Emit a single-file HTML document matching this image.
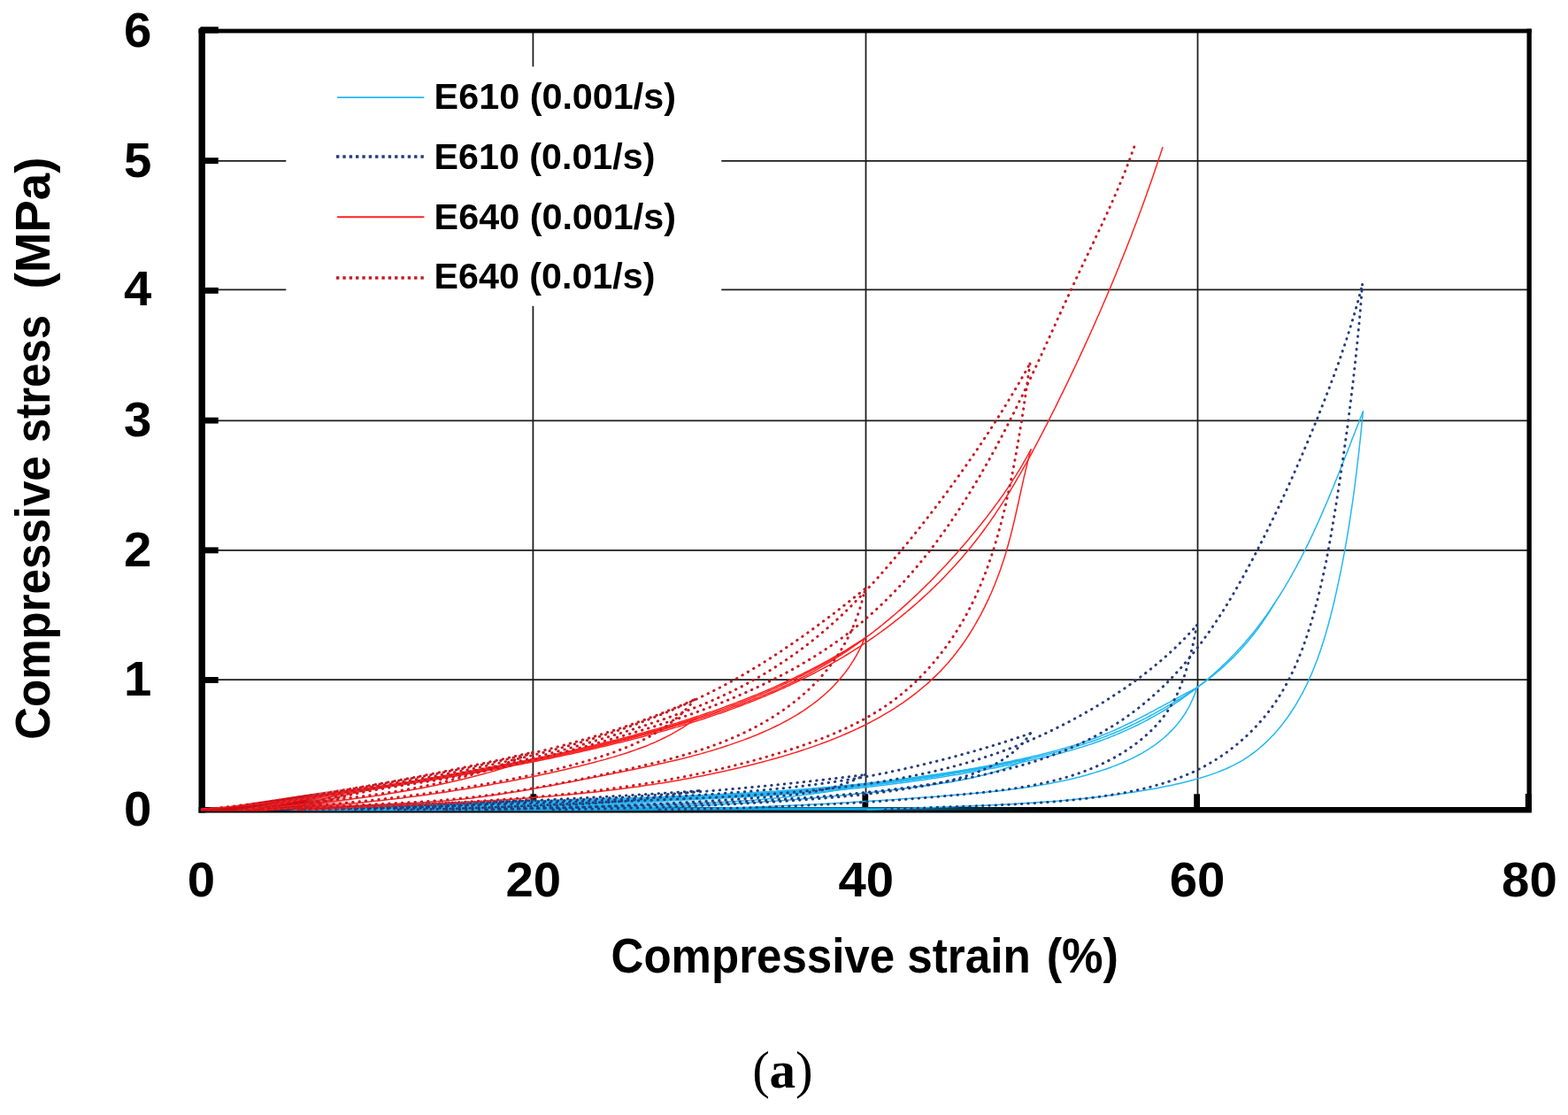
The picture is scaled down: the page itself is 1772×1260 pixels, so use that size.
<!DOCTYPE html>
<html lang="en">
<head>
<meta charset="utf-8">
<title>Compressive stress vs. compressive strain</title>
<style>
html,body{margin:0;padding:0;background:#fff;overflow:hidden}
svg{display:block}
.sb{font-family:"Liberation Sans",sans-serif;font-weight:bold;fill:#000}
.sf{font-family:"Liberation Serif",serif;fill:#000}
.g{stroke:#1c1c1c;stroke-width:1.75;fill:none}
.k{fill:#000}
.c{fill:none;stroke-linejoin:round}
.bs{stroke:#22b8f2;stroke-width:1.5;stroke-linecap:round}
.rs{stroke:#ff2222;stroke-width:1.5;stroke-linecap:round}
.bd{stroke:#263c7c;stroke-width:2.95;stroke-dasharray:0.5 6.84;stroke-linecap:round}
.rd{stroke:#c81a24;stroke-width:2.95;stroke-dasharray:0.5 6.84;stroke-linecap:round}
.c .ls{stroke-width:1.9}
.c .lg{stroke-width:3.4;stroke-dasharray:3.4 3.94;stroke-linecap:butt}
</style>
</head>
<body>
<svg width="1772" height="1260" viewBox="0 0 1772 1260">
<rect width="1772" height="1260" fill="#fff"/>
<g class="g">
<line x1="230" y1="181.8" x2="1727" y2="181.8"/>
<line x1="230" y1="327.3" x2="1727" y2="327.3"/>
<line x1="230" y1="475.3" x2="1727" y2="475.3"/>
<line x1="230" y1="621.9" x2="1727" y2="621.9"/>
<line x1="230" y1="768.0" x2="1727" y2="768.0"/>
<line x1="602.4" y1="36" x2="602.4" y2="914"/>
<line x1="978.5" y1="36" x2="978.5" y2="914"/>
<line x1="1353.5" y1="36" x2="1353.5" y2="914"/>
</g>
<rect x="323.3" y="75.3" width="492" height="270.6" fill="#fff"/>
<g class="k">
<rect x="224.5" y="32.5" width="7.4" height="886"/>
<rect x="224.5" y="912" width="1506.3" height="6.5"/>
<rect x="228" y="32.6" width="1502.8" height="4.8"/>
<rect x="1725.5" y="32.6" width="5.3" height="884"/>
<path d="M227 30.3H246.8V37.4H224.5V32.8Z"/>
<rect x="228" y="178.2" width="18.7" height="6.9"/>
<rect x="228" y="324.9" width="18.7" height="6.9"/>
<rect x="228" y="471.7" width="18.7" height="6.9"/>
<rect x="228" y="618.4" width="18.7" height="6.9"/>
<rect x="228" y="765.0" width="18.7" height="6.9"/>
<rect x="599.4" y="897.3" width="6.8" height="18"/>
<rect x="974.4" y="897.3" width="6.8" height="18"/>
<rect x="1349.2" y="897.3" width="6.8" height="18"/>
<rect x="1723.8" y="897" width="7" height="20"/>
</g>
<defs>
<linearGradient id="fr" gradientUnits="userSpaceOnUse" x1="228" y1="0" x2="470" y2="0"><stop offset="0" stop-color="#d2080e"/><stop offset="0.48" stop-color="#d2080e"/><stop offset="0.72" stop-color="#d2080e" stop-opacity="0"/></linearGradient>
<linearGradient id="fa" gradientUnits="userSpaceOnUse" x1="560" y1="0" x2="1180" y2="0"><stop offset="0" stop-color="#0ea8e8" stop-opacity="0"/><stop offset="0.1" stop-color="#0ea8e8"/><stop offset="0.66" stop-color="#0ea8e8"/><stop offset="1" stop-color="#0a6088" stop-opacity="0"/></linearGradient>
<linearGradient id="fb" gradientUnits="userSpaceOnUse" x1="300" y1="0" x2="840" y2="0"><stop offset="0" stop-color="#10a6e6" stop-opacity="0"/><stop offset="0.1" stop-color="#10a6e6"/><stop offset="0.66" stop-color="#10a6e6"/><stop offset="1" stop-color="#10a6e6" stop-opacity="0"/></linearGradient>
</defs>
<path fill="url(#fb)" d="M300 915L400 912.3L520 908.8L602 906L700 902.5L780 899L840 896L840 916.4L300 916.4Z"/>
<rect x="560" y="912.4" width="620" height="3.3" fill="url(#fa)"/>
<g class="c bs">
<path d="M228 914.5L231 914.5L234 914.5L237.1 914.5L240.1 914.4L243.1 914.4L246.1 914.4L249.1 914.4L252.1 914.4L255.2 914.3L258.2 914.3L261.2 914.3L264.2 914.3L267.2 914.2L270.2 914.2L273.3 914.2L276.3 914.2L279.3 914.1L282.3 914.1L285.3 914.1L288.3 914L291.4 914L294.4 914L297.4 913.9L300.4 913.9L303.4 913.8L306.4 913.8L309.5 913.8L312.5 913.7L315.5 913.7L318.5 913.6L321.5 913.6L324.5 913.5L327.5 913.5L330.6 913.5L333.6 913.4L336.6 913.4L339.6 913.3L342.6 913.3L345.6 913.2L348.7 913.2L351.7 913.1L354.7 913.1L357.7 913L360.7 913L363.7 912.9L366.8 912.8L369.8 912.8L372.8 912.7L375.8 912.7L378.8 912.6L381.8 912.6L384.9 912.5L387.9 912.4L390.9 912.4L393.9 912.3L396.9 912.2L399.9 912.2L403 912.1L406 912.1L409 912L412 911.9L415 911.9L418 911.8L421.1 911.7L424.1 911.7L427.1 911.6L430.1 911.5L433.1 911.5L436.1 911.4L439.1 911.3L442.2 911.2L445.2 911.2L448.2 911.1L451.2 911L454.2 911L457.2 910.9L460.3 910.8L463.3 910.7L466.3 910.7L469.3 910.6L472.3 910.5L475.3 910.4L478.4 910.4L481.4 910.3L484.4 910.2L487.4 910.1L490.4 910L493.4 910L496.5 909.9L499.5 909.8L502.5 909.7L505.5 909.7L508.5 909.6L511.5 909.5L514.5 909.4L517.6 909.3L520.6 909.3L523.6 909.2L526.6 909.1L529.6 909L532.6 908.9L535.7 908.8L538.7 908.8L541.7 908.7L544.7 908.6L547.7 908.5L550.7 908.4L553.8 908.3L556.8 908.3L559.8 908.2L562.8 908.1L565.8 908L568.8 907.9L571.8 907.8L574.9 907.8L577.9 907.7L580.9 907.6L583.9 907.5L586.9 907.4L589.9 907.3L593 907.3L596 907.2L599 907.1L602 907.0"/>
<path d="M602 907L599 907.2L596 907.5L593 907.7L589.9 907.9L586.9 908.1L583.9 908.4L580.9 908.6L577.9 908.8L574.9 909L571.8 909.2L568.8 909.4L565.8 909.5L562.8 909.7L559.8 909.9L556.7 910.1L553.7 910.2L550.7 910.4L547.7 910.6L544.7 910.7L541.6 910.9L538.6 911L535.6 911.2L532.6 911.3L529.6 911.4L526.5 911.6L523.5 911.7L520.5 911.8L517.5 911.9L514.5 912L511.4 912.2L508.4 912.3L505.4 912.4L502.4 912.5L499.3 912.6L496.3 912.7L493.3 912.8L490.3 912.8L487.3 912.9L484.2 913L481.2 913.1L478.2 913.2L475.2 913.3L472.1 913.3L469.1 913.4L466.1 913.5L463.1 913.5L460 913.6L457 913.7L454 913.7L451 913.8L447.9 913.8L444.9 913.9L441.9 913.9L438.9 914L435.8 914L432.8 914.1L429.8 914.1L426.8 914.1L423.7 914.2L420.7 914.2L417.7 914.3L414.7 914.3L411.7 914.3L408.6 914.4L405.6 914.4L402.6 914.4L399.6 914.5L396.5 914.5L393.5 914.5L390.5 914.5L387.5 914.6L384.4 914.6L381.4 914.6L378.4 914.6L375.4 914.7L372.3 914.7L369.3 914.7L366.3 914.7L363.3 914.8L360.2 914.8L357.2 914.8L354.2 914.8L351.2 914.8L348.1 914.9L345.1 914.9L342.1 914.9L339.1 914.9L336 915L333 915L330 915.0"/>
<path d="M280 915L283 914.9L286 914.9L289 914.8L292 914.8L295 914.7L298 914.7L301 914.6L304 914.6L307 914.5L310 914.5L313 914.4L316 914.3L319 914.3L322 914.2L325 914.2L328 914.1L331 914.1L334 914L337 913.9L340 913.9L343 913.8L346 913.8L349 913.7L352 913.6L355 913.6L358 913.5L361 913.5L364 913.4L367 913.3L370 913.3L373 913.2L376 913.2L379 913.1L382 913L385 913L388 912.9L391 912.8L394 912.8L397 912.7L400 912.7L403 912.6L406 912.5L409 912.5L412 912.4L415 912.3L418 912.3L421 912.2L424 912.1L427 912.1L430 912L433 911.9L436 911.9L439 911.8L442 911.7L445 911.6L448 911.6L451 911.5L454 911.4L457 911.4L460 911.3L463 911.2L466 911.1L469 911.1L472 911L475 910.9L478 910.9L481 910.8L484 910.7L487 910.6L490 910.6L493 910.5L496 910.4L499 910.3L502 910.2L505 910.2L508 910.1L511 910L514 909.9L517 909.9L520 909.8L523 909.7L526 909.6L529 909.5L532 909.5L535 909.4L538 909.3L541 909.2L544 909.1L547 909L550 909L553 908.9L556 908.8L559 908.7L562 908.6L565 908.5L568 908.4L571 908.4L574 908.3L577 908.2L580 908.1L583 908L586 907.9L589 907.8L592 907.7L595 907.6L598 907.5L601 907.5L604 907.4L607 907.3L610 907.2L613 907.1L616 907L619 906.9L622 906.8L625 906.7L628 906.6L631 906.5L634 906.4L637 906.3L640 906.2L643 906.1L646 906L649 905.9L652 905.8L655 905.7L658 905.6L661 905.5L664 905.4L667 905.3L670 905.2L673 905.1L676 905L679 904.9L682 904.8L685 904.7L688 904.6L691 904.4L694 904.3L697 904.2L700 904.1L703 904L706 903.9L709 903.8L712 903.7L715 903.6L718 903.4L721 903.3L724 903.2L727 903.1L730 903L733 902.9L736 902.8L739 902.6L742 902.5L745 902.4L748 902.3L751 902.2L754 902L757 901.9L760 901.8L763 901.7L766 901.6L769 901.4L772 901.3L775 901.2L778 901.1L781 900.9L784 900.8L787 900.7L790 900.5"/>
<path d="M790 900.6L787 900.9L784 901.3L781 901.6L778 901.9L775 902.2L772 902.6L769 902.9L766 903.2L763 903.5L760.1 903.8L757.1 904L754.1 904.3L751.1 904.6L748.1 904.9L745.1 905.1L742.1 905.4L739.1 905.6L736.1 905.9L733.1 906.1L730.1 906.4L727.1 906.6L724.1 906.8L721.1 907.1L718 907.3L715 907.5L712 907.7L709 907.9L706 908.1L703 908.3L700 908.5L697 908.7L694 908.9L691 909L688 909.2L685 909.4L682 909.5L679 909.7L676 909.9L673 910L670 910.2L667 910.3L663.9 910.5L660.9 910.6L657.9 910.7L654.9 910.9L651.9 911L648.9 911.1L645.9 911.3L642.9 911.4L639.9 911.5L636.9 911.6L633.9 911.7L630.8 911.8L627.8 911.9L624.8 912L621.8 912.1L618.8 912.2L615.8 912.3L612.8 912.4L609.8 912.5L606.8 912.6L603.7 912.6L600.7 912.7L597.7 912.8L594.7 912.9L591.7 912.9L588.7 913L585.7 913.1L582.7 913.1L579.6 913.2L576.6 913.3L573.6 913.3L570.6 913.4L567.6 913.4L564.6 913.5L561.6 913.5L558.6 913.6L555.5 913.6L552.5 913.7L549.5 913.7L546.5 913.8L543.5 913.8L540.5 913.9L537.5 913.9L534.4 913.9L531.4 914L528.4 914L525.4 914L522.4 914.1L519.4 914.1L516.4 914.1L513.4 914.2L510.3 914.2L507.3 914.2L504.3 914.3L501.3 914.3L498.3 914.3L495.3 914.3L492.3 914.4L489.3 914.4L486.2 914.4L483.2 914.4L480.2 914.5L477.2 914.5L474.2 914.5L471.2 914.5L468.2 914.6L465.2 914.6L462.1 914.6L459.1 914.6L456.1 914.7L453.1 914.7L450.1 914.7L447.1 914.7L444.1 914.8L441.1 914.8L438.1 914.8L435 914.8L432 914.9L429 914.9L426 914.9L423 915L420 915.0"/>
<path d="M330 915L333 914.9L336 914.8L339 914.7L342 914.6L345 914.5L348 914.5L351 914.4L354 914.3L357 914.2L360 914.1L363 914L366 914L369 913.9L372 913.8L375 913.7L378 913.6L381 913.5L384 913.5L387 913.4L390 913.3L393 913.2L396 913.2L399 913.1L402 913L405 912.9L408 912.9L411 912.8L414 912.7L417 912.6L420.1 912.6L423.1 912.5L426.1 912.4L429.1 912.4L432.1 912.3L435.1 912.2L438.1 912.1L441.1 912.1L444.1 912L447.1 911.9L450.1 911.9L453.1 911.8L456.1 911.7L459.1 911.7L462.1 911.6L465.1 911.5L468.1 911.5L471.1 911.4L474.1 911.3L477.1 911.3L480.1 911.2L483.1 911.1L486.1 911.1L489.1 911L492.1 910.9L495.1 910.8L498.1 910.8L501.1 910.7L504.1 910.6L507.1 910.6L510.2 910.5L513.2 910.4L516.2 910.4L519.2 910.3L522.2 910.2L525.2 910.2L528.2 910.1L531.2 910L534.2 910L537.2 909.9L540.2 909.8L543.2 909.8L546.2 909.7L549.2 909.6L552.2 909.5L555.2 909.5L558.2 909.4L561.2 909.3L564.2 909.3L567.2 909.2L570.2 909.1L573.2 909L576.2 909L579.2 908.9L582.2 908.8L585.2 908.7L588.3 908.7L591.3 908.6L594.3 908.5L597.3 908.4L600.3 908.4L603.3 908.3L606.3 908.2L609.3 908.1L612.3 908L615.3 907.9L618.3 907.9L621.3 907.8L624.3 907.7L627.3 907.6L630.3 907.5L633.3 907.4L636.3 907.3L639.3 907.3L642.3 907.2L645.3 907.1L648.3 907L651.3 906.9L654.3 906.8L657.3 906.7L660.3 906.6L663.3 906.5L666.3 906.4L669.3 906.3L672.3 906.2L675.3 906.1L678.3 906L681.3 905.9L684.4 905.8L687.4 905.7L690.4 905.6L693.4 905.5L696.4 905.4L699.4 905.3L702.4 905.2L705.4 905L708.4 904.9L711.4 904.8L714.4 904.7L717.4 904.6L720.4 904.5L723.4 904.3L726.4 904.2L729.4 904.1L732.4 904L735.4 903.9L738.4 903.7L741.4 903.6L744.4 903.5L747.4 903.3L750.4 903.2L753.4 903.1L756.4 902.9L759.4 902.8L762.4 902.6L765.4 902.5L768.4 902.4L771.4 902.2L774.4 902.1L777.4 901.9L780.4 901.8L783.4 901.6L786.4 901.5L789.4 901.3L792.4 901.2L795.4 901L798.4 900.8L801.4 900.7L804.4 900.5L807.4 900.3L810.4 900.2L813.4 900L816.4 899.8L819.4 899.7L822.4 899.5L825.4 899.3L828.3 899.1L831.3 898.9L834.3 898.8L837.3 898.6L840.3 898.4L843.3 898.2L846.3 898L849.3 897.8L852.3 897.6L855.3 897.4L858.3 897.2L861.3 897L864.3 896.8L867.3 896.6L870.3 896.4L873.3 896.2L876.3 896L879.3 895.8L882.3 895.5L885.3 895.3L888.3 895.1L891.3 894.9L894.2 894.6L897.2 894.4L900.2 894.2L903.2 893.9L906.2 893.7L909.2 893.5L912.2 893.2L915.2 893L918.2 892.7L921.2 892.5L924.2 892.2L927.2 892L930.2 891.7L933.2 891.4L936.1 891.2L939.1 890.9L942.1 890.6L945.1 890.4L948.1 890.1L951.1 889.8L954.1 889.5L957.1 889.3L960.1 889L963.1 888.7L966 888.4L969 888.1L972 887.8L975 887.5L978 887.2"/>
<path d="M978 887L975.1 887.6L972.1 888.2L969.2 888.8L966.2 889.3L963.3 889.9L960.3 890.4L957.4 891L954.4 891.5L951.5 892L948.5 892.5L945.6 893L942.6 893.5L939.7 894L936.7 894.4L933.7 894.9L930.8 895.3L927.8 895.8L924.8 896.2L921.9 896.6L918.9 897L915.9 897.4L913 897.8L910 898.2L907 898.6L904 898.9L901.1 899.3L898.1 899.6L895.1 900L892.1 900.3L889.1 900.6L886.2 900.9L883.2 901.3L880.2 901.6L877.2 901.9L874.2 902.1L871.2 902.4L868.3 902.7L865.3 903L862.3 903.2L859.3 903.5L856.3 903.7L853.3 904L850.3 904.2L847.3 904.5L844.3 904.7L841.3 904.9L838.3 905.1L835.3 905.3L832.3 905.5L829.3 905.7L826.3 905.9L823.3 906.1L820.3 906.3L817.3 906.5L814.3 906.7L811.3 906.8L808.3 907L805.3 907.2L802.3 907.3L799.3 907.5L796.3 907.6L793.3 907.8L790.3 907.9L787.3 908.1L784.3 908.2L781.3 908.4L778.3 908.5L775.3 908.6L772.3 908.8L769.3 908.9L766.3 909L763.3 909.1L760.3 909.3L757.3 909.4L754.3 909.5L751.3 909.6L748.3 909.7L745.3 909.8L742.3 910L739.3 910.1L736.3 910.2L733.2 910.3L730.2 910.4L727.2 910.5L724.2 910.6L721.2 910.7L718.2 910.8L715.2 910.9L712.2 911L709.2 911.1L706.2 911.2L703.2 911.3L700.2 911.4L697.2 911.5L694.2 911.6L691.2 911.7L688.2 911.7L685.2 911.8L682.2 911.9L679.2 912L676.2 912.1L673.2 912.2L670.2 912.2L667.1 912.3L664.1 912.4L661.1 912.5L658.1 912.6L655.1 912.6L652.1 912.7L649.1 912.8L646.1 912.9L643.1 912.9L640.1 913L637.1 913.1L634.1 913.1L631.1 913.2L628.1 913.3L625.1 913.3L622.1 913.4L619.1 913.4L616.1 913.5L613.1 913.6L610.1 913.6L607.1 913.7L604.1 913.7L601.1 913.8L598.1 913.9L595.1 913.9L592.1 914L589.1 914L586.1 914.1L583 914.1L580 914.2L577 914.2L574 914.3L571 914.3L568 914.4L565 914.4L562 914.5L559 914.5L556 914.5L553 914.6L550 914.6L547 914.7L544 914.7L541 914.7L538 914.8L535 914.8L532 914.9L529 914.9L526 914.9L523 915L520 915.0"/>
<path d="M380 915L383 914.9L386 914.7L389 914.6L392 914.5L395 914.4L398 914.2L401 914.1L404 914L407 913.9L410 913.8L413 913.7L416 913.6L419 913.4L422 913.3L425 913.2L428 913.1L431 913L434 912.9L437 912.8L440 912.7L443 912.6L446 912.5L449 912.4L452 912.3L455 912.2L458 912.1L461 912.1L464 912L467 911.9L470 911.8L473 911.7L476 911.6L479 911.5L482.1 911.4L485.1 911.4L488.1 911.3L491.1 911.2L494.1 911.1L497.1 911L500.1 910.9L503.1 910.9L506.1 910.8L509.1 910.7L512.1 910.6L515.1 910.6L518.1 910.5L521.1 910.4L524.1 910.3L527.2 910.3L530.2 910.2L533.2 910.1L536.2 910L539.2 910L542.2 909.9L545.2 909.8L548.2 909.7L551.2 909.7L554.2 909.6L557.2 909.5L560.2 909.5L563.2 909.4L566.3 909.3L569.3 909.3L572.3 909.2L575.3 909.1L578.3 909L581.3 909L584.3 908.9L587.3 908.8L590.3 908.8L593.3 908.7L596.3 908.6L599.4 908.5L602.4 908.5L605.4 908.4L608.4 908.3L611.4 908.2L614.4 908.2L617.4 908.1L620.4 908L623.4 908L626.4 907.9L629.4 907.8L632.5 907.7L635.5 907.6L638.5 907.6L641.5 907.5L644.5 907.4L647.5 907.3L650.5 907.2L653.5 907.2L656.5 907.1L659.5 907L662.5 906.9L665.6 906.8L668.6 906.7L671.6 906.7L674.6 906.6L677.6 906.5L680.6 906.4L683.6 906.3L686.6 906.2L689.6 906.1L692.6 906L695.6 905.9L698.7 905.8L701.7 905.7L704.7 905.6L707.7 905.5L710.7 905.4L713.7 905.3L716.7 905.2L719.7 905.1L722.7 905L725.7 904.9L728.7 904.8L731.7 904.7L734.7 904.6L737.7 904.5L740.8 904.3L743.8 904.2L746.8 904.1L749.8 904L752.8 903.9L755.8 903.7L758.8 903.6L761.8 903.5L764.8 903.4L767.8 903.2L770.8 903.1L773.8 902.9L776.8 902.8L779.8 902.7L782.8 902.5L785.8 902.4L788.8 902.2L791.8 902.1L794.8 901.9L797.8 901.8L800.8 901.6L803.9 901.5L806.9 901.3L809.9 901.2L812.9 901L815.9 900.8L818.9 900.7L821.9 900.5L824.9 900.3L827.9 900.1L830.9 900L833.9 899.8L836.9 899.6L839.9 899.4L842.9 899.2L845.9 899L848.9 898.8L851.9 898.6L854.9 898.4L857.9 898.2L860.9 898L863.9 897.8L866.8 897.6L869.8 897.4L872.8 897.2L875.8 897L878.8 896.7L881.8 896.5L884.8 896.3L887.8 896L890.8 895.8L893.8 895.6L896.8 895.3L899.8 895.1L902.8 894.8L905.8 894.6L908.8 894.3L911.8 894.1L914.8 893.8L917.7 893.5L920.7 893.3L923.7 893L926.7 892.7L929.7 892.5L932.7 892.2L935.7 891.9L938.7 891.6L941.7 891.3L944.7 891L947.6 890.7L950.6 890.4L953.6 890.1L956.6 889.8L959.6 889.5L962.6 889.2L965.6 888.8L968.5 888.5L971.5 888.2L974.5 887.9L977.5 887.5L980.5 887.2L983.5 886.8L986.4 886.5L989.4 886.1L992.4 885.8L995.4 885.4L998.4 885L1001.3 884.7L1004.3 884.3L1007.3 883.9L1010.3 883.5L1013.3 883.1L1016.2 882.8L1019.2 882.4L1022.2 882L1025.2 881.6L1028.1 881.1L1031.1 880.7L1034.1 880.3L1037.1 879.9L1040 879.5L1043 879L1046 878.6L1049 878.2L1051.9 877.7L1054.9 877.3L1057.9 876.8L1060.8 876.3L1063.8 875.9L1066.8 875.4L1069.7 874.9L1072.7 874.5L1075.7 874L1078.6 873.5L1081.6 873L1084.6 872.5L1087.5 872L1090.5 871.5L1093.5 871L1096.4 870.4L1099.4 869.9L1102.4 869.4L1105.3 868.8L1108.3 868.3L1111.2 867.8L1114.2 867.2L1117.1 866.7L1120.1 866.1L1123.1 865.5L1126 864.9L1129 864.4L1131.9 863.8L1134.9 863.2L1137.8 862.6L1140.8 862L1143.7 861.4L1146.7 860.8L1149.7 860.2L1152.6 859.5L1155.6 858.9L1158.5 858.3L1161.5 857.6L1164.4 857.0"/>
<path d="M1164.4 856.1L1161.7 857.5L1159 858.8L1156.3 860.1L1153.6 861.3L1150.9 862.5L1148.1 863.7L1145.4 864.8L1142.6 865.9L1139.8 867L1137 868L1134.2 869L1131.4 870L1128.5 870.9L1125.7 871.8L1122.8 872.7L1120 873.5L1117.1 874.3L1114.2 875.1L1111.3 875.9L1108.4 876.6L1105.5 877.3L1102.6 878L1099.6 878.7L1096.7 879.4L1093.8 880L1090.8 880.6L1087.9 881.2L1084.9 881.8L1081.9 882.3L1079 882.8L1076 883.4L1073 883.9L1070 884.4L1067 884.8L1064 885.3L1061.1 885.8L1058.1 886.2L1055.1 886.6L1052.1 887.1L1049.1 887.5L1046.1 887.9L1043.1 888.3L1040.1 888.7L1037 889.1L1034 889.5L1031 889.9L1028 890.2L1025 890.6L1022 891L1019 891.4L1016 891.7L1013 892.1L1010 892.4L1007 892.8L1004 893.2L1001 893.5L998 893.9L995 894.2L992 894.5L989 894.9L986 895.2L983 895.5L980 895.9L977 896.2L974 896.5L971 896.8L968.1 897.1L965.1 897.4L962.1 897.8L959.1 898.1L956.1 898.4L953.1 898.7L950.1 898.9L947.1 899.2L944.1 899.5L941.1 899.8L938.1 900.1L935.1 900.4L932.1 900.6L929.1 900.9L926.1 901.2L923.1 901.4L920.1 901.7L917.1 902L914.1 902.2L911.1 902.5L908.1 902.7L905.1 903L902.1 903.2L899.1 903.4L896.1 903.7L893.1 903.9L890.1 904.1L887 904.4L884 904.6L881 904.8L878 905L875 905.2L872 905.4L869 905.6L866 905.9L863 906.1L860 906.3L857 906.4L854 906.6L851 906.8L847.9 907L844.9 907.2L841.9 907.4L838.9 907.6L835.9 907.7L832.9 907.9L829.9 908.1L826.9 908.3L823.9 908.4L820.8 908.6L817.8 908.8L814.8 908.9L811.8 909.1L808.8 909.2L805.8 909.4L802.8 909.5L799.8 909.7L796.7 909.8L793.7 910L790.7 910.1L787.7 910.3L784.7 910.4L781.7 910.5L778.7 910.7L775.6 910.8L772.6 910.9L769.6 911L766.6 911.2L763.6 911.3L760.6 911.4L757.6 911.5L754.5 911.6L751.5 911.8L748.5 911.9L745.5 912L742.5 912.1L739.5 912.2L736.4 912.3L733.4 912.4L730.4 912.5L727.4 912.6L724.4 912.7L721.4 912.8L718.4 912.9L715.3 913L712.3 913.1L709.3 913.2L706.3 913.3L703.3 913.4L700.3 913.5L697.2 913.6L694.2 913.6L691.2 913.7L688.2 913.8L685.2 913.9L682.2 914L679.2 914.1L676.1 914.1L673.1 914.2L670.1 914.3L667.1 914.4L664.1 914.4L661.1 914.5L658.1 914.6L655.1 914.7L652 914.7L649 914.8L646 914.9L643 914.9L640 915.0"/>
<path d="M450 915L453 914.7L456 914.4L459 914.1L461.9 913.8L464.9 913.6L467.9 913.3L470.9 913L473.9 912.8L476.9 912.5L479.9 912.3L482.9 912L485.9 911.8L488.9 911.6L491.9 911.4L494.9 911.2L497.8 910.9L500.8 910.7L503.8 910.5L506.8 910.3L509.8 910.2L512.8 910L515.8 909.8L518.8 909.6L521.8 909.5L524.8 909.3L527.8 909.1L530.8 909L533.8 908.8L536.8 908.7L539.8 908.5L542.8 908.4L545.8 908.3L548.8 908.1L551.8 908L554.8 907.9L557.8 907.7L560.8 907.6L563.8 907.5L566.9 907.4L569.9 907.3L572.9 907.2L575.9 907.1L578.9 907L581.9 906.9L584.9 906.8L587.9 906.7L590.9 906.6L593.9 906.5L596.9 906.4L599.9 906.3L602.9 906.2L605.9 906.1L608.9 906.1L611.9 906L615 905.9L618 905.8L621 905.7L624 905.7L627 905.6L630 905.5L633 905.4L636 905.4L639 905.3L642 905.2L645 905.1L648 905.1L651.1 905L654.1 904.9L657.1 904.8L660.1 904.8L663.1 904.7L666.1 904.6L669.1 904.5L672.1 904.5L675.1 904.4L678.1 904.3L681.1 904.2L684.2 904.2L687.2 904.1L690.2 904L693.2 903.9L696.2 903.8L699.2 903.7L702.2 903.6L705.2 903.5L708.2 903.5L711.2 903.4L714.2 903.3L717.2 903.2L720.2 903.1L723.3 903L726.3 902.9L729.3 902.8L732.3 902.7L735.3 902.6L738.3 902.4L741.3 902.3L744.3 902.2L747.3 902.1L750.3 902L753.3 901.9L756.3 901.8L759.3 901.6L762.3 901.5L765.3 901.4L768.4 901.3L771.4 901.1L774.4 901L777.4 900.9L780.4 900.7L783.4 900.6L786.4 900.5L789.4 900.3L792.4 900.2L795.4 900L798.4 899.9L801.4 899.7L804.4 899.6L807.4 899.4L810.4 899.3L813.4 899.1L816.4 898.9L819.4 898.8L822.4 898.6L825.4 898.4L828.4 898.3L831.4 898.1L834.4 897.9L837.4 897.7L840.4 897.5L843.4 897.4L846.4 897.2L849.4 897L852.4 896.8L855.4 896.6L858.4 896.4L861.4 896.2L864.4 896L867.4 895.8L870.4 895.6L873.4 895.4L876.4 895.1L879.4 894.9L882.4 894.7L885.4 894.5L888.4 894.3L891.4 894L894.4 893.8L897.4 893.6L900.4 893.3L903.4 893.1L906.4 892.8L909.4 892.6L912.4 892.3L915.4 892.1L918.4 891.8L921.4 891.6L924.4 891.3L927.4 891L930.4 890.7L933.4 890.5L936.4 890.2L939.4 889.9L942.4 889.6L945.4 889.3L948.3 889L951.3 888.7L954.3 888.4L957.3 888.1L960.3 887.8L963.3 887.5L966.3 887.2L969.3 886.9L972.3 886.6L975.3 886.2L978.3 885.9L981.2 885.6L984.2 885.2L987.2 884.9L990.2 884.5L993.2 884.2L996.2 883.8L999.2 883.5L1002.2 883.1L1005.1 882.7L1008.1 882.4L1011.1 882L1014.1 881.6L1017.1 881.2L1020.1 880.8L1023 880.4L1026 880L1029 879.6L1032 879.2L1035 878.8L1037.9 878.4L1040.9 878L1043.9 877.5L1046.9 877.1L1049.8 876.7L1052.8 876.2L1055.8 875.8L1058.8 875.3L1061.7 874.8L1064.7 874.4L1067.7 873.9L1070.6 873.4L1073.6 873L1076.6 872.5L1079.6 872L1082.5 871.5L1085.5 871L1088.5 870.5L1091.4 870L1094.4 869.4L1097.3 868.9L1100.3 868.4L1103.3 867.9L1106.2 867.3L1109.2 866.8L1112.1 866.2L1115.1 865.7L1118.1 865.1L1121 864.5L1124 864L1126.9 863.4L1129.9 862.8L1132.8 862.2L1135.8 861.6L1138.7 861L1141.7 860.4L1144.6 859.8L1147.6 859.1L1150.5 858.5L1153.5 857.9L1156.4 857.2L1159.3 856.6L1162.3 855.9L1165.2 855.2L1168.1 854.5L1171.1 853.9L1174 853.2L1176.9 852.4L1179.8 851.7L1182.8 851L1185.7 850.2L1188.6 849.5L1191.5 848.7L1194.4 847.9L1197.3 847.1L1200.2 846.3L1203.1 845.5L1205.9 844.6L1208.8 843.8L1211.7 842.9L1214.6 842L1217.4 841.1L1220.3 840.2L1223.1 839.2L1226 838.3L1228.8 837.3L1231.6 836.3L1234.4 835.3L1237.2 834.2L1240 833.2L1242.8 832.1L1245.6 831L1248.4 829.9L1251.2 828.7L1254 827.6L1256.7 826.4L1259.5 825.2L1262.2 823.9L1264.9 822.7L1267.7 821.4L1270.4 820.1L1273.1 818.8L1275.8 817.5L1278.5 816.2L1281.2 814.9L1283.9 813.5L1286.6 812.1L1289.2 810.8L1291.9 809.4L1294.6 808L1297.2 806.6L1299.9 805.2L1302.6 803.8L1305.2 802.3L1307.9 800.9L1310.5 799.5L1313.2 798.1L1315.9 796.6L1318.5 795.2L1321.2 793.8L1323.8 792.3L1326.4 790.9L1329.1 789.5L1331.7 788.1L1334.4 786.7L1337.1 785.2L1339.7 783.8L1342.4 782.5L1345 781.1L1347.7 779.7L1350.3 778.3L1353 777.0"/>
<path d="M480 915L483 914.8L486 914.6L489 914.4L492 914.2L495 914L498 913.8L501 913.6L503.9 913.4L506.9 913.2L509.9 913L512.9 912.8L515.9 912.7L518.9 912.5L521.9 912.3L524.9 912.1L527.9 912L530.9 911.8L533.9 911.6L536.9 911.5L539.9 911.3L542.9 911.2L545.9 911L548.9 910.9L551.9 910.7L554.9 910.6L557.9 910.4L560.9 910.3L563.9 910.1L566.8 910L569.8 909.8L572.8 909.7L575.8 909.6L578.8 909.4L581.8 909.3L584.8 909.2L587.8 909.1L590.8 908.9L593.8 908.8L596.8 908.7L599.8 908.6L602.8 908.4L605.8 908.3L608.8 908.2L611.8 908.1L614.8 908L617.8 907.9L620.8 907.7L623.8 907.6L626.8 907.5L629.8 907.4L632.8 907.3L635.8 907.2L638.8 907.1L641.8 907L644.8 906.9L647.8 906.8L650.8 906.7L653.8 906.6L656.8 906.5L659.8 906.3L662.8 906.2L665.8 906.1L668.8 906L671.8 905.9L674.8 905.8L677.8 905.7L680.8 905.6L683.8 905.5L686.8 905.4L689.8 905.3L692.8 905.2L695.8 905.1L698.8 905L701.8 904.9L704.8 904.8L707.8 904.7L710.8 904.6L713.8 904.5L716.8 904.4L719.8 904.3L722.8 904.2L725.8 904.1L728.8 904L731.8 903.9L734.8 903.8L737.8 903.6L740.8 903.5L743.7 903.4L746.7 903.3L749.7 903.2L752.7 903.1L755.7 903L758.7 902.9L761.7 902.7L764.7 902.6L767.7 902.5L770.7 902.4L773.7 902.3L776.7 902.1L779.7 902L782.7 901.9L785.7 901.7L788.7 901.6L791.7 901.5L794.7 901.4L797.7 901.2L800.7 901.1L803.7 900.9L806.7 900.8L809.7 900.7L812.7 900.5L815.7 900.4L818.7 900.2L821.7 900.1L824.7 899.9L827.7 899.8L830.7 899.6L833.7 899.4L836.7 899.3L839.7 899.1L842.7 898.9L845.7 898.8L848.6 898.6L851.6 898.4L854.6 898.2L857.6 898.1L860.6 897.9L863.6 897.7L866.6 897.5L869.6 897.3L872.6 897.1L875.6 896.9L878.6 896.7L881.6 896.5L884.6 896.3L887.6 896.1L890.6 895.9L893.6 895.7L896.5 895.4L899.5 895.2L902.5 895L905.5 894.7L908.5 894.5L911.5 894.3L914.5 894L917.5 893.8L920.5 893.5L923.5 893.3L926.5 893L929.5 892.8L932.4 892.5L935.4 892.2L938.4 891.9L941.4 891.7L944.4 891.4L947.4 891.1L950.4 890.8L953.4 890.5L956.4 890.2L959.3 889.9L962.3 889.6L965.3 889.3L968.3 889L971.3 888.7L974.3 888.3L977.3 888L980.2 887.7L983.2 887.3L986.2 887L989.2 886.7L992.2 886.3L995.2 886L998.1 885.6L1001.1 885.2L1004.1 884.9L1007.1 884.5L1010.1 884.1L1013 883.7L1016 883.3L1019 883L1022 882.6L1025 882.2L1027.9 881.7L1030.9 881.3L1033.9 880.9L1036.8 880.5L1039.8 880.1L1042.8 879.6L1045.8 879.2L1048.7 878.8L1051.7 878.3L1054.7 877.9L1057.6 877.4L1060.6 877L1063.6 876.5L1066.5 876L1069.5 875.5L1072.5 875.1L1075.4 874.6L1078.4 874.1L1081.3 873.6L1084.3 873.1L1087.3 872.6L1090.2 872L1093.2 871.5L1096.1 871L1099.1 870.5L1102 869.9L1105 869.4L1107.9 868.8L1110.9 868.3L1113.8 867.7L1116.8 867.2L1119.7 866.6L1122.7 866L1125.6 865.4L1128.6 864.8L1131.5 864.3L1134.4 863.7L1137.4 863.1L1140.3 862.4L1143.3 861.8L1146.2 861.2L1149.1 860.6L1152.1 859.9L1155 859.3L1157.9 858.6L1160.9 858L1163.8 857.3L1166.7 856.7L1169.6 856L1172.5 855.3L1175.5 854.6L1178.4 853.9L1181.3 853.2L1184.2 852.4L1187.1 851.7L1190 851L1192.9 850.2L1195.8 849.4L1198.7 848.7L1201.6 847.9L1204.4 847L1207.3 846.2L1210.2 845.4L1213.1 844.5L1215.9 843.7L1218.8 842.8L1221.6 841.9L1224.5 841L1227.3 840.1L1230.2 839.1L1233 838.2L1235.8 837.2L1238.6 836.2L1241.4 835.2L1244.2 834.1L1247 833.1L1249.8 832L1252.6 830.9L1255.4 829.8L1258.2 828.7L1260.9 827.5L1263.7 826.4L1266.4 825.2L1269.2 824L1271.9 822.7L1274.6 821.5L1277.3 820.2L1280 818.9L1282.7 817.6L1285.4 816.3L1288.1 815L1290.8 813.6L1293.5 812.3L1296.1 810.9L1298.8 809.5L1301.4 808L1304.1 806.6L1306.7 805.2L1309.3 803.7L1312 802.2L1314.6 800.7L1317.2 799.2L1319.8 797.7L1322.4 796.2L1325 794.7L1327.6 793.1L1330.1 791.5L1332.7 790L1335.3 788.4L1337.8 786.8L1340.4 785.2L1342.9 783.6L1345.4 781.9L1348 780.3L1350.5 778.7L1353 777.0"/>
<path d="M1353 776L1352 779.1L1351 782.2L1349.9 785.2L1348.7 788.1L1347.4 791L1346.1 793.8L1344.8 796.6L1343.4 799.3L1341.9 801.9L1340.4 804.5L1338.8 807.1L1337.1 809.5L1335.4 812L1333.7 814.3L1331.9 816.6L1330.1 818.9L1328.2 821.1L1326.2 823.3L1324.2 825.4L1322.2 827.4L1320.1 829.5L1318 831.4L1315.9 833.3L1313.7 835.2L1311.4 837L1309.1 838.8L1306.8 840.6L1304.5 842.3L1302.1 843.9L1299.7 845.5L1297.2 847.1L1294.7 848.7L1292.2 850.1L1289.7 851.6L1287.1 853L1284.5 854.4L1281.9 855.8L1279.2 857.1L1276.5 858.4L1273.8 859.6L1271.1 860.8L1268.4 862L1265.6 863.1L1262.8 864.3L1260 865.4L1257.2 866.4L1254.4 867.5L1251.6 868.5L1248.7 869.5L1245.9 870.4L1243 871.3L1240.1 872.3L1237.2 873.1L1234.3 874L1231.4 874.8L1228.5 875.7L1225.6 876.5L1222.7 877.2L1219.8 878L1216.8 878.7L1213.9 879.5L1211 880.2L1208 880.9L1205.1 881.5L1202.2 882.2L1199.2 882.8L1196.3 883.4L1193.3 884L1190.4 884.6L1187.4 885.2L1184.4 885.7L1181.5 886.3L1178.5 886.8L1175.6 887.3L1172.6 887.8L1169.6 888.3L1166.6 888.8L1163.7 889.2L1160.7 889.7L1157.7 890.1L1154.7 890.5L1151.7 890.9L1148.7 891.3L1145.7 891.7L1142.7 892.1L1139.8 892.5L1136.8 892.8L1133.8 893.2L1130.8 893.5L1127.8 893.9L1124.8 894.2L1121.8 894.5L1118.8 894.8L1115.8 895.1L1112.8 895.4L1109.8 895.7L1106.8 896L1103.8 896.3L1100.7 896.5L1097.7 896.8L1094.7 897.1L1091.7 897.3L1088.7 897.6L1085.7 897.8L1082.7 898.1L1079.7 898.3L1076.7 898.6L1073.7 898.8L1070.7 899L1067.7 899.3L1064.7 899.5L1061.7 899.7L1058.7 900L1055.7 900.2L1052.7 900.4L1049.7 900.7L1046.7 900.9L1043.7 901.1L1040.7 901.3L1037.7 901.6L1034.7 901.8L1031.7 902L1028.7 902.2L1025.7 902.4L1022.7 902.6L1019.7 902.8L1016.7 903L1013.7 903.3L1010.8 903.5L1007.8 903.7L1004.8 903.9L1001.8 904.1L998.8 904.3L995.8 904.5L992.8 904.7L989.8 904.8L986.8 905L983.8 905.2L980.8 905.4L977.8 905.6L974.9 905.8L971.9 906L968.9 906.2L965.9 906.3L962.9 906.5L959.9 906.7L956.9 906.9L953.9 907L950.9 907.2L947.9 907.4L944.9 907.6L942 907.7L939 907.9L936 908L933 908.2L930 908.4L927 908.5L924 908.7L921 908.8L918 909L915 909.1L912.1 909.3L909.1 909.4L906.1 909.6L903.1 909.7L900.1 909.9L897.1 910L894.1 910.2L891.1 910.3L888.1 910.4L885.1 910.6L882.1 910.7L879.1 910.8L876.2 911L873.2 911.1L870.2 911.2L867.2 911.4L864.2 911.5L861.2 911.6L858.2 911.7L855.2 911.8L852.2 912L849.2 912.1L846.2 912.2L843.2 912.3L840.2 912.4L837.2 912.5L834.2 912.6L831.2 912.7L828.2 912.8L825.2 912.9L822.2 913L819.2 913.1L816.2 913.2L813.2 913.3L810.2 913.4L807.2 913.5L804.2 913.6L801.2 913.7L798.2 913.8L795.2 913.9L792.2 914L789.2 914.1L786.2 914.1L783.1 914.2L780.1 914.3L777.1 914.4L774.1 914.5L771.1 914.5L768.1 914.6L765.1 914.7L762.1 914.7L759.1 914.8L756 914.9L753 914.9L750 915.0"/>
<path d="M560 915L563 914.7L566 914.5L569 914.2L572 914L575 913.7L578 913.5L581 913.2L584 913L587 912.8L590 912.5L593 912.3L596 912.1L599 911.9L602 911.7L605 911.5L608 911.3L611 911.1L614 910.9L617 910.7L620 910.5L623 910.3L626 910.1L629 910L632 909.8L635 909.6L638 909.5L641 909.3L644 909.1L647 909L650 908.8L653 908.7L656 908.5L659 908.4L662 908.2L665 908.1L668 907.9L671 907.8L674 907.7L677 907.5L680 907.4L683 907.3L686 907.1L689 907L692 906.9L695 906.8L698 906.6L701 906.5L704 906.4L707 906.3L710 906.2L713 906L716 905.9L719 905.8L722 905.7L725 905.6L728 905.5L731 905.3L734 905.2L737 905.1L740 905L743 904.9L746 904.8L749 904.7L752 904.5L755 904.4L758 904.3L761 904.2L764 904.1L767 904L770.1 903.9L773.1 903.7L776.1 903.6L779.1 903.5L782.1 903.4L785.1 903.3L788.1 903.1L791.1 903L794.1 902.9L797.1 902.8L800.1 902.6L803.1 902.5L806.1 902.4L809.1 902.2L812.1 902.1L815.1 902L818.1 901.8L821.1 901.7L824.1 901.5L827.1 901.4L830.1 901.2L833.1 901.1L836.1 900.9L839.1 900.8L842.1 900.6L845.1 900.4L848.1 900.3L851.1 900.1L854.1 899.9L857.1 899.8L860.1 899.6L863.1 899.4L866.1 899.2L869.1 899L872.1 898.8L875.1 898.6L878.1 898.4L881.1 898.2L884.1 898L887.1 897.8L890.2 897.6L893.2 897.4L896.2 897.2L899.2 896.9L902.2 896.7L905.2 896.5L908.2 896.2L911.2 896L914.2 895.8L917.1 895.5L920.1 895.3L923.1 895L926.1 894.8L929.1 894.5L932.1 894.2L935.1 894L938.1 893.7L941.1 893.4L944.1 893.1L947.1 892.8L950.1 892.5L953.1 892.2L956.1 891.9L959.1 891.6L962.1 891.3L965.1 891L968.1 890.7L971.1 890.4L974.1 890.1L977 889.7L980 889.4L983 889.1L986 888.7L989 888.4L992 888L995 887.7L998 887.3L1001 886.9L1003.9 886.6L1006.9 886.2L1009.9 885.8L1012.9 885.4L1015.9 885.1L1018.9 884.7L1021.8 884.3L1024.8 883.9L1027.8 883.5L1030.8 883.1L1033.8 882.6L1036.7 882.2L1039.7 881.8L1042.7 881.4L1045.7 880.9L1048.6 880.5L1051.6 880.1L1054.6 879.6L1057.6 879.2L1060.5 878.7L1063.5 878.2L1066.5 877.8L1069.4 877.3L1072.4 876.8L1075.4 876.3L1078.3 875.8L1081.3 875.4L1084.3 874.9L1087.2 874.4L1090.2 873.8L1093.2 873.3L1096.1 872.8L1099.1 872.3L1102 871.8L1105 871.2L1108 870.7L1110.9 870.2L1113.9 869.6L1116.8 869L1119.8 868.5L1122.7 867.9L1125.7 867.4L1128.6 866.8L1131.6 866.2L1134.5 865.6L1137.5 865L1140.4 864.4L1143.3 863.8L1146.3 863.2L1149.2 862.6L1152.2 862L1155.1 861.3L1158 860.7L1161 860.1L1163.9 859.4L1166.8 858.8L1169.8 858.1L1172.7 857.4L1175.6 856.8L1178.6 856.1L1181.5 855.4L1184.4 854.7L1187.3 854L1190.2 853.2L1193.1 852.5L1196 851.7L1198.9 851L1201.8 850.2L1204.7 849.4L1207.6 848.6L1210.5 847.8L1213.4 846.9L1216.2 846.1L1219.1 845.2L1222 844.4L1224.8 843.5L1227.7 842.5L1230.5 841.6L1233.4 840.7L1236.2 839.7L1239 838.7L1241.9 837.7L1244.7 836.7L1247.5 835.6L1250.3 834.6L1253.1 833.5L1255.9 832.4L1258.7 831.3L1261.5 830.1L1264.2 829L1267 827.8L1269.7 826.6L1272.5 825.4L1275.2 824.1L1277.9 822.9L1280.7 821.6L1283.4 820.3L1286.1 819L1288.8 817.6L1291.4 816.3L1294.1 814.9L1296.8 813.5L1299.4 812L1302.1 810.6L1304.7 809.1L1307.3 807.6L1309.9 806.1L1312.5 804.6L1315.1 803L1317.7 801.5L1320.2 799.9L1322.8 798.3L1325.3 796.6L1327.9 795L1330.4 793.3L1332.9 791.6L1335.4 789.9L1337.8 788.2L1340.3 786.4L1342.7 784.7L1345.2 782.9L1347.6 781.1L1350 779.3L1352.4 777.4L1354.8 775.6L1357.1 773.7L1359.5 771.8L1361.8 769.9L1364.2 768L1366.5 766L1368.7 764L1371 762.1L1373.3 760.1L1375.5 758.1L1377.7 756L1379.9 754L1382.1 751.9L1384.3 749.8L1386.5 747.7L1388.6 745.6L1390.7 743.5L1392.8 741.3L1394.9 739.2L1397 737L1399 734.8L1401.1 732.6L1403.1 730.4L1405.1 728.1L1407.1 725.9L1409 723.6L1411 721.3L1412.9 719L1414.8 716.7L1416.7 714.4L1418.5 712.1L1420.4 709.7L1422.2 707.4L1424 705L1425.8 702.6L1427.6 700.2L1429.3 697.8L1431.1 695.4L1432.8 692.9L1434.5 690.5L1436.2 688L1437.9 685.5L1439.6 683L1441.2 680.5L1442.8 678L1444.4 675.5L1446 673L1447.6 670.5L1449.2 667.9L1450.8 665.3L1452.3 662.8L1453.8 660.2L1455.4 657.6L1456.9 655L1458.4 652.4L1459.8 649.8L1461.3 647.2L1462.7 644.5L1464.2 641.9L1465.6 639.3L1467 636.6L1468.4 633.9L1469.8 631.3L1471.2 628.6L1472.6 625.9L1473.9 623.2L1475.3 620.5L1476.6 617.8L1478 615.1L1479.3 612.4L1480.6 609.7L1481.9 606.9L1483.2 604.2L1484.5 601.5L1485.7 598.7L1487 596L1488.2 593.2L1489.5 590.5L1490.7 587.7L1492 584.9L1493.2 582.2L1494.4 579.4L1495.6 576.6L1496.8 573.8L1498 571.1L1499.2 568.3L1500.4 565.5L1501.5 562.7L1502.7 559.9L1503.9 557.1L1505 554.3L1506.2 551.5L1507.3 548.7L1508.5 545.9L1509.6 543.1L1510.8 540.3L1511.9 537.5L1513 534.7L1514.1 531.9L1515.2 529.1L1516.4 526.3L1517.5 523.5L1518.6 520.7L1519.7 517.9L1520.8 515.1L1521.9 512.3L1523 509.5L1524.1 506.7L1525.2 503.9L1526.3 501.1L1527.3 498.3L1528.4 495.5L1529.5 492.7L1530.6 489.9L1531.7 487.1L1532.8 484.4L1533.9 481.6L1535 478.8L1536 476L1537.1 473.3L1538.2 470.5L1539.3 467.8L1540.4 465.0"/>
<path d="M1540.4 465L1540.1 468L1539.8 471L1539.5 474L1539.2 477L1538.9 480L1538.6 483L1538.3 486L1538 489L1537.7 492L1537.4 495L1537.1 498L1536.7 501L1536.4 504L1536.1 506.9L1535.8 509.9L1535.4 512.9L1535.1 515.9L1534.7 518.9L1534.4 521.9L1534 524.8L1533.7 527.8L1533.3 530.8L1533 533.8L1532.6 536.7L1532.2 539.7L1531.8 542.7L1531.5 545.6L1531.1 548.6L1530.7 551.6L1530.3 554.5L1529.9 557.5L1529.5 560.5L1529.1 563.4L1528.7 566.4L1528.2 569.4L1527.8 572.3L1527.4 575.3L1526.9 578.2L1526.5 581.2L1526 584.1L1525.6 587.1L1525.1 590L1524.7 593L1524.2 595.9L1523.7 598.9L1523.2 601.8L1522.7 604.8L1522.2 607.7L1521.7 610.7L1521.2 613.6L1520.7 616.6L1520.2 619.5L1519.6 622.5L1519.1 625.4L1518.5 628.3L1518 631.3L1517.4 634.2L1516.9 637.2L1516.3 640.1L1515.7 643.1L1515.1 646L1514.5 648.9L1513.9 651.9L1513.3 654.8L1512.7 657.7L1512 660.7L1511.4 663.6L1510.7 666.5L1510.1 669.5L1509.4 672.4L1508.7 675.4L1508.1 678.3L1507.4 681.2L1506.7 684.2L1506 687.1L1505.2 690L1504.5 692.9L1503.8 695.9L1503 698.8L1502.2 701.7L1501.5 704.6L1500.7 707.5L1499.8 710.5L1499 713.4L1498.2 716.3L1497.3 719.2L1496.4 722L1495.6 724.9L1494.6 727.8L1493.7 730.7L1492.8 733.5L1491.8 736.4L1490.8 739.2L1489.8 742.1L1488.8 744.9L1487.7 747.7L1486.6 750.5L1485.5 753.3L1484.4 756.1L1483.3 758.9L1482.1 761.6L1480.9 764.4L1479.7 767.1L1478.4 769.9L1477.2 772.6L1475.9 775.3L1474.5 778L1473.2 780.7L1471.8 783.3L1470.3 786L1468.9 788.6L1467.4 791.2L1465.9 793.8L1464.4 796.4L1462.8 799L1461.2 801.5L1459.5 804L1457.9 806.5L1456.2 809L1454.5 811.4L1452.7 813.8L1450.9 816.2L1449.1 818.6L1447.2 820.9L1445.3 823.2L1443.4 825.5L1441.4 827.7L1439.5 829.9L1437.4 832.1L1435.4 834.2L1433.3 836.3L1431.2 838.4L1429 840.4L1426.8 842.4L1424.6 844.3L1422.4 846.2L1420.1 848.1L1417.8 849.9L1415.4 851.7L1413 853.4L1410.6 855.1L1408.1 856.7L1405.6 858.3L1403.1 859.8L1400.5 861.3L1397.9 862.7L1395.3 864.1L1392.6 865.4L1390 866.7L1387.2 868L1384.5 869.2L1381.7 870.3L1378.9 871.5L1376.1 872.6L1373.3 873.6L1370.5 874.6L1367.6 875.6L1364.7 876.6L1361.9 877.5L1359 878.4L1356.1 879.3L1353.1 880.1L1350.2 880.9L1347.3 881.7L1344.3 882.5L1341.4 883.3L1338.5 884L1335.5 884.7L1332.6 885.4L1329.6 886.1L1326.6 886.8L1323.7 887.4L1320.7 888L1317.7 888.6L1314.8 889.2L1311.8 889.8L1308.8 890.4L1305.8 890.9L1302.9 891.5L1299.9 892L1296.9 892.5L1293.9 893L1291 893.5L1288 894L1285 894.5L1282 894.9L1279.1 895.4L1276.1 895.8L1273.1 896.3L1270.2 896.7L1267.2 897.1L1264.2 897.5L1261.3 898L1258.3 898.3L1255.3 898.7L1252.4 899.1L1249.4 899.5L1246.4 899.9L1243.5 900.2L1240.5 900.6L1237.5 900.9L1234.6 901.2L1231.6 901.6L1228.6 901.9L1225.6 902.2L1222.7 902.5L1219.7 902.8L1216.7 903.1L1213.8 903.4L1210.8 903.7L1207.8 903.9L1204.8 904.2L1201.9 904.5L1198.9 904.7L1195.9 905L1192.9 905.2L1189.9 905.4L1187 905.7L1184 905.9L1181 906.1L1178 906.4L1175 906.6L1172 906.8L1169 907L1166 907.2L1163 907.4L1160 907.6L1157.1 907.8L1154.1 908L1151.1 908.1L1148.1 908.3L1145.1 908.5L1142.1 908.7L1139.1 908.8L1136.1 909L1133.1 909.1L1130.1 909.3L1127.1 909.5L1124.1 909.6L1121.1 909.8L1118.1 909.9L1115.1 910L1112 910.2L1109 910.3L1106 910.4L1103 910.6L1100 910.7L1097 910.8L1094 911L1091 911.1L1088 911.2L1085 911.3L1082 911.4L1079 911.5L1076 911.7L1073 911.8L1070 911.9L1067 912L1064 912.1L1060.9 912.2L1057.9 912.3L1054.9 912.4L1051.9 912.5L1048.9 912.6L1045.9 912.7L1042.9 912.8L1039.9 912.9L1036.9 913L1033.9 913.1L1030.9 913.2L1027.9 913.3L1024.9 913.4L1021.9 913.5L1018.9 913.6L1015.9 913.7L1012.9 913.8L1009.9 913.9L1006.9 914L1003.9 914.1L1000.9 914.2L997.9 914.3L994.9 914.4L992 914.6L989 914.7L986 914.8L983 914.9L980 915.0"/>
<path d="M1353 776.5L1355.5 774.8L1358 773.1L1360.4 771.3L1362.8 769.6L1365.2 767.8L1367.6 765.9L1370 764.1L1372.3 762.2L1374.6 760.3L1376.9 758.3L1379.2 756.4L1381.5 754.4L1383.7 752.4L1385.9 750.3L1388.1 748.3L1390.3 746.2L1392.4 744.1L1394.6 742L1396.7 739.8L1398.7 737.6L1400.8 735.5L1402.8 733.2L1404.8 731L1406.8 728.7L1408.8 726.5L1410.7 724.2L1412.6 721.8L1414.5 719.5L1416.4 717.2L1418.3 714.8L1420.1 712.4L1421.9 710L1423.6 707.5L1425.4 705.1L1427.1 702.6L1428.8 700.1L1430.5 697.6L1432.1 695.1L1433.8 692.6L1435.4 690.1L1436.9 687.5L1438.5 684.9L1440 682.3"/>
<path d="M340 915L343 914.8L346 914.6L349 914.3L352 914.1L355 913.9L358 913.7L361 913.5L364 913.3L367 913.2L370 913L373 912.8L376 912.6L379 912.4L382 912.3L385 912.1L388 911.9L391 911.8L394 911.6L397 911.4L400 911.3L403 911.1L406 911L409 910.8L412 910.7L415 910.6L418 910.4L421 910.3L424 910.2L427 910L430 909.9L433 909.8L436 909.7L439 909.5L442 909.4L445 909.3L448.1 909.2L451.1 909.1L454.1 909L457.1 908.9L460.1 908.8L463.1 908.7L466.1 908.6L469.1 908.5L472.1 908.4L475.1 908.3L478.1 908.2L481.1 908.1L484.1 908L487.1 907.9L490.1 907.8L493.1 907.7L496.2 907.6L499.2 907.5L502.2 907.5L505.2 907.4L508.2 907.3L511.2 907.2L514.2 907.1L517.2 907L520.2 907L523.2 906.9L526.2 906.8L529.2 906.7L532.3 906.7L535.3 906.6L538.3 906.5L541.3 906.4L544.3 906.3L547.3 906.3L550.3 906.2L553.3 906.1L556.3 906L559.3 906L562.3 905.9L565.3 905.8L568.4 905.7L571.4 905.7L574.4 905.6L577.4 905.5L580.4 905.4L583.4 905.4L586.4 905.3L589.4 905.2L592.4 905.1L595.4 905.1L598.4 905L601.5 904.9L604.5 904.8L607.5 904.7L610.5 904.7L613.5 904.6L616.5 904.5L619.5 904.4L622.5 904.3L625.5 904.3L628.5 904.2L631.5 904.1L634.6 904L637.6 903.9L640.6 903.9L643.6 903.8L646.6 903.7L649.6 903.6L652.6 903.5L655.6 903.4L658.6 903.4L661.6 903.3L664.6 903.2L667.7 903.1L670.7 903L673.7 902.9L676.7 902.8L679.7 902.7L682.7 902.7L685.7 902.6L688.7 902.5L691.7 902.4L694.7 902.3L697.7 902.2L700.7 902.1L703.8 902L706.8 901.9L709.8 901.8L712.8 901.7L715.8 901.6L718.8 901.5L721.8 901.4L724.8 901.3L727.8 901.2L730.8 901.1L733.8 901L736.8 900.9L739.9 900.8L742.9 900.7L745.9 900.5L748.9 900.4L751.9 900.3L754.9 900.2L757.9 900.1L760.9 900L763.9 899.8L766.9 899.7L769.9 899.6L772.9 899.5L776 899.4L779 899.2L782 899.1L785 899L788 898.8L791 898.7L794 898.6L797 898.4L800 898.3L803 898.2L806 898L809 897.9L812 897.7L815 897.6L818 897.4L821.1 897.3L824.1 897.1L827.1 897L830.1 896.8L833.1 896.7L836.1 896.5L839.1 896.3L842.1 896.2L845.1 896L848.1 895.8L851.1 895.6L854.1 895.5L857.1 895.3L860.1 895.1L863.1 894.9L866.1 894.7L869.1 894.5L872.1 894.3L875.1 894.2L878.1 894L881.1 893.7L884.1 893.5L887.1 893.3L890.1 893.1L893.1 892.9L896.1 892.7L899.1 892.5L902.1 892.2L905.1 892L908.1 891.8L911.1 891.5L914.1 891.3L917.1 891.1L920.1 890.8L923.1 890.6L926.1 890.3L929.1 890.1L932.1 889.8L935.1 889.5L938.1 889.3L941.1 889L944.1 888.7L947.1 888.4L950.1 888.2L953.1 887.9L956.1 887.6L959 887.3L962 887L965 886.7L968 886.4L971 886.1L974 885.7L977 885.4L980 885.1L983 884.8L986 884.4L988.9 884.1L991.9 883.8L994.9 883.4L997.9 883.1L1000.9 882.7L1003.9 882.4L1006.9 882L1009.9 881.6L1012.8 881.3L1015.8 880.9L1018.8 880.5L1021.8 880.1L1024.8 879.7L1027.8 879.3L1030.7 879L1033.7 878.6L1036.7 878.2L1039.7 877.7L1042.7 877.3L1045.6 876.9L1048.6 876.5L1051.6 876.1L1054.6 875.6L1057.6 875.2L1060.5 874.8L1063.5 874.3L1066.5 873.9L1069.5 873.5L1072.4 873L1075.4 872.5L1078.4 872.1L1081.4 871.6L1084.3 871.2L1087.3 870.7L1090.3 870.2L1093.2 869.7L1096.2 869.2L1099.2 868.8L1102.2 868.3L1105.1 867.8L1108.1 867.3L1111.1 866.8L1114 866.3L1117 865.7L1120 865.2L1122.9 864.7L1125.9 864.2L1128.9 863.6L1131.8 863.1L1134.8 862.6L1137.8 862L1140.7 861.5L1143.7 860.9L1146.6 860.4L1149.6 859.8L1152.6 859.3L1155.5 858.7L1158.5 858.1L1161.4 857.6L1164.4 857.0"/>
<path d="M360 915L363 914.8L366 914.7L369 914.5L372 914.3L375 914.1L377.9 914L380.9 913.8L383.9 913.7L386.9 913.5L389.9 913.3L392.9 913.2L395.9 913L398.9 912.9L401.9 912.7L404.9 912.6L407.9 912.5L410.9 912.3L413.9 912.2L416.9 912L419.9 911.9L422.9 911.8L425.9 911.6L428.8 911.5L431.8 911.4L434.8 911.3L437.8 911.1L440.8 911L443.8 910.9L446.8 910.8L449.8 910.6L452.8 910.5L455.8 910.4L458.8 910.3L461.8 910.2L464.8 910.1L467.8 910L470.8 909.9L473.8 909.7L476.8 909.6L479.8 909.5L482.8 909.4L485.8 909.3L488.8 909.2L491.8 909.1L494.8 909L497.8 908.9L500.8 908.8L503.8 908.7L506.8 908.6L509.8 908.5L512.8 908.5L515.8 908.4L518.8 908.3L521.8 908.2L524.8 908.1L527.8 908L530.8 907.9L533.8 907.8L536.8 907.7L539.8 907.7L542.8 907.6L545.8 907.5L548.8 907.4L551.8 907.3L554.8 907.2L557.8 907.1L560.9 907.1L563.9 907L566.9 906.9L569.9 906.8L572.9 906.7L575.9 906.7L578.9 906.6L581.9 906.5L584.9 906.4L587.9 906.3L590.9 906.2L593.9 906.2L596.9 906.1L599.9 906L602.9 905.9L605.9 905.8L608.9 905.8L611.9 905.7L614.9 905.6L617.9 905.5L620.9 905.4L623.9 905.4L626.9 905.3L629.9 905.2L632.9 905.1L635.9 905L638.9 905L641.9 904.9L644.9 904.8L647.9 904.7L651 904.6L654 904.5L657 904.5L660 904.4L663 904.3L666 904.2L669 904.1L672 904L675 903.9L678 903.8L681 903.7L684 903.7L687 903.6L690 903.5L693 903.4L696 903.3L699 903.2L702 903.1L705 903L708 902.9L711 902.8L714 902.7L717 902.6L720 902.5L723 902.4L726 902.3L729 902.2L732 902.1L735 901.9L738 901.8L741 901.7L744 901.6L747 901.5L750 901.4L753 901.3L756 901.1L759 901L762 900.9L765 900.8L768 900.6L771 900.5L774 900.4L777 900.3L780 900.1L783 900L786 899.8L789 899.7L792 899.6L795 899.4L798 899.3L801 899.1L804 899L807 898.8L810 898.7L813 898.5L816 898.4L819 898.2L822 898.1L825 897.9L828 897.7L831 897.6L834 897.4L837 897.2L840 897L843 896.9L846 896.7L849 896.5L852 896.3L855 896.1L858 895.9L861 895.7L863.9 895.5L866.9 895.3L869.9 895.1L872.9 894.9L875.9 894.7L878.9 894.5L881.9 894.3L884.9 894.1L887.9 893.9L890.9 893.7L893.9 893.4L896.9 893.2L899.8 893L902.8 892.8L905.8 892.5L908.8 892.3L911.8 892L914.8 891.8L917.8 891.5L920.8 891.3L923.8 891L926.7 890.8L929.7 890.5L932.7 890.3L935.7 890L938.7 889.7L941.7 889.5L944.7 889.2L947.6 888.9L950.6 888.6L953.6 888.3L956.6 888L959.6 887.7L962.6 887.4L965.6 887.1L968.5 886.8L971.5 886.5L974.5 886.2L977.5 885.9L980.5 885.6L983.4 885.2L986.4 884.9L989.4 884.6L992.4 884.2L995.4 883.9L998.3 883.6L1001.3 883.2L1004.3 882.9L1007.3 882.5L1010.2 882.1L1013.2 881.8L1016.2 881.4L1019.2 881L1022.2 880.7L1025.1 880.3L1028.1 879.9L1031.1 879.5L1034.1 879.1L1037 878.7L1040 878.3L1043 877.9L1045.9 877.5L1048.9 877.1L1051.9 876.6L1054.9 876.2L1057.8 875.8L1060.8 875.4L1063.8 874.9L1066.7 874.5L1069.7 874L1072.7 873.6L1075.6 873.1L1078.6 872.6L1081.6 872.2L1084.5 871.7L1087.5 871.2L1090.5 870.7L1093.4 870.3L1096.4 869.8L1099.4 869.3L1102.3 868.8L1105.3 868.3L1108.2 867.7L1111.2 867.2L1114.2 866.7L1117.1 866.2L1120.1 865.6L1123 865.1L1126 864.6L1129 864L1131.9 863.5L1134.9 862.9L1137.8 862.3L1140.8 861.8L1143.7 861.2L1146.7 860.6L1149.6 860L1152.6 859.4L1155.5 858.8L1158.5 858.2L1161.4 857.6L1164.4 857.0"/>
<path d="M420 915L423 914.9L426 914.8L429 914.6L432 914.5L435 914.4L438 914.3L441 914.2L444 914L447 913.9L450 913.8L453 913.7L456 913.6L459 913.5L462 913.4L464.9 913.3L467.9 913.2L470.9 913.1L473.9 913L476.9 912.9L479.9 912.8L482.9 912.7L485.9 912.6L488.9 912.5L491.9 912.4L494.9 912.3L497.9 912.2L500.9 912.1L503.9 912L506.9 911.9L509.9 911.8L512.9 911.7L516 911.6L519 911.5L522 911.4L525 911.4L528 911.3L531 911.2L534 911.1L537 911L540 910.9L543 910.8L546 910.7L549 910.7L552 910.6L555 910.5L558 910.4L561 910.3L564 910.2L567 910.1L570 910.1L573 910L576 909.9L579 909.8L582 909.7L585 909.6L588 909.6L591 909.5L594 909.4L597 909.3L600 909.2L603 909.1L606 909.1L609 909L612.1 908.9L615.1 908.8L618.1 908.7L621.1 908.6L624.1 908.5L627.1 908.4L630.1 908.4L633.1 908.3L636.1 908.2L639.1 908.1L642.1 908L645.1 907.9L648.1 907.8L651.1 907.7L654.1 907.6L657.1 907.5L660.1 907.4L663.1 907.4L666.1 907.3L669.1 907.2L672.1 907.1L675.1 907L678.2 906.9L681.2 906.8L684.2 906.7L687.2 906.6L690.2 906.5L693.2 906.4L696.2 906.3L699.2 906.1L702.2 906L705.2 905.9L708.2 905.8L711.2 905.7L714.2 905.6L717.2 905.5L720.2 905.4L723.2 905.2L726.2 905.1L729.2 905L732.2 904.9L735.2 904.8L738.2 904.6L741.2 904.5L744.2 904.4L747.2 904.3L750.2 904.1L753.2 904L756.2 903.9L759.2 903.7L762.2 903.6L765.2 903.5L768.2 903.3L771.2 903.2L774.2 903L777.2 902.9L780.2 902.7L783.2 902.6L786.2 902.4L789.2 902.3L792.2 902.1L795.2 902L798.2 901.8L801.2 901.6L804.2 901.5L807.2 901.3L810.2 901.1L813.2 901L816.2 900.8L819.2 900.6L822.2 900.5L825.2 900.3L828.2 900.1L831.2 899.9L834.2 899.7L837.2 899.5L840.2 899.3L843.2 899.1L846.2 898.9L849.2 898.7L852.2 898.5L855.2 898.3L858.2 898.1L861.2 897.9L864.2 897.7L867.1 897.5L870.1 897.3L873.1 897L876.1 896.8L879.1 896.6L882.1 896.4L885.1 896.1L888.1 895.9L891.1 895.7L894.1 895.4L897.1 895.2L900.1 894.9L903 894.7L906 894.4L909 894.2L912 893.9L915 893.6L918 893.4L921 893.1L924 892.8L926.9 892.5L929.9 892.3L932.9 892L935.9 891.7L938.9 891.4L941.9 891.1L944.9 890.8L947.8 890.5L950.8 890.2L953.8 889.9L956.8 889.6L959.8 889.3L962.8 889L965.7 888.6L968.7 888.3L971.7 888L974.7 887.6L977.7 887.3L980.6 887L983.6 886.6L986.6 886.3L989.6 885.9L992.6 885.5L995.5 885.2L998.5 884.8L1001.5 884.4L1004.5 884.1L1007.4 883.7L1010.4 883.3L1013.4 882.9L1016.4 882.5L1019.3 882.1L1022.3 881.7L1025.3 881.3L1028.3 880.9L1031.2 880.5L1034.2 880.1L1037.2 879.7L1040.1 879.3L1043.1 878.8L1046.1 878.4L1049.1 878L1052 877.5L1055 877.1L1058 876.6L1060.9 876.2L1063.9 875.7L1066.9 875.2L1069.8 874.8L1072.8 874.3L1075.8 873.8L1078.7 873.3L1081.7 872.8L1084.6 872.3L1087.6 871.8L1090.6 871.3L1093.5 870.8L1096.5 870.3L1099.4 869.8L1102.4 869.2L1105.4 868.7L1108.3 868.2L1111.3 867.6L1114.2 867.1L1117.2 866.5L1120.1 866L1123.1 865.4L1126.1 864.9L1129 864.3L1132 863.7L1134.9 863.1L1137.9 862.5L1140.8 861.9L1143.8 861.3L1146.7 860.7L1149.7 860.1L1152.6 859.5L1155.6 858.9L1158.5 858.3L1161.5 857.6L1164.4 857.0"/>
<path d="M470 915L473 914.9L476 914.7L479 914.6L482 914.5L485 914.4L488 914.2L491 914.1L494 914L497 913.9L500 913.7L503 913.6L506 913.5L509 913.4L512 913.3L515 913.2L518 913L521 912.9L524 912.8L527 912.7L530 912.6L533 912.5L536 912.4L539.1 912.3L542.1 912.2L545.1 912.1L548.1 911.9L551.1 911.8L554.1 911.7L557.1 911.6L560.1 911.5L563.1 911.4L566.1 911.3L569.1 911.2L572.1 911.1L575.1 911L578.1 910.9L581.1 910.8L584.1 910.7L587.2 910.6L590.2 910.5L593.2 910.4L596.2 910.3L599.2 910.2L602.2 910.1L605.2 910L608.2 909.9L611.2 909.8L614.2 909.7L617.2 909.6L620.2 909.5L623.2 909.4L626.3 909.3L629.3 909.2L632.3 909.1L635.3 909L638.3 908.9L641.3 908.8L644.3 908.7L647.3 908.6L650.3 908.5L653.3 908.4L656.3 908.3L659.3 908.2L662.4 908.1L665.4 908L668.4 907.9L671.4 907.8L674.4 907.7L677.4 907.6L680.4 907.5L683.4 907.4L686.4 907.3L689.4 907.2L692.4 907L695.5 906.9L698.5 906.8L701.5 906.7L704.5 906.6L707.5 906.5L710.5 906.4L713.5 906.2L716.5 906.1L719.5 906L722.5 905.9L725.5 905.8L728.5 905.6L731.5 905.5L734.6 905.4L737.6 905.3L740.6 905.1L743.6 905L746.6 904.9L749.6 904.7L752.6 904.6L755.6 904.5L758.6 904.3L761.6 904.2L764.6 904L767.6 903.9L770.6 903.8L773.6 903.6L776.6 903.5L779.7 903.3L782.7 903.2L785.7 903L788.7 902.8L791.7 902.7L794.7 902.5L797.7 902.4L800.7 902.2L803.7 902L806.7 901.9L809.7 901.7L812.7 901.5L815.7 901.4L818.7 901.2L821.7 901L824.7 900.8L827.7 900.6L830.7 900.5L833.7 900.3L836.7 900.1L839.7 899.9L842.7 899.7L845.7 899.5L848.7 899.3L851.7 899.1L854.7 898.9L857.7 898.7L860.7 898.5L863.7 898.2L866.7 898L869.7 897.8L872.7 897.6L875.7 897.4L878.7 897.1L881.7 896.9L884.7 896.7L887.7 896.4L890.7 896.2L893.7 896L896.7 895.7L899.7 895.5L902.7 895.2L905.7 895L908.7 894.7L911.7 894.4L914.7 894.2L917.7 893.9L920.7 893.6L923.6 893.4L926.6 893.1L929.6 892.8L932.6 892.5L935.6 892.2L938.6 891.9L941.6 891.6L944.6 891.3L947.6 891L950.6 890.7L953.5 890.4L956.5 890.1L959.5 889.8L962.5 889.5L965.5 889.1L968.5 888.8L971.5 888.5L974.5 888.1L977.4 887.8L980.4 887.5L983.4 887.1L986.4 886.8L989.4 886.4L992.4 886L995.3 885.7L998.3 885.3L1001.3 884.9L1004.3 884.6L1007.3 884.2L1010.2 883.8L1013.2 883.4L1016.2 883L1019.2 882.6L1022.2 882.2L1025.1 881.8L1028.1 881.4L1031.1 881L1034.1 880.5L1037 880.1L1040 879.7L1043 879.2L1046 878.8L1048.9 878.4L1051.9 877.9L1054.9 877.5L1057.9 877L1060.8 876.5L1063.8 876.1L1066.8 875.6L1069.7 875.1L1072.7 874.6L1075.7 874.1L1078.6 873.6L1081.6 873.1L1084.6 872.6L1087.5 872.1L1090.5 871.6L1093.5 871.1L1096.4 870.6L1099.4 870L1102.4 869.5L1105.3 869L1108.3 868.4L1111.2 867.9L1114.2 867.3L1117.2 866.8L1120.1 866.2L1123.1 865.6L1126 865L1129 864.5L1131.9 863.9L1134.9 863.3L1137.8 862.7L1140.8 862.1L1143.8 861.5L1146.7 860.8L1149.7 860.2L1152.6 859.6L1155.6 858.9L1158.5 858.3L1161.5 857.7L1164.4 857.0"/>
</g>
<g class="c bd">
<path d="M228 915L231 915L234 914.9L237.1 914.9L240.1 914.9L243.1 914.8L246.1 914.8L249.1 914.8L252.1 914.7L255.2 914.7L258.2 914.6L261.2 914.6L264.2 914.5L267.2 914.5L270.2 914.4L273.3 914.4L276.3 914.3L279.3 914.3L282.3 914.2L285.3 914.2L288.3 914.1L291.4 914.1L294.4 914L297.4 913.9L300.4 913.9L303.4 913.8L306.4 913.7L309.5 913.7L312.5 913.6L315.5 913.5L318.5 913.5L321.5 913.4L324.5 913.3L327.6 913.2L330.6 913.2L333.6 913.1L336.6 913L339.6 912.9L342.6 912.8L345.7 912.8L348.7 912.7L351.7 912.6L354.7 912.5L357.7 912.4L360.7 912.3L363.8 912.3L366.8 912.2L369.8 912.1L372.8 912L375.8 911.9L378.8 911.8L381.9 911.7L384.9 911.6L387.9 911.5L390.9 911.4L393.9 911.3L396.9 911.2L399.9 911.1L403 911L406 910.9L409 910.8L412 910.7L415 910.6L418 910.5L421.1 910.4L424.1 910.3L427.1 910.2L430.1 910.1L433.1 910L436.1 909.9L439.2 909.8L442.2 909.7L445.2 909.6L448.2 909.5L451.2 909.4L454.2 909.3L457.3 909.2L460.3 909.1L463.3 909L466.3 908.9L469.3 908.8L472.3 908.6L475.3 908.5L478.4 908.4L481.4 908.3L484.4 908.2L487.4 908.1L490.4 908L493.4 907.9L496.5 907.8L499.5 907.7L502.5 907.6L505.5 907.4L508.5 907.3L511.5 907.2L514.5 907.1L517.6 907L520.6 906.9L523.6 906.8L526.6 906.7L529.6 906.6L532.6 906.5L535.7 906.3L538.7 906.2L541.7 906.1L544.7 906L547.7 905.9L550.7 905.8L553.8 905.7L556.8 905.6L559.8 905.5L562.8 905.4L565.8 905.3L568.8 905.1L571.8 905L574.9 904.9L577.9 904.8L580.9 904.7L583.9 904.6L586.9 904.5L589.9 904.4L593 904.3L596 904.2L599 904.1L602 904.0"/>
<path d="M602 904L599 904.3L596 904.6L593 904.9L590 905.2L587 905.5L583.9 905.8L580.9 906L577.9 906.3L574.9 906.5L571.9 906.8L568.9 907L565.9 907.3L562.9 907.5L559.8 907.7L556.8 907.9L553.8 908.2L550.8 908.4L547.8 908.6L544.8 908.8L541.7 908.9L538.7 909.1L535.7 909.3L532.7 909.5L529.7 909.7L526.7 909.8L523.6 910L520.6 910.1L517.6 910.3L514.6 910.4L511.6 910.6L508.6 910.7L505.5 910.8L502.5 911L499.5 911.1L496.5 911.2L493.5 911.3L490.4 911.4L487.4 911.6L484.4 911.7L481.4 911.8L478.3 911.9L475.3 911.9L472.3 912L469.3 912.1L466.3 912.2L463.2 912.3L460.2 912.4L457.2 912.5L454.2 912.5L451.1 912.6L448.1 912.7L445.1 912.7L442.1 912.8L439.1 912.9L436 912.9L433 913L430 913L427 913.1L423.9 913.1L420.9 913.2L417.9 913.2L414.9 913.3L411.8 913.3L408.8 913.4L405.8 913.4L402.8 913.5L399.7 913.5L396.7 913.6L393.7 913.6L390.7 913.6L387.7 913.7L384.6 913.7L381.6 913.8L378.6 913.8L375.6 913.8L372.5 913.9L369.5 913.9L366.5 913.9L363.5 914L360.4 914L357.4 914.1L354.4 914.1L351.4 914.1L348.3 914.2L345.3 914.2L342.3 914.3L339.3 914.3L336.3 914.4L333.2 914.4L330.2 914.4L327.2 914.5L324.2 914.5L321.1 914.6L318.1 914.6L315.1 914.7L312.1 914.8L309.1 914.8L306 914.9L303 914.9L300 915.0"/>
<path d="M260 915L263 915L266 914.9L269 914.9L272.1 914.8L275.1 914.8L278.1 914.7L281.1 914.7L284.1 914.6L287.1 914.5L290.1 914.5L293.2 914.4L296.2 914.4L299.2 914.3L302.2 914.3L305.2 914.2L308.2 914.2L311.2 914.1L314.2 914L317.3 914L320.3 913.9L323.3 913.9L326.3 913.8L329.3 913.7L332.3 913.7L335.3 913.6L338.4 913.5L341.4 913.5L344.4 913.4L347.4 913.3L350.4 913.3L353.4 913.2L356.4 913.1L359.5 913.1L362.5 913L365.5 912.9L368.5 912.8L371.5 912.8L374.5 912.7L377.5 912.6L380.5 912.5L383.6 912.5L386.6 912.4L389.6 912.3L392.6 912.2L395.6 912.1L398.6 912.1L401.6 912L404.7 911.9L407.7 911.8L410.7 911.7L413.7 911.6L416.7 911.6L419.7 911.5L422.7 911.4L425.7 911.3L428.8 911.2L431.8 911.1L434.8 911L437.8 910.9L440.8 910.8L443.8 910.8L446.8 910.7L449.8 910.6L452.9 910.5L455.9 910.4L458.9 910.3L461.9 910.2L464.9 910.1L467.9 910L470.9 909.9L473.9 909.8L477 909.7L480 909.6L483 909.5L486 909.4L489 909.2L492 909.1L495 909L498 908.9L501.1 908.8L504.1 908.7L507.1 908.6L510.1 908.5L513.1 908.4L516.1 908.2L519.1 908.1L522.1 908L525.1 907.9L528.2 907.8L531.2 907.7L534.2 907.5L537.2 907.4L540.2 907.3L543.2 907.2L546.2 907L549.2 906.9L552.3 906.8L555.3 906.7L558.3 906.5L561.3 906.4L564.3 906.3L567.3 906.1L570.3 906L573.3 905.9L576.3 905.7L579.4 905.6L582.4 905.5L585.4 905.3L588.4 905.2L591.4 905.1L594.4 904.9L597.4 904.8L600.4 904.6L603.4 904.5L606.5 904.4L609.5 904.2L612.5 904.1L615.5 903.9L618.5 903.8L621.5 903.6L624.5 903.5L627.5 903.3L630.5 903.2L633.5 903L636.6 902.9L639.6 902.7L642.6 902.6L645.6 902.4L648.6 902.2L651.6 902.1L654.6 901.9L657.6 901.8L660.6 901.6L663.6 901.4L666.7 901.3L669.7 901.1L672.7 900.9L675.7 900.8L678.7 900.6L681.7 900.4L684.7 900.3L687.7 900.1L690.7 899.9L693.7 899.7L696.7 899.6L699.8 899.4L702.8 899.2L705.8 899L708.8 898.9L711.8 898.7L714.8 898.5L717.8 898.3L720.8 898.1L723.8 897.9L726.8 897.8L729.8 897.6L732.9 897.4L735.9 897.2L738.9 897L741.9 896.8L744.9 896.6L747.9 896.4L750.9 896.2L753.9 896L756.9 895.8L759.9 895.6L762.9 895.4L765.9 895.2L768.9 895L772 894.8L775 894.6L778 894.4L781 894.2L784 894L787 893.8L790 893.6"/>
<path d="M790 893.6L787 894.1L784.1 894.6L781.1 895.1L778.1 895.6L775.2 896.1L772.2 896.6L769.2 897.1L766.2 897.5L763.3 898L760.3 898.4L757.3 898.8L754.3 899.2L751.4 899.7L748.4 900.1L745.4 900.4L742.4 900.8L739.5 901.2L736.5 901.6L733.5 901.9L730.5 902.3L727.5 902.6L724.5 903L721.6 903.3L718.6 903.6L715.6 903.9L712.6 904.2L709.6 904.5L706.6 904.8L703.6 905.1L700.6 905.4L697.6 905.7L694.6 905.9L691.6 906.2L688.7 906.4L685.7 906.7L682.7 906.9L679.7 907.2L676.7 907.4L673.7 907.6L670.7 907.8L667.7 908L664.7 908.2L661.7 908.4L658.7 908.6L655.7 908.8L652.7 909L649.7 909.2L646.7 909.3L643.7 909.5L640.7 909.6L637.7 909.8L634.7 909.9L631.7 910.1L628.7 910.2L625.6 910.4L622.6 910.5L619.6 910.6L616.6 910.7L613.6 910.9L610.6 911L607.6 911.1L604.6 911.2L601.6 911.3L598.6 911.4L595.6 911.5L592.6 911.6L589.6 911.7L586.5 911.8L583.5 911.8L580.5 911.9L577.5 912L574.5 912.1L571.5 912.1L568.5 912.2L565.5 912.3L562.5 912.3L559.5 912.4L556.4 912.5L553.4 912.5L550.4 912.6L547.4 912.6L544.4 912.7L541.4 912.7L538.4 912.8L535.4 912.8L532.3 912.9L529.3 912.9L526.3 913L523.3 913L520.3 913L517.3 913.1L514.3 913.1L511.3 913.2L508.3 913.2L505.2 913.2L502.2 913.3L499.2 913.3L496.2 913.3L493.2 913.4L490.2 913.4L487.2 913.4L484.2 913.5L481.2 913.5L478.1 913.6L475.1 913.6L472.1 913.6L469.1 913.7L466.1 913.7L463.1 913.8L460.1 913.8L457.1 913.8L454.1 913.9L451.1 913.9L448.1 914L445.1 914L442 914.1L439 914.1L436 914.2L433 914.2L430 914.3L427 914.4L424 914.4L421 914.5L418 914.5L415 914.6L412 914.7L409 914.8L406 914.8L403 914.9L400 915.0"/>
<path d="M300 915L303 914.9L306 914.9L309 914.8L312 914.8L315 914.7L318 914.7L321 914.6L324 914.6L327 914.5L330.1 914.5L333.1 914.4L336.1 914.3L339.1 914.3L342.1 914.2L345.1 914.2L348.1 914.1L351.1 914.1L354.1 914L357.1 913.9L360.1 913.9L363.1 913.8L366.1 913.7L369.1 913.7L372.1 913.6L375.1 913.6L378.1 913.5L381.2 913.4L384.2 913.4L387.2 913.3L390.2 913.2L393.2 913.2L396.2 913.1L399.2 913L402.2 913L405.2 912.9L408.2 912.8L411.2 912.7L414.2 912.7L417.2 912.6L420.2 912.5L423.2 912.5L426.2 912.4L429.2 912.3L432.3 912.2L435.3 912.1L438.3 912.1L441.3 912L444.3 911.9L447.3 911.8L450.3 911.7L453.3 911.7L456.3 911.6L459.3 911.5L462.3 911.4L465.3 911.3L468.3 911.2L471.3 911.2L474.3 911.1L477.3 911L480.3 910.9L483.4 910.8L486.4 910.7L489.4 910.6L492.4 910.5L495.4 910.4L498.4 910.3L501.4 910.2L504.4 910.1L507.4 910L510.4 909.9L513.4 909.8L516.4 909.7L519.4 909.6L522.4 909.5L525.4 909.4L528.4 909.3L531.4 909.2L534.4 909.1L537.5 909L540.5 908.9L543.5 908.8L546.5 908.6L549.5 908.5L552.5 908.4L555.5 908.3L558.5 908.2L561.5 908.1L564.5 907.9L567.5 907.8L570.5 907.7L573.5 907.6L576.5 907.5L579.5 907.3L582.5 907.2L585.5 907.1L588.5 906.9L591.5 906.8L594.5 906.7L597.5 906.5L600.5 906.4L603.6 906.3L606.6 906.1L609.6 906L612.6 905.9L615.6 905.7L618.6 905.6L621.6 905.4L624.6 905.3L627.6 905.1L630.6 905L633.6 904.8L636.6 904.7L639.6 904.5L642.6 904.4L645.6 904.2L648.6 904.1L651.6 903.9L654.6 903.7L657.6 903.6L660.6 903.4L663.6 903.2L666.6 903.1L669.6 902.9L672.6 902.7L675.6 902.6L678.6 902.4L681.6 902.2L684.6 902L687.6 901.9L690.6 901.7L693.6 901.5L696.6 901.3L699.6 901.1L702.6 900.9L705.6 900.8L708.6 900.6L711.6 900.4L714.6 900.2L717.6 900L720.6 899.8L723.6 899.6L726.6 899.4L729.6 899.2L732.6 899L735.6 898.8L738.6 898.6L741.6 898.4L744.6 898.2L747.6 898L750.6 897.7L753.6 897.5L756.6 897.3L759.6 897.1L762.6 896.9L765.6 896.6L768.6 896.4L771.6 896.2L774.6 896L777.6 895.7L780.6 895.5L783.6 895.3L786.6 895L789.6 894.8L792.6 894.5L795.6 894.3L798.6 894.1L801.6 893.8L804.6 893.6L807.6 893.3L810.6 893.1L813.6 892.8L816.5 892.5L819.5 892.3L822.5 892L825.5 891.8L828.5 891.5L831.5 891.2L834.5 891L837.5 890.7L840.5 890.4L843.5 890.1L846.5 889.9L849.5 889.6L852.5 889.3L855.5 889L858.5 888.7L861.5 888.4L864.4 888.2L867.4 887.9L870.4 887.6L873.4 887.3L876.4 887L879.4 886.7L882.4 886.4L885.4 886.1L888.4 885.8L891.4 885.4L894.4 885.1L897.3 884.8L900.3 884.5L903.3 884.2L906.3 883.9L909.3 883.5L912.3 883.2L915.3 882.9L918.3 882.5L921.3 882.2L924.2 881.9L927.2 881.5L930.2 881.2L933.2 880.9L936.2 880.5L939.2 880.2L942.2 879.8L945.2 879.5L948.1 879.1L951.1 878.7L954.1 878.4L957.1 878L960.1 877.6L963.1 877.3L966.1 876.9L969 876.5L972 876.2L975 875.8L978 875.4"/>
<path d="M978 875.4L975.3 876.8L972.6 878.1L969.9 879.4L967.2 880.6L964.4 881.8L961.7 882.9L958.9 883.9L956.1 885L953.3 886L950.5 886.9L947.6 887.8L944.8 888.7L941.9 889.5L939.1 890.2L936.2 891L933.3 891.7L930.4 892.4L927.5 893L924.6 893.6L921.6 894.2L918.7 894.7L915.7 895.2L912.8 895.7L909.8 896.2L906.8 896.6L903.9 897.1L900.9 897.5L897.9 897.8L894.9 898.2L891.9 898.5L888.9 898.8L885.9 899.2L882.9 899.4L879.9 899.7L876.9 900L873.8 900.2L870.8 900.5L867.8 900.7L864.8 901L861.8 901.2L858.7 901.4L855.7 901.6L852.7 901.8L849.7 902L846.6 902.3L843.6 902.5L840.6 902.7L837.6 902.9L834.6 903.1L831.5 903.3L828.5 903.5L825.5 903.7L822.5 903.9L819.5 904.1L816.5 904.3L813.4 904.5L810.4 904.7L807.4 904.8L804.4 905L801.4 905.2L798.4 905.4L795.4 905.6L792.3 905.8L789.3 905.9L786.3 906.1L783.3 906.3L780.3 906.5L777.3 906.6L774.3 906.8L771.3 907L768.2 907.1L765.2 907.3L762.2 907.5L759.2 907.6L756.2 907.8L753.2 907.9L750.2 908.1L747.2 908.2L744.2 908.4L741.1 908.5L738.1 908.7L735.1 908.8L732.1 909L729.1 909.1L726.1 909.3L723.1 909.4L720.1 909.5L717.1 909.7L714 909.8L711 909.9L708 910.1L705 910.2L702 910.3L699 910.4L696 910.6L693 910.7L690 910.8L686.9 910.9L683.9 911L680.9 911.2L677.9 911.3L674.9 911.4L671.9 911.5L668.9 911.6L665.9 911.7L662.8 911.8L659.8 911.9L656.8 912L653.8 912.1L650.8 912.2L647.8 912.3L644.8 912.4L641.7 912.5L638.7 912.6L635.7 912.7L632.7 912.8L629.7 912.8L626.7 912.9L623.7 913L620.6 913.1L617.6 913.2L614.6 913.2L611.6 913.3L608.6 913.4L605.6 913.5L602.6 913.5L599.5 913.6L596.5 913.7L593.5 913.7L590.5 913.8L587.5 913.9L584.5 913.9L581.5 914L578.4 914L575.4 914.1L572.4 914.2L569.4 914.2L566.4 914.3L563.4 914.3L560.3 914.4L557.3 914.4L554.3 914.5L551.3 914.5L548.3 914.5L545.3 914.6L542.2 914.6L539.2 914.7L536.2 914.7L533.2 914.7L530.2 914.8L527.2 914.8L524.1 914.8L521.1 914.8L518.1 914.9L515.1 914.9L512.1 914.9L509.1 914.9L506 915L503 915L500 915.0"/>
<path d="M350 915L353 915L356 914.9L359 914.9L362 914.8L365 914.7L368 914.7L371 914.6L374 914.6L377 914.5L380 914.5L383 914.4L386 914.4L389 914.3L392 914.2L395 914.2L398 914.1L401 914.1L404 914L407 913.9L410 913.9L413 913.8L416 913.7L419 913.7L422.1 913.6L425.1 913.5L428.1 913.5L431.1 913.4L434.1 913.3L437.1 913.3L440.1 913.2L443.1 913.1L446.1 913L449.1 913L452.1 912.9L455.1 912.8L458.1 912.7L461.1 912.7L464.1 912.6L467.1 912.5L470.1 912.4L473.1 912.3L476.1 912.3L479.1 912.2L482.1 912.1L485.1 912L488.1 911.9L491.1 911.8L494.1 911.7L497.1 911.7L500.1 911.6L503.1 911.5L506.1 911.4L509.1 911.3L512.1 911.2L515.1 911.1L518.1 911L521.1 910.9L524.1 910.8L527.1 910.7L530.1 910.6L533.1 910.5L536.1 910.4L539.1 910.3L542.1 910.2L545.1 910.1L548.1 910L551.1 909.9L554.1 909.8L557.1 909.7L560.1 909.6L563.1 909.5L566.1 909.4L569.1 909.3L572.1 909.2L575.1 909L578.1 908.9L581.1 908.8L584.1 908.7L587.1 908.6L590.1 908.5L593.1 908.3L596.1 908.2L599.1 908.1L602.1 908L605.1 907.9L608.1 907.7L611.1 907.6L614.1 907.5L617.1 907.4L620.1 907.2L623.1 907.1L626.1 907L629.1 906.9L632.1 906.7L635.1 906.6L638.1 906.5L641.1 906.3L644.1 906.2L647.1 906.1L650.1 905.9L653.1 905.8L656.1 905.6L659.1 905.5L662.1 905.4L665.1 905.2L668.1 905.1L671.1 904.9L674.1 904.8L677.1 904.6L680.1 904.5L683.1 904.3L686.1 904.2L689.1 904L692.1 903.9L695.1 903.7L698.1 903.6L701.1 903.4L704.1 903.3L707.1 903.1L710.1 903L713.1 902.8L716.1 902.6L719.1 902.5L722.1 902.3L725.1 902.2L728.1 902L731.1 901.8L734.1 901.7L737.1 901.5L740.1 901.3L743.1 901.2L746.1 901L749.1 900.8L752.1 900.6L755.1 900.5L758.1 900.3L761.1 900.1L764.1 899.9L767.1 899.8L770.1 899.6L773.1 899.4L776.1 899.2L779.1 899L782.1 898.8L785.1 898.7L788.1 898.5L791.1 898.3L794.1 898.1L797.1 897.9L800.1 897.7L803.1 897.5L806 897.3L809 897.1L812 896.9L815 896.7L818 896.5L821 896.2L824 896L827 895.8L830 895.6L833 895.3L836 895.1L839 894.9L842 894.6L845 894.4L848 894.1L851 893.9L853.9 893.6L856.9 893.4L859.9 893.1L862.9 892.8L865.9 892.6L868.9 892.3L871.9 892L874.9 891.7L877.8 891.4L880.8 891.1L883.8 890.8L886.8 890.5L889.8 890.2L892.8 889.9L895.7 889.5L898.7 889.2L901.7 888.9L904.7 888.5L907.6 888.2L910.6 887.8L913.6 887.4L916.6 887.1L919.5 886.7L922.5 886.3L925.5 885.9L928.5 885.5L931.4 885.1L934.4 884.7L937.4 884.3L940.3 883.9L943.3 883.4L946.3 883L949.2 882.5L952.2 882.1L955.1 881.6L958.1 881.1L961.1 880.7L964 880.2L967 879.7L969.9 879.2L972.9 878.7L975.8 878.1L978.8 877.6L981.7 877.1L984.7 876.5L987.6 876L990.6 875.4L993.5 874.8L996.5 874.2L999.4 873.7L1002.3 873.1L1005.3 872.5L1008.2 871.8L1011.1 871.2L1014.1 870.6L1017 870L1019.9 869.3L1022.9 868.7L1025.8 868L1028.7 867.4L1031.7 866.7L1034.6 866L1037.5 865.3L1040.4 864.6L1043.3 863.9L1046.3 863.2L1049.2 862.5L1052.1 861.8L1055 861.1L1057.9 860.4L1060.8 859.6L1063.7 858.9L1066.7 858.1L1069.6 857.4L1072.5 856.6L1075.4 855.9L1078.3 855.1L1081.2 854.3L1084.1 853.5L1087 852.7L1089.9 851.9L1092.8 851.1L1095.6 850.3L1098.5 849.5L1101.4 848.7L1104.3 847.9L1107.2 847L1110.1 846.2L1113 845.3L1115.8 844.5L1118.7 843.6L1121.6 842.7L1124.5 841.9L1127.3 841L1130.2 840.1L1133.1 839.2L1135.9 838.3L1138.8 837.4L1141.6 836.5L1144.5 835.5L1147.3 834.6L1150.2 833.6L1153 832.7L1155.9 831.7L1158.7 830.8L1161.6 829.8L1164.4 828.8"/>
<path d="M1164.4 828.8L1162.6 831.3L1160.8 833.8L1158.9 836.2L1156.9 838.5L1154.9 840.7L1152.8 842.9L1150.7 844.9L1148.5 847L1146.3 848.9L1144 850.8L1141.7 852.6L1139.4 854.3L1137 856L1134.6 857.6L1132.1 859.2L1129.6 860.7L1127 862.2L1124.5 863.6L1121.8 864.9L1119.2 866.3L1116.5 867.5L1113.8 868.7L1111.1 869.9L1108.4 871L1105.6 872.1L1102.8 873.2L1100 874.2L1097.2 875.2L1094.4 876.1L1091.5 877L1088.6 877.9L1085.7 878.8L1082.8 879.6L1079.9 880.4L1077 881.1L1074 881.9L1071.1 882.6L1068.1 883.3L1065.1 883.9L1062.1 884.6L1059.2 885.2L1056.2 885.8L1053.2 886.4L1050.2 887L1047.2 887.5L1044.2 888.1L1041.2 888.6L1038.1 889.1L1035.1 889.6L1032.1 890.1L1029.1 890.6L1026.1 891.1L1023.1 891.6L1020.1 892L1017.1 892.5L1014.1 892.9L1011.1 893.3L1008.1 893.8L1005.1 894.2L1002.1 894.6L999.1 895L996.1 895.4L993.1 895.7L990.1 896.1L987.1 896.5L984.1 896.8L981.1 897.2L978.1 897.5L975.1 897.8L972.1 898.2L969.1 898.5L966.2 898.8L963.2 899.1L960.2 899.4L957.2 899.7L954.2 900L951.2 900.3L948.2 900.6L945.2 900.8L942.2 901.1L939.2 901.4L936.2 901.6L933.2 901.9L930.2 902.1L927.2 902.4L924.2 902.6L921.2 902.8L918.2 903.1L915.2 903.3L912.2 903.5L909.2 903.7L906.2 903.9L903.2 904.2L900.2 904.4L897.2 904.6L894.2 904.8L891.2 905L888.2 905.2L885.2 905.4L882.2 905.6L879.2 905.8L876.2 906L873.2 906.2L870.2 906.4L867.2 906.5L864.1 906.7L861.1 906.9L858.1 907.1L855.1 907.2L852.1 907.4L849.1 907.6L846.1 907.8L843.1 907.9L840.1 908.1L837.1 908.2L834.1 908.4L831 908.6L828 908.7L825 908.9L822 909L819 909.2L816 909.3L813 909.5L810 909.6L806.9 909.7L803.9 909.9L800.9 910L797.9 910.1L794.9 910.3L791.9 910.4L788.9 910.5L785.8 910.7L782.8 910.8L779.8 910.9L776.8 911L773.8 911.1L770.8 911.3L767.7 911.4L764.7 911.5L761.7 911.6L758.7 911.7L755.7 911.8L752.7 911.9L749.6 912L746.6 912.1L743.6 912.2L740.6 912.3L737.6 912.4L734.6 912.5L731.5 912.6L728.5 912.7L725.5 912.8L722.5 912.9L719.5 913L716.5 913L713.4 913.1L710.4 913.2L707.4 913.3L704.4 913.4L701.4 913.4L698.4 913.5L695.3 913.6L692.3 913.7L689.3 913.7L686.3 913.8L683.3 913.9L680.3 913.9L677.3 914L674.2 914.1L671.2 914.1L668.2 914.2L665.2 914.3L662.2 914.3L659.2 914.4L656.1 914.4L653.1 914.5L650.1 914.5L647.1 914.6L644.1 914.6L641.1 914.7L638.1 914.7L635.1 914.8L632 914.8L629 914.9L626 914.9L623 915L620 915.0"/>
<path d="M450 915L453 915L456 915L459 914.9L462 914.9L465 914.9L468.1 914.8L471.1 914.8L474.1 914.8L477.1 914.7L480.1 914.7L483.1 914.6L486.1 914.5L489.1 914.5L492.1 914.4L495.1 914.3L498.1 914.3L501.1 914.2L504.1 914.1L507.1 914L510.1 913.9L513.2 913.9L516.2 913.8L519.2 913.7L522.2 913.6L525.2 913.5L528.2 913.4L531.2 913.3L534.2 913.2L537.2 913.1L540.2 912.9L543.2 912.8L546.2 912.7L549.2 912.6L552.2 912.5L555.2 912.4L558.2 912.2L561.2 912.1L564.2 912L567.2 911.9L570.2 911.7L573.2 911.6L576.2 911.5L579.2 911.3L582.2 911.2L585.2 911.1L588.2 910.9L591.2 910.8L594.2 910.6L597.2 910.5L600.2 910.4L603.2 910.2L606.2 910.1L609.2 909.9L612.2 909.8L615.2 909.6L618.2 909.5L621.3 909.3L624.3 909.2L627.3 909.1L630.3 908.9L633.3 908.8L636.3 908.6L639.3 908.5L642.3 908.3L645.3 908.2L648.3 908L651.3 907.9L654.3 907.7L657.3 907.6L660.3 907.5L663.3 907.3L666.3 907.2L669.3 907L672.3 906.9L675.3 906.8L678.3 906.6L681.3 906.5L684.3 906.3L687.3 906.2L690.3 906.1L693.3 906L696.3 905.8L699.3 905.7L702.3 905.6L705.3 905.4L708.3 905.3L711.3 905.2L714.3 905.1L717.3 904.9L720.3 904.8L723.4 904.7L726.4 904.6L729.4 904.4L732.4 904.3L735.4 904.2L738.4 904.1L741.4 903.9L744.4 903.8L747.4 903.7L750.4 903.6L753.4 903.4L756.4 903.3L759.4 903.2L762.4 903.1L765.4 902.9L768.4 902.8L771.4 902.7L774.4 902.5L777.4 902.4L780.4 902.3L783.4 902.1L786.5 902L789.5 901.9L792.5 901.7L795.5 901.6L798.5 901.4L801.5 901.3L804.5 901.2L807.5 901L810.5 900.9L813.5 900.7L816.5 900.5L819.5 900.4L822.5 900.2L825.5 900.1L828.5 899.9L831.5 899.7L834.5 899.5L837.5 899.4L840.5 899.2L843.5 899L846.5 898.8L849.5 898.6L852.5 898.4L855.5 898.2L858.5 898L861.5 897.8L864.5 897.6L867.5 897.4L870.5 897.2L873.5 897L876.5 896.8L879.5 896.5L882.5 896.3L885.5 896.1L888.5 895.8L891.5 895.6L894.5 895.3L897.5 895.1L900.5 894.8L903.5 894.5L906.5 894.3L909.5 894L912.5 893.7L915.5 893.4L918.5 893.1L921.5 892.8L924.4 892.5L927.4 892.2L930.4 891.9L933.4 891.6L936.4 891.2L939.4 890.9L942.4 890.6L945.4 890.2L948.4 889.9L951.4 889.5L954.3 889.1L957.3 888.8L960.3 888.4L963.3 888L966.3 887.6L969.3 887.2L972.2 886.8L975.2 886.4L978.2 886L981.2 885.5L984.2 885.1L987.1 884.6L990.1 884.2L993.1 883.7L996 883.2L999 882.7L1002 882.3L1004.9 881.8L1007.9 881.2L1010.9 880.7L1013.8 880.2L1016.8 879.7L1019.7 879.1L1022.7 878.6L1025.6 878L1028.6 877.4L1031.5 876.8L1034.4 876.2L1037.4 875.6L1040.3 875L1043.3 874.4L1046.2 873.7L1049.1 873.1L1052 872.4L1055 871.8L1057.9 871.1L1060.8 870.4L1063.7 869.7L1066.6 869L1069.5 868.2L1072.4 867.5L1075.3 866.7L1078.2 866L1081.1 865.2L1084 864.4L1086.9 863.6L1089.8 862.8L1092.7 862L1095.5 861.1L1098.4 860.3L1101.3 859.4L1104.1 858.6L1107 857.7L1109.9 856.8L1112.7 855.8L1115.6 854.9L1118.4 854L1121.2 853L1124.1 852L1126.9 851.1L1129.7 850.1L1132.6 849L1135.4 848L1138.2 847L1141 845.9L1143.8 844.9L1146.6 843.8L1149.4 842.7L1152.2 841.5L1155 840.4L1157.8 839.3L1160.5 838.1L1163.3 836.9L1166.1 835.7L1168.8 834.5L1171.6 833.3L1174.3 832.1L1177.1 830.8L1179.8 829.6L1182.6 828.3L1185.3 827L1188 825.7L1190.7 824.4L1193.4 823L1196.1 821.7L1198.8 820.3L1201.5 819L1204.2 817.6L1206.9 816.2L1209.6 814.8L1212.2 813.4L1214.9 811.9L1217.5 810.5L1220.2 809L1222.8 807.6L1225.5 806.1L1228.1 804.6L1230.7 803.1L1233.3 801.6L1235.9 800.1L1238.5 798.5L1241.1 797L1243.7 795.4L1246.2 793.9L1248.8 792.3L1251.4 790.7L1253.9 789.1L1256.4 787.5L1259 785.8L1261.5 784.2L1264 782.5L1266.5 780.9L1269 779.2L1271.5 777.5L1273.9 775.8L1276.4 774.1L1278.8 772.3L1281.3 770.6L1283.7 768.8L1286.1 767.1L1288.5 765.3L1290.9 763.5L1293.3 761.7L1295.7 759.8L1298 758L1300.4 756.1L1302.7 754.2L1305 752.4L1307.3 750.4L1309.6 748.5L1311.9 746.6L1314.2 744.6L1316.4 742.7L1318.7 740.7L1320.9 738.7L1323.1 736.6L1325.3 734.6L1327.5 732.6L1329.7 730.5L1331.8 728.4L1333.9 726.3L1336.1 724.2L1338.2 722L1340.3 719.9L1342.4 717.7L1344.4 715.5L1346.5 713.3L1348.5 711L1350.5 708.8L1352.5 706.5"/>
<path d="M1352.5 706.5L1352 709.3L1351.5 712.2L1350.9 715.1L1350.4 718L1349.8 720.9L1349.2 723.8L1348.5 726.7L1347.9 729.6L1347.2 732.5L1346.5 735.5L1345.8 738.4L1345 741.4L1344.3 744.3L1343.5 747.2L1342.6 750.2L1341.8 753.1L1340.9 756L1340 759L1339.1 761.9L1338.1 764.8L1337.1 767.7L1336 770.5L1335 773.4L1333.8 776.2L1332.7 779.1L1331.5 781.8L1330.2 784.6L1328.9 787.3L1327.5 790L1326.1 792.7L1324.6 795.3L1323.1 797.9L1321.5 800.5L1319.9 803L1318.2 805.5L1316.4 807.9L1314.6 810.3L1312.8 812.6L1310.9 814.9L1308.9 817.2L1306.9 819.4L1304.9 821.6L1302.8 823.8L1300.7 825.9L1298.5 828L1296.3 830L1294 832L1291.8 834L1289.4 835.9L1287.1 837.8L1284.7 839.6L1282.3 841.4L1279.8 843.2L1277.4 844.9L1274.9 846.6L1272.4 848.3L1269.8 849.9L1267.3 851.5L1264.7 853L1262.1 854.5L1259.5 856L1256.9 857.4L1254.2 858.8L1251.6 860.2L1248.9 861.5L1246.2 862.8L1243.5 864.1L1240.8 865.3L1238.1 866.5L1235.3 867.7L1232.6 868.8L1229.8 869.9L1227.1 871L1224.3 872L1221.5 873L1218.7 874L1215.9 875L1213 875.9L1210.2 876.8L1207.3 877.7L1204.5 878.5L1201.6 879.3L1198.7 880.1L1195.9 880.9L1193 881.7L1190.1 882.4L1187.2 883.1L1184.2 883.8L1181.3 884.4L1178.4 885.1L1175.5 885.7L1172.5 886.3L1169.6 886.9L1166.6 887.5L1163.6 888L1160.7 888.5L1157.7 889.1L1154.7 889.6L1151.7 890L1148.8 890.5L1145.8 891L1142.8 891.4L1139.8 891.8L1136.8 892.2L1133.8 892.7L1130.8 893L1127.7 893.4L1124.7 893.8L1121.7 894.2L1118.7 894.5L1115.7 894.9L1112.7 895.2L1109.6 895.5L1106.6 895.8L1103.6 896.2L1100.6 896.5L1097.5 896.8L1094.5 897.1L1091.5 897.4L1088.5 897.7L1085.5 898L1082.4 898.3L1079.4 898.5L1076.4 898.8L1073.4 899.1L1070.4 899.4L1067.4 899.6L1064.4 899.9L1061.3 900.2L1058.3 900.4L1055.3 900.7L1052.3 901L1049.3 901.2L1046.3 901.5L1043.3 901.7L1040.3 902L1037.3 902.2L1034.3 902.5L1031.3 902.7L1028.3 902.9L1025.3 903.2L1022.3 903.4L1019.3 903.6L1016.3 903.9L1013.3 904.1L1010.3 904.3L1007.3 904.5L1004.3 904.7L1001.3 904.9L998.3 905.1L995.3 905.4L992.3 905.6L989.3 905.8L986.3 906L983.3 906.2L980.3 906.3L977.3 906.5L974.3 906.7L971.3 906.9L968.3 907.1L965.3 907.3L962.3 907.5L959.3 907.6L956.3 907.8L953.3 908L950.3 908.1L947.3 908.3L944.3 908.5L941.3 908.6L938.4 908.8L935.4 909L932.4 909.1L929.4 909.3L926.4 909.4L923.4 909.6L920.4 909.7L917.4 909.9L914.4 910L911.4 910.1L908.4 910.3L905.4 910.4L902.4 910.5L899.4 910.7L896.4 910.8L893.4 910.9L890.5 911.1L887.5 911.2L884.5 911.3L881.5 911.4L878.5 911.5L875.5 911.6L872.5 911.8L869.5 911.9L866.5 912L863.5 912.1L860.5 912.2L857.5 912.3L854.5 912.4L851.5 912.5L848.5 912.6L845.5 912.7L842.5 912.8L839.5 912.9L836.5 913L833.5 913.1L830.5 913.1L827.5 913.2L824.5 913.3L821.5 913.4L818.5 913.5L815.4 913.6L812.4 913.6L809.4 913.7L806.4 913.8L803.4 913.8L800.4 913.9L797.4 914L794.4 914.1L791.4 914.1L788.4 914.2L785.3 914.2L782.3 914.3L779.3 914.4L776.3 914.4L773.3 914.5L770.3 914.5L767.2 914.6L764.2 914.6L761.2 914.7L758.2 914.7L755.1 914.8L752.1 914.8L749.1 914.9L746.1 914.9L743 915L740 915.0"/>
<path d="M550 915L553 914.9L556 914.8L559 914.7L562 914.7L565 914.6L568 914.5L571 914.4L574 914.3L577 914.3L580 914.2L583 914.1L586 914L589 913.9L592 913.9L595 913.8L598 913.7L601.1 913.6L604.1 913.6L607.1 913.5L610.1 913.4L613.1 913.3L616.1 913.3L619.1 913.2L622.1 913.1L625.1 913L628.1 912.9L631.1 912.9L634.1 912.8L637.1 912.7L640.1 912.6L643.1 912.6L646.1 912.5L649.2 912.4L652.2 912.3L655.2 912.3L658.2 912.2L661.2 912.1L664.2 912L667.2 912L670.2 911.9L673.2 911.8L676.2 911.7L679.2 911.6L682.2 911.6L685.2 911.5L688.3 911.4L691.3 911.3L694.3 911.2L697.3 911.2L700.3 911.1L703.3 911L706.3 910.9L709.3 910.8L712.3 910.7L715.3 910.6L718.3 910.5L721.3 910.5L724.3 910.4L727.3 910.3L730.4 910.2L733.4 910.1L736.4 910L739.4 909.9L742.4 909.8L745.4 909.7L748.4 909.6L751.4 909.5L754.4 909.4L757.4 909.3L760.4 909.2L763.4 909.1L766.4 909L769.4 908.9L772.4 908.7L775.5 908.6L778.5 908.5L781.5 908.4L784.5 908.3L787.5 908.2L790.5 908L793.5 907.9L796.5 907.8L799.5 907.7L802.5 907.5L805.5 907.4L808.5 907.3L811.5 907.1L814.5 907L817.5 906.9L820.5 906.7L823.5 906.6L826.5 906.4L829.5 906.3L832.5 906.1L835.5 906L838.5 905.8L841.5 905.7L844.5 905.5L847.5 905.4L850.5 905.2L853.5 905L856.5 904.9L859.5 904.7L862.5 904.5L865.5 904.4L868.5 904.2L871.5 904L874.5 903.8L877.5 903.6L880.5 903.4L883.5 903.2L886.5 903.1L889.5 902.9L892.5 902.7L895.5 902.5L898.4 902.3L901.4 902L904.4 901.8L907.4 901.6L910.4 901.4L913.4 901.2L916.4 901L919.4 900.7L922.4 900.5L925.4 900.3L928.4 900L931.4 899.8L934.3 899.5L937.3 899.3L940.3 899L943.3 898.8L946.3 898.5L949.3 898.2L952.3 898L955.3 897.7L958.3 897.4L961.2 897.1L964.2 896.8L967.2 896.6L970.2 896.3L973.2 896L976.2 895.6L979.2 895.3L982.2 895L985.1 894.7L988.1 894.4L991.1 894L994.1 893.7L997.1 893.4L1000.1 893L1003.1 892.7L1006 892.3L1009 892L1012 891.6L1015 891.2L1018 890.8L1021 890.5L1023.9 890.1L1026.9 889.7L1029.9 889.3L1032.9 888.9L1035.9 888.5L1038.9 888L1041.9 887.6L1044.8 887.2L1047.8 886.7L1050.8 886.3L1053.8 885.9L1056.8 885.4L1059.8 884.9L1062.7 884.5L1065.7 884L1068.7 883.5L1071.7 883L1074.7 882.5L1077.6 882L1080.6 881.5L1083.6 880.9L1086.6 880.4L1089.5 879.8L1092.5 879.3L1095.5 878.7L1098.4 878.1L1101.4 877.6L1104.4 877L1107.3 876.3L1110.3 875.7L1113.3 875.1L1116.2 874.4L1119.2 873.8L1122.1 873.1L1125.1 872.4L1128 871.8L1130.9 871L1133.9 870.3L1136.8 869.6L1139.7 868.8L1142.7 868.1L1145.6 867.3L1148.5 866.5L1151.4 865.7L1154.3 864.9L1157.2 864.1L1160.1 863.2L1163 862.3L1165.9 861.5L1168.8 860.6L1171.6 859.6L1174.5 858.7L1177.4 857.7L1180.2 856.8L1183.1 855.8L1185.9 854.8L1188.7 853.7L1191.5 852.7L1194.3 851.6L1197.1 850.5L1199.9 849.4L1202.7 848.3L1205.5 847.2L1208.2 846L1211 844.8L1213.7 843.6L1216.5 842.3L1219.2 841.1L1221.9 839.8L1224.6 838.5L1227.3 837.2L1230 835.9L1232.6 834.5L1235.3 833.1L1237.9 831.7L1240.6 830.3L1243.2 828.9L1245.8 827.4L1248.4 825.9L1250.9 824.4L1253.5 822.9L1256 821.3L1258.6 819.8L1261.1 818.2L1263.6 816.6L1266.1 814.9L1268.6 813.3L1271 811.6L1273.5 809.9L1275.9 808.1L1278.3 806.4L1280.7 804.6L1283.1 802.8L1285.4 801L1287.8 799.2L1290.1 797.3L1292.4 795.4L1294.7 793.6L1297 791.6L1299.2 789.7L1301.5 787.7L1303.7 785.8L1305.9 783.8L1308.1 781.8L1310.3 779.7L1312.5 777.7L1314.6 775.6L1316.8 773.5L1318.9 771.4L1321 769.3L1323 767.1L1325.1 765L1327.2 762.8L1329.2 760.6L1331.2 758.4L1333.2 756.2L1335.2 754L1337.2 751.7L1339.1 749.4L1341 747.2L1343 744.9L1344.9 742.5L1346.8 740.2L1348.6 737.9L1350.5 735.5L1352.3 733.2L1354.2 730.8L1356 728.4L1357.8 726L1359.5 723.6L1361.3 721.1L1363.1 718.7L1364.8 716.3L1366.6 713.8L1368.3 711.3L1370 708.8L1371.7 706.3L1373.4 703.8L1375 701.3L1376.7 698.8L1378.3 696.3L1380 693.7L1381.6 691.2L1383.2 688.6L1384.8 686L1386.4 683.5L1387.9 680.9L1389.5 678.3L1391.1 675.7L1392.6 673.1L1394.2 670.5L1395.7 667.9L1397.2 665.2L1398.7 662.6L1400.2 660L1401.7 657.3L1403.2 654.7L1404.7 652L1406.1 649.4L1407.6 646.7L1409 644L1410.5 641.4L1411.9 638.7L1413.3 636L1414.8 633.4L1416.2 630.7L1417.6 628L1419 625.3L1420.4 622.6L1421.8 619.9L1423.1 617.2L1424.5 614.5L1425.9 611.9L1427.3 609.2L1428.6 606.5L1430 603.8L1431.3 601.1L1432.7 598.4L1434 595.7L1435.3 593L1436.6 590.2L1438 587.5L1439.3 584.8L1440.6 582.1L1441.9 579.4L1443.2 576.7L1444.5 574L1445.8 571.3L1447 568.5L1448.3 565.8L1449.6 563.1L1450.8 560.4L1452.1 557.6L1453.4 554.9L1454.6 552.2L1455.8 549.4L1457.1 546.7L1458.3 544L1459.6 541.2L1460.8 538.5L1462 535.8L1463.2 533L1464.4 530.3L1465.6 527.5L1466.8 524.8L1468 522L1469.2 519.3L1470.4 516.5L1471.6 513.8L1472.8 511L1474 508.3L1475.1 505.5L1476.3 502.7L1477.5 500L1478.6 497.2L1479.8 494.4L1480.9 491.7L1482.1 488.9L1483.2 486.1L1484.3 483.4L1485.5 480.6L1486.6 477.8L1487.7 475L1488.9 472.3L1490 469.5L1491.1 466.7L1492.2 463.9L1493.3 461.1L1494.4 458.4L1495.5 455.6L1496.6 452.8L1497.7 450L1498.8 447.2L1499.9 444.4L1500.9 441.6L1502 438.8L1503.1 436L1504.1 433.2L1505.2 430.4L1506.2 427.6L1507.3 424.8L1508.3 421.9L1509.3 419.1L1510.4 416.3L1511.4 413.5L1512.4 410.7L1513.4 407.8L1514.4 405L1515.4 402.2L1516.4 399.3L1517.3 396.5L1518.3 393.6L1519.3 390.8L1520.2 387.9L1521.2 385.1L1522.1 382.2L1523 379.4L1523.9 376.5L1524.8 373.6L1525.7 370.8L1526.6 367.9L1527.5 365L1528.4 362.1L1529.3 359.3L1530.1 356.4L1531 353.5L1531.8 350.6L1532.6 347.7L1533.4 344.8L1534.3 341.9L1535 339L1535.8 336L1536.6 333.1L1537.4 330.2L1538.1 327.3L1538.9 324.3L1539.6 321.4"/>
<path d="M1539.6 321.4L1539.4 324.4L1539.1 327.4L1538.9 330.4L1538.7 333.4L1538.4 336.4L1538.2 339.5L1538 342.5L1537.7 345.5L1537.5 348.5L1537.2 351.5L1536.9 354.5L1536.7 357.5L1536.4 360.5L1536.1 363.5L1535.9 366.5L1535.6 369.5L1535.3 372.5L1535 375.5L1534.7 378.5L1534.4 381.5L1534.1 384.5L1533.8 387.4L1533.5 390.4L1533.2 393.4L1532.9 396.4L1532.6 399.4L1532.3 402.4L1532 405.4L1531.7 408.4L1531.3 411.4L1531 414.4L1530.7 417.4L1530.4 420.3L1530 423.3L1529.7 426.3L1529.3 429.3L1529 432.3L1528.6 435.3L1528.3 438.2L1527.9 441.2L1527.6 444.2L1527.2 447.2L1526.9 450.2L1526.5 453.2L1526.1 456.1L1525.7 459.1L1525.4 462.1L1525 465.1L1524.6 468L1524.2 471L1523.8 474L1523.5 477L1523.1 480L1522.7 482.9L1522.3 485.9L1521.9 488.9L1521.5 491.9L1521.1 494.8L1520.6 497.8L1520.2 500.8L1519.8 503.7L1519.4 506.7L1519 509.7L1518.6 512.7L1518.1 515.6L1517.7 518.6L1517.3 521.6L1516.9 524.5L1516.4 527.5L1516 530.5L1515.5 533.5L1515.1 536.4L1514.7 539.4L1514.2 542.4L1513.8 545.3L1513.3 548.3L1512.9 551.3L1512.4 554.2L1511.9 557.2L1511.5 560.2L1511 563.1L1510.5 566.1L1510.1 569.1L1509.6 572L1509.1 575L1508.7 578L1508.2 580.9L1507.7 583.9L1507.2 586.9L1506.7 589.8L1506.2 592.8L1505.7 595.7L1505.2 598.7L1504.7 601.7L1504.2 604.6L1503.7 607.6L1503.1 610.6L1502.6 613.5L1502.1 616.5L1501.5 619.4L1501 622.4L1500.4 625.4L1499.8 628.3L1499.2 631.3L1498.7 634.2L1498.1 637.2L1497.5 640.1L1496.8 643.1L1496.2 646.1L1495.6 649L1494.9 652L1494.3 654.9L1493.6 657.9L1493 660.8L1492.3 663.8L1491.6 666.7L1490.9 669.6L1490.1 672.6L1489.4 675.5L1488.7 678.5L1487.9 681.4L1487.1 684.4L1486.4 687.3L1485.6 690.2L1484.7 693.2L1483.9 696.1L1483.1 699L1482.2 702L1481.3 704.9L1480.5 707.8L1479.5 710.7L1478.6 713.6L1477.7 716.5L1476.7 719.4L1475.7 722.3L1474.7 725.2L1473.7 728L1472.7 730.9L1471.6 733.7L1470.5 736.6L1469.4 739.4L1468.3 742.2L1467.1 745L1466 747.8L1464.8 750.5L1463.5 753.3L1462.3 756L1461 758.8L1459.7 761.5L1458.4 764.2L1457.1 766.9L1455.7 769.5L1454.3 772.2L1452.8 774.8L1451.4 777.4L1449.9 780L1448.4 782.6L1446.8 785.1L1445.2 787.6L1443.6 790.1L1442 792.6L1440.3 795.1L1438.6 797.5L1436.8 799.9L1435.1 802.3L1433.3 804.7L1431.4 807L1429.6 809.3L1427.7 811.6L1425.7 813.9L1423.8 816.1L1421.8 818.3L1419.8 820.5L1417.8 822.7L1415.7 824.8L1413.6 826.9L1411.5 829L1409.3 831.1L1407.2 833.1L1405 835.1L1402.7 837L1400.5 839L1398.2 840.9L1395.9 842.8L1393.6 844.6L1391.2 846.4L1388.9 848.2L1386.5 850L1384.1 851.7L1381.6 853.4L1379.2 855.1L1376.7 856.7L1374.2 858.3L1371.7 859.9L1369.1 861.4L1366.5 862.9L1364 864.4L1361.4 865.8L1358.7 867.2L1356.1 868.6L1353.4 869.9L1350.7 871.2L1348.1 872.5L1345.3 873.7L1342.6 874.9L1339.9 876.1L1337.1 877.2L1334.3 878.3L1331.5 879.4L1328.7 880.4L1325.9 881.4L1323.1 882.4L1320.2 883.4L1317.4 884.3L1314.5 885.2L1311.6 886.1L1308.7 886.9L1305.8 887.7L1302.9 888.5L1300 889.3L1297 890.1L1294.1 890.8L1291.1 891.5L1288.2 892.2L1285.2 892.8L1282.2 893.5L1279.3 894.1L1276.3 894.7L1273.3 895.3L1270.3 895.9L1267.3 896.4L1264.3 896.9L1261.3 897.4L1258.3 897.9L1255.3 898.4L1252.3 898.9L1249.3 899.3L1246.2 899.8L1243.2 900.2L1240.2 900.6L1237.2 901L1234.2 901.4L1231.2 901.8L1228.2 902.2L1225.2 902.5L1222.1 902.9L1219.1 903.2L1216.1 903.6L1213.1 903.9L1210.1 904.2L1207.1 904.5L1204.1 904.8L1201.1 905.1L1198.1 905.3L1195.1 905.6L1192.1 905.9L1189.1 906.1L1186.1 906.4L1183.1 906.6L1180.1 906.8L1177.1 907L1174.1 907.3L1171.1 907.5L1168.1 907.7L1165.1 907.9L1162.1 908L1159.1 908.2L1156.1 908.4L1153.1 908.6L1150.1 908.7L1147.1 908.9L1144.1 909.1L1141.1 909.2L1138.1 909.4L1135.1 909.5L1132.1 909.6L1129.1 909.8L1126.1 909.9L1123.1 910L1120.1 910.1L1117.1 910.3L1114.1 910.4L1111.1 910.5L1108.1 910.6L1105.1 910.7L1102.1 910.8L1099.1 911L1096.1 911.1L1093.1 911.2L1090.1 911.3L1087.1 911.4L1084.1 911.5L1081.1 911.6L1078.1 911.7L1075.1 911.8L1072.1 911.9L1069.1 912L1066.1 912.1L1063.1 912.2L1060.1 912.3L1057.1 912.4L1054.1 912.5L1051.1 912.6L1048.1 912.8L1045.1 912.9L1042.1 913L1039.1 913.1L1036.1 913.2L1033.1 913.4L1030.1 913.5L1027.1 913.6L1024.1 913.8L1021.1 913.9L1018.1 914L1015 914.2L1012 914.3L1009 914.5L1006 914.7L1003 914.8L1000 915.0"/>
</g>
<path fill="url(#fr)" d="M228 913.2L247 913L310 903.4L375 893.4L470 877L470 911L335 913.8L300 916.8L228 916.8Z"/>
<g class="c rs">
<path d="M228 914L231 913.8L234 913.6L237 913.4L240 913.1L243 912.9L246 912.7L248.9 912.4L251.9 912.2L254.9 911.9L257.9 911.7L260.9 911.4L263.9 911.1L266.9 910.9L269.9 910.6L272.9 910.3L275.8 910L278.8 909.7L281.8 909.4L284.8 909.1L287.8 908.8L290.8 908.5L293.7 908.2L296.7 907.8L299.7 907.5L302.7 907.2L305.7 906.8L308.7 906.5L311.6 906.1L314.6 905.8L317.6 905.4L320.6 905.1L323.6 904.7L326.5 904.3L329.5 904L332.5 903.6L335.5 903.2L338.4 902.8L341.4 902.4L344.4 902L347.4 901.6L350.4 901.2L353.3 900.8L356.3 900.4L359.3 900L362.3 899.6L365.2 899.2L368.2 898.7L371.2 898.3L374.1 897.9L377.1 897.4L380.1 897L383.1 896.6L386 896.1L389 895.7L392 895.2L394.9 894.7L397.9 894.3L400.9 893.8L403.8 893.4L406.8 892.9L409.8 892.4L412.8 891.9L415.7 891.5L418.7 891L421.7 890.5L424.6 890L427.6 889.5L430.6 889L433.5 888.6L436.5 888.1L439.4 887.6L442.4 887.1L445.4 886.6L448.3 886.1L451.3 885.6L454.3 885L457.2 884.5L460.2 884L463.1 883.5L466.1 883L469.1 882.5L472 882L475 881.4L478 880.9L480.9 880.4L483.9 879.9L486.8 879.3L489.8 878.8L492.7 878.3L495.7 877.7L498.7 877.2L501.6 876.7L504.6 876.1L507.5 875.6L510.5 875L513.4 874.5L516.4 874L519.4 873.4L522.3 872.9L525.3 872.3L528.2 871.8L531.2 871.2L534.1 870.7L537.1 870.1L540 869.6L543 869L545.9 868.5L548.9 867.9L551.9 867.4L554.8 866.8L557.8 866.3L560.7 865.7L563.7 865.2L566.6 864.6L569.6 864.1L572.5 863.5L575.5 863L578.4 862.4L581.4 861.9L584.3 861.3L587.3 860.8L590.2 860.2L593.2 859.7L596.1 859.1L599.1 858.6L602 858.0"/>
<path d="M602 857.2L599.2 858.2L596.3 859.2L593.5 860.2L590.7 861.1L587.8 862.1L585 863L582.1 864L579.3 864.9L576.4 865.8L573.6 866.7L570.7 867.6L567.9 868.4L565 869.3L562.1 870.1L559.2 871L556.4 871.8L553.5 872.6L550.6 873.4L547.7 874.2L544.8 875L541.9 875.8L539 876.6L536.1 877.3L533.2 878.1L530.3 878.8L527.4 879.5L524.5 880.2L521.6 880.9L518.7 881.6L515.8 882.3L512.9 883L509.9 883.6L507 884.3L504.1 885L501.2 885.6L498.2 886.2L495.3 886.8L492.4 887.5L489.4 888.1L486.5 888.6L483.5 889.2L480.6 889.8L477.6 890.4L474.7 890.9L471.7 891.5L468.8 892L465.8 892.6L462.9 893.1L459.9 893.6L457 894.1L454 894.6L451 895.1L448.1 895.6L445.1 896.1L442.1 896.6L439.2 897.1L436.2 897.5L433.2 898L430.3 898.4L427.3 898.9L424.3 899.3L421.3 899.8L418.4 900.2L415.4 900.6L412.4 901L409.4 901.4L406.4 901.8L403.5 902.2L400.5 902.6L397.5 903L394.5 903.4L391.5 903.7L388.5 904.1L385.6 904.5L382.6 904.8L379.6 905.2L376.6 905.5L373.6 905.8L370.6 906.2L367.6 906.5L364.6 906.8L361.6 907.2L358.7 907.5L355.7 907.8L352.7 908.1L349.7 908.4L346.7 908.7L343.7 909L340.7 909.3L337.7 909.6L334.7 909.9L331.7 910.2L328.8 910.4L325.8 910.7L322.8 911L319.8 911.3L316.8 911.5L313.8 911.8L310.8 912L307.8 912.3L304.8 912.6L301.9 912.8L298.9 913.1L295.9 913.3L292.9 913.6L289.9 913.8L286.9 914L283.9 914.3L281 914.5L278 914.8L275 915.0"/>
<path d="M275 915L278 914.5L280.9 914L283.9 913.5L286.8 912.9L289.8 912.4L292.7 911.9L295.7 911.4L298.6 910.9L301.6 910.4L304.6 909.9L307.5 909.4L310.5 908.9L313.4 908.4L316.4 908L319.4 907.5L322.3 907L325.3 906.5L328.3 906L331.2 905.5L334.2 905L337.1 904.6L340.1 904.1L343.1 903.6L346 903.1L349 902.6L352 902.2L354.9 901.7L357.9 901.2L360.9 900.7L363.8 900.3L366.8 899.8L369.8 899.3L372.7 898.8L375.7 898.4L378.7 897.9L381.6 897.4L384.6 897L387.6 896.5L390.5 896L393.5 895.5L396.5 895.1L399.5 894.6L402.4 894.1L405.4 893.7L408.4 893.2L411.3 892.7L414.3 892.3L417.3 891.8L420.2 891.3L423.2 890.8L426.2 890.4L429.2 889.9L432.1 889.4L435.1 888.9L438.1 888.5L441 888L444 887.5L447 887L449.9 886.6L452.9 886.1L455.9 885.6L458.8 885.1L461.8 884.7L464.8 884.2L467.7 883.7L470.7 883.2L473.7 882.7L476.7 882.2L479.6 881.7L482.6 881.2L485.6 880.8L488.5 880.3L491.5 879.8L494.5 879.3L497.4 878.8L500.4 878.3L503.3 877.8L506.3 877.3L509.3 876.8L512.2 876.2L515.2 875.7L518.2 875.2L521.1 874.7L524.1 874.2L527 873.7L530 873.2L533 872.6L535.9 872.1L538.9 871.6L541.8 871L544.8 870.5L547.8 870L550.7 869.4L553.7 868.9L556.6 868.4L559.6 867.8L562.5 867.3L565.5 866.7L568.4 866.1L571.4 865.6L574.4 865L577.3 864.5L580.3 863.9L583.2 863.3L586.2 862.7L589.1 862.2L592 861.6L595 861L597.9 860.4L600.9 859.8L603.8 859.2L606.8 858.6L609.7 858L612.7 857.4L615.6 856.8L618.5 856.2L621.5 855.5L624.4 854.9L627.3 854.3L630.3 853.7L633.2 853L636.2 852.4L639.1 851.7L642 851.1L644.9 850.4L647.9 849.8L650.8 849.1L653.7 848.4L656.7 847.8L659.6 847.1L662.5 846.4L665.4 845.7L668.4 845L671.3 844.3L674.2 843.6L677.1 842.9L680 842.2L682.9 841.5L685.9 840.8L688.8 840L691.7 839.3L694.6 838.6L697.5 837.8L700.4 837.1L703.3 836.3L706.2 835.6L709.1 834.8L712 834L714.9 833.3L717.8 832.5L720.7 831.7L723.6 830.9L726.5 830.1L729.4 829.3L732.3 828.5L735.2 827.6L738.1 826.8L741 826L743.9 825.2L746.8 824.3L749.6 823.5L752.5 822.6L755.4 821.7L758.3 820.9L761.2 820L764 819.1L766.9 818.2L769.8 817.3L772.7 816.4L775.5 815.5L778.4 814.6L781.3 813.7L784.1 812.7L787 811.8"/>
<path d="M787 811.3L784.6 813.1L782.1 815L779.7 816.7L777.2 818.4L774.7 820.1L772.2 821.8L769.6 823.4L767.1 824.9L764.5 826.4L761.9 827.9L759.3 829.4L756.7 830.8L754 832.2L751.4 833.5L748.7 834.8L746 836.1L743.3 837.3L740.6 838.6L737.9 839.8L735.1 840.9L732.4 842.1L729.6 843.2L726.8 844.2L724 845.3L721.2 846.3L718.4 847.4L715.6 848.3L712.8 849.3L709.9 850.3L707.1 851.2L704.2 852.1L701.4 853L698.5 853.9L695.6 854.7L692.8 855.6L689.9 856.4L687 857.2L684.1 858.1L681.2 858.9L678.3 859.6L675.4 860.4L672.5 861.2L669.5 862L666.6 862.7L663.7 863.5L660.8 864.2L657.9 864.9L655 865.7L652 866.4L649.1 867.1L646.2 867.8L643.2 868.5L640.3 869.2L637.4 869.9L634.4 870.6L631.5 871.2L628.6 871.9L625.6 872.6L622.7 873.2L619.7 873.9L616.8 874.5L613.9 875.1L610.9 875.8L608 876.4L605 877L602.1 877.6L599.1 878.2L596.1 878.8L593.2 879.4L590.2 880L587.3 880.6L584.3 881.2L581.4 881.7L578.4 882.3L575.4 882.9L572.5 883.4L569.5 884L566.6 884.5L563.6 885.1L560.6 885.6L557.7 886.1L554.7 886.7L551.7 887.2L548.8 887.7L545.8 888.2L542.9 888.7L539.9 889.2L536.9 889.7L534 890.2L531 890.7L528 891.2L525.1 891.7L522.1 892.2L519.1 892.6L516.1 893.1L513.2 893.6L510.2 894L507.2 894.5L504.3 894.9L501.3 895.4L498.3 895.8L495.4 896.2L492.4 896.7L489.4 897.1L486.4 897.5L483.5 897.9L480.5 898.4L477.5 898.8L474.5 899.2L471.6 899.6L468.6 900L465.6 900.3L462.6 900.7L459.7 901.1L456.7 901.5L453.7 901.9L450.7 902.2L447.8 902.6L444.8 902.9L441.8 903.3L438.8 903.6L435.8 904L432.9 904.3L429.9 904.7L426.9 905L423.9 905.3L420.9 905.6L417.9 905.9L415 906.3L412 906.6L409 906.9L406 907.2L403 907.5L400 907.7L397 908L394 908.3L391 908.6L388.1 908.9L385.1 909.1L382.1 909.4L379.1 909.6L376.1 909.9L373.1 910.1L370.1 910.4L367.1 910.6L364.1 910.9L361.1 911.1L358.1 911.3L355.1 911.5L352.1 911.8L349.1 912L346.1 912.2L343.1 912.4L340.1 912.6L337.1 912.8L334.1 913L331.1 913.1L328.1 913.3L325.1 913.5L322.1 913.7L319.1 913.8L316.1 914L313.1 914.2L310.1 914.3L307 914.5L304 914.6L301 914.7L298 914.9L295 915.0"/>
<path d="M295 915L297.9 914.1L300.7 913.3L303.6 912.4L306.5 911.6L309.4 910.8L312.2 910L315.1 909.2L318 908.5L320.9 907.8L323.8 907.1L326.7 906.4L329.7 905.7L332.6 905L335.5 904.4L338.4 903.7L341.3 903.1L344.3 902.5L347.2 901.9L350.1 901.3L353.1 900.8L356 900.2L359 899.7L361.9 899.1L364.9 898.6L367.8 898.1L370.8 897.6L373.7 897L376.7 896.5L379.6 896.1L382.6 895.6L385.6 895.1L388.5 894.6L391.5 894.1L394.4 893.7L397.4 893.2L400.4 892.7L403.3 892.3L406.3 891.8L409.3 891.4L412.3 890.9L415.2 890.5L418.2 890L421.2 889.6L424.1 889.2L427.1 888.7L430.1 888.3L433.1 887.8L436 887.4L439 887L442 886.5L444.9 886.1L447.9 885.6L450.9 885.2L453.9 884.7L456.8 884.3L459.8 883.9L462.8 883.4L465.7 882.9L468.7 882.5L471.7 882L474.6 881.6L477.6 881.1L480.6 880.6L483.5 880.1L486.5 879.7L489.5 879.2L492.4 878.7L495.4 878.2L498.3 877.7L501.3 877.2L504.2 876.7L507.2 876.2L510.2 875.7L513.1 875.2L516.1 874.7L519 874.1L522 873.6L524.9 873.1L527.9 872.6L530.8 872L533.8 871.5L536.7 870.9L539.7 870.4L542.6 869.8L545.6 869.3L548.5 868.7L551.4 868.2L554.4 867.6L557.3 867L560.3 866.5L563.2 865.9L566.2 865.3L569.1 864.7L572 864.1L575 863.5L577.9 863L580.8 862.4L583.8 861.8L586.7 861.2L589.7 860.5L592.6 859.9L595.5 859.3L598.5 858.7L601.4 858.1L604.3 857.5L607.3 856.8L610.2 856.2L613.1 855.6L616.1 854.9L619 854.3L621.9 853.6L624.8 853L627.8 852.3L630.7 851.7L633.6 851L636.6 850.4L639.5 849.7L642.4 849L645.3 848.4L648.3 847.7L651.2 847L654.1 846.3L657 845.7L660 845L662.9 844.3L665.8 843.6L668.7 842.9L671.7 842.2L674.6 841.5L677.5 840.8L680.4 840L683.3 839.3L686.3 838.6L689.2 837.9L692.1 837.1L695 836.4L697.9 835.7L700.8 834.9L703.7 834.1L706.7 833.4L709.6 832.6L712.5 831.9L715.4 831.1L718.3 830.3L721.2 829.5L724.1 828.7L727 827.9L729.9 827.1L732.8 826.3L735.7 825.5L738.5 824.7L741.4 823.9L744.3 823.1L747.2 822.2L750.1 821.4L753 820.5L755.8 819.7L758.7 818.8L761.6 817.9L764.5 817.1L767.3 816.2L770.2 815.3L773.1 814.4L775.9 813.5L778.8 812.6L781.6 811.7L784.5 810.7L787.3 809.8L790.2 808.9L793 807.9L795.9 807L798.7 806L801.5 805L804.4 804.1L807.2 803.1L810 802.1L812.9 801.1L815.7 800.1L818.5 799.1L821.3 798L824.1 797L826.9 796L829.7 794.9L832.5 793.9L835.3 792.8L838.1 791.7L840.9 790.6L843.7 789.5L846.5 788.4L849.2 787.3L852 786.2L854.8 785.1L857.6 783.9L860.3 782.8L863.1 781.6L865.8 780.4L868.6 779.2L871.3 778.1L874.1 776.9L876.8 775.6L879.5 774.4L882.2 773.2L885 772L887.7 770.7L890.4 769.4L893.1 768.2L895.8 766.9L898.5 765.6L901.2 764.3L903.9 763L906.6 761.6L909.3 760.3L911.9 759L914.6 757.6L917.3 756.2L919.9 754.9L922.6 753.5L925.2 752.1L927.9 750.6L930.5 749.2L933.1 747.8L935.8 746.3L938.4 744.9L941 743.4L943.6 741.9L946.2 740.4L948.8 738.9L951.4 737.4L954 735.8L956.6 734.3L959.1 732.7L961.7 731.1L964.3 729.5L966.8 727.9L969.4 726.3L971.9 724.7L974.5 723.1L977 721.4"/>
<path d="M977 721.4L975.8 724.3L974.6 727.1L973.3 730L972 732.7L970.6 735.5L969.2 738.2L967.7 740.9L966.2 743.5L964.6 746.1L963 748.7L961.4 751.2L959.7 753.7L957.9 756.1L956.2 758.5L954.4 760.9L952.5 763.3L950.6 765.6L948.7 767.8L946.7 770.1L944.7 772.3L942.7 774.4L940.6 776.6L938.5 778.7L936.3 780.7L934.2 782.7L932 784.7L929.7 786.7L927.5 788.6L925.2 790.5L922.9 792.4L920.5 794.2L918.1 796L915.7 797.7L913.3 799.4L910.9 801.1L908.4 802.8L905.9 804.4L903.4 806L900.9 807.6L898.3 809.1L895.7 810.7L893.1 812.1L890.5 813.6L887.9 815L885.2 816.4L882.6 817.8L879.9 819.2L877.2 820.5L874.5 821.8L871.8 823.1L869.1 824.4L866.3 825.6L863.6 826.8L860.8 828L858 829.2L855.3 830.4L852.5 831.5L849.7 832.6L846.9 833.7L844.1 834.8L841.3 835.9L838.4 836.9L835.6 837.9L832.8 838.9L830 839.9L827.1 840.9L824.3 841.9L821.4 842.8L818.6 843.8L815.7 844.7L812.8 845.6L810 846.5L807.1 847.4L804.2 848.2L801.4 849.1L798.5 849.9L795.6 850.7L792.7 851.6L789.8 852.4L786.9 853.1L784 853.9L781.1 854.7L778.2 855.4L775.3 856.2L772.3 856.9L769.4 857.7L766.5 858.4L763.6 859.1L760.6 859.8L757.7 860.5L754.8 861.1L751.8 861.8L748.9 862.5L746 863.1L743 863.8L740.1 864.4L737.1 865.1L734.2 865.7L731.2 866.3L728.3 867L725.3 867.6L722.4 868.2L719.4 868.8L716.5 869.4L713.5 870L710.6 870.6L707.6 871.2L704.7 871.8L701.7 872.4L698.7 873L695.8 873.6L692.8 874.2L689.9 874.7L686.9 875.3L684 875.9L681 876.5L678 877.1L675.1 877.7L672.1 878.2L669.2 878.8L666.2 879.4L663.3 880L660.3 880.6L657.4 881.1L654.4 881.7L651.5 882.3L648.5 882.9L645.6 883.4L642.6 884L639.6 884.6L636.7 885.1L633.7 885.7L630.8 886.3L627.8 886.8L624.9 887.4L621.9 887.9L619 888.5L616 889L613.1 889.5L610.1 890.1L607.2 890.6L604.2 891.1L601.3 891.7L598.3 892.2L595.3 892.7L592.4 893.2L589.4 893.7L586.5 894.2L583.5 894.7L580.6 895.1L577.6 895.6L574.6 896.1L571.7 896.6L568.7 897L565.7 897.5L562.8 897.9L559.8 898.3L556.8 898.8L553.9 899.2L550.9 899.6L547.9 900L545 900.4L542 900.8L539 901.1L536 901.5L533.1 901.9L530.1 902.2L527.1 902.6L524.1 902.9L521.1 903.2L518.1 903.5L515.2 903.8L512.2 904.1L509.2 904.4L506.2 904.7L503.2 904.9L500.2 905.2L497.2 905.4L494.2 905.6L491.2 905.9L488.2 906.1L485.2 906.3L482.2 906.5L479.2 906.7L476.2 906.8L473.2 907L470.2 907.2L467.2 907.4L464.2 907.5L461.2 907.7L458.1 907.8L455.1 908L452.1 908.1L449.1 908.2L446.1 908.4L443.1 908.5L440.1 908.6L437.1 908.8L434 908.9L431 909L428 909.2L425 909.3L422 909.4L419 909.5L416 909.7L413 909.8L409.9 909.9L406.9 910.1L403.9 910.2L400.9 910.3L397.9 910.5L394.9 910.6L391.9 910.8L388.9 910.9L385.9 911.1L382.9 911.3L379.9 911.4L376.9 911.6L373.9 911.8L370.9 912L367.9 912.2L364.9 912.4L361.9 912.6L358.9 912.8L355.9 913.1L352.9 913.3L349.9 913.6L346.9 913.8L343.9 914.1L341 914.4L338 914.7L335 915.0"/>
<path d="M335 915L337.7 913.7L340.4 912.4L343.2 911.1L345.9 909.9L348.7 908.8L351.5 907.7L354.3 906.6L357.1 905.6L359.9 904.7L362.7 903.7L365.6 902.8L368.4 902L371.3 901.1L374.2 900.3L377 899.6L379.9 898.9L382.8 898.2L385.7 897.5L388.6 896.8L391.5 896.2L394.5 895.6L397.4 895L400.3 894.5L403.3 894L406.2 893.4L409.2 892.9L412.1 892.5L415.1 892L418.1 891.5L421 891.1L424 890.6L427 890.2L429.9 889.8L432.9 889.4L435.9 889L438.9 888.5L441.9 888.1L444.8 887.7L447.8 887.3L450.8 886.9L453.8 886.5L456.8 886.1L459.7 885.6L462.7 885.2L465.7 884.7L468.6 884.3L471.6 883.8L474.6 883.4L477.6 882.9L480.5 882.5L483.5 882L486.5 881.5L489.4 881L492.4 880.5L495.3 880L498.3 879.5L501.3 879L504.2 878.5L507.2 878L510.1 877.5L513.1 877L516.1 876.5L519 875.9L522 875.4L524.9 874.9L527.9 874.3L530.8 873.8L533.8 873.3L536.7 872.7L539.7 872.2L542.6 871.6L545.6 871L548.5 870.5L551.5 869.9L554.4 869.4L557.4 868.8L560.3 868.2L563.3 867.6L566.2 867.1L569.1 866.5L572.1 865.9L575 865.3L578 864.7L580.9 864.1L583.9 863.6L586.8 863L589.7 862.4L592.7 861.8L595.6 861.2L598.6 860.6L601.5 860L604.4 859.4L607.4 858.8L610.3 858.1L613.2 857.5L616.2 856.9L619.1 856.3L622.1 855.7L625 855L627.9 854.4L630.8 853.8L633.8 853.1L636.7 852.5L639.6 851.8L642.6 851.2L645.5 850.5L648.4 849.9L651.4 849.2L654.3 848.6L657.2 847.9L660.1 847.2L663 846.6L666 845.9L668.9 845.2L671.8 844.5L674.7 843.8L677.6 843.1L680.6 842.4L683.5 841.7L686.4 841L689.3 840.3L692.2 839.6L695.1 838.8L698 838.1L700.9 837.4L703.8 836.6L706.7 835.9L709.7 835.2L712.6 834.4L715.5 833.6L718.4 832.9L721.3 832.1L724.2 831.3L727 830.6L729.9 829.8L732.8 829L735.7 828.2L738.6 827.4L741.5 826.6L744.4 825.8L747.3 825L750.2 824.1L753 823.3L755.9 822.5L758.8 821.6L761.7 820.8L764.6 819.9L767.4 819L770.3 818.2L773.2 817.3L776 816.4L778.9 815.5L781.8 814.6L784.6 813.7L787.5 812.8L790.4 811.9L793.2 811L796.1 810.1L798.9 809.1L801.8 808.2L804.6 807.2L807.5 806.3L810.3 805.3L813.2 804.3L816 803.4L818.8 802.4L821.7 801.4L824.5 800.4L827.3 799.4L830.2 798.3L833 797.3L835.8 796.3L838.6 795.2L841.4 794.2L844.2 793.1L847.1 792L849.9 790.9L852.6 789.8L855.4 788.7L858.2 787.6L861 786.4L863.8 785.3L866.5 784.1L869.3 783L872.1 781.8L874.8 780.6L877.6 779.4L880.3 778.1L883 776.9L885.7 775.7L888.5 774.4L891.2 773.1L893.9 771.8L896.6 770.5L899.3 769.2L901.9 767.9L904.6 766.5L907.3 765.2L909.9 763.8L912.6 762.4L915.2 761L917.8 759.6L920.5 758.1L923.1 756.7L925.7 755.2L928.3 753.7L930.9 752.2L933.4 750.7L936 749.1L938.5 747.6L941.1 746L943.6 744.4L946.2 742.8L948.7 741.2L951.2 739.6L953.7 737.9L956.2 736.3L958.7 734.6L961.1 732.9L963.6 731.2L966.1 729.5L968.5 727.8L970.9 726L973.4 724.3L975.8 722.5L978.2 720.7L980.6 718.9L983 717.1L985.4 715.3L987.8 713.5L990.1 711.6L992.5 709.8L994.8 707.9L997.2 706L999.5 704.1L1001.8 702.2L1004.1 700.3L1006.4 698.4L1008.7 696.4L1011 694.5L1013.3 692.5L1015.5 690.6L1017.8 688.6L1020 686.6L1022.3 684.6L1024.5 682.6L1026.7 680.6L1028.9 678.5L1031.1 676.5L1033.3 674.4L1035.5 672.4L1037.7 670.3L1039.8 668.2L1042 666.1L1044.2 664L1046.3 661.9L1048.4 659.8L1050.6 657.7L1052.7 655.6L1054.8 653.4L1056.9 651.3L1059 649.1L1061 646.9L1063.1 644.8L1065.2 642.6L1067.2 640.4L1069.3 638.2L1071.3 636L1073.3 633.8L1075.4 631.5L1077.4 629.3L1079.4 627.1L1081.4 624.8L1083.3 622.6L1085.3 620.3L1087.3 618L1089.3 615.8L1091.2 613.5L1093.1 611.2L1095.1 608.9L1097 606.6L1098.9 604.3L1100.8 602L1102.7 599.7L1104.6 597.4L1106.5 595L1108.4 592.7L1110.3 590.3L1112.1 588L1114 585.6L1115.8 583.3L1117.6 580.9L1119.4 578.5L1121.3 576.1L1123 573.7L1124.8 571.3L1126.6 568.9L1128.4 566.5L1130.1 564L1131.8 561.6L1133.6 559.2L1135.3 556.7L1137 554.2L1138.7 551.7L1140.3 549.3L1142 546.8L1143.6 544.3L1145.2 541.7L1146.9 539.2L1148.5 536.7L1150 534.1L1151.6 531.6L1153.2 529L1154.7 526.4L1156.2 523.8L1157.7 521.2L1159.2 518.6L1160.7 516L1162.1 513.3L1163.6 510.7L1165 508.0"/>
<path d="M1165 508L1164.2 510.9L1163.4 513.9L1162.7 516.8L1161.9 519.7L1161.2 522.7L1160.5 525.6L1159.8 528.5L1159.1 531.4L1158.4 534.4L1157.7 537.3L1157 540.2L1156.4 543.1L1155.7 546L1155.1 548.9L1154.4 551.9L1153.8 554.8L1153.1 557.7L1152.5 560.6L1151.9 563.5L1151.2 566.4L1150.6 569.3L1149.9 572.2L1149.3 575.1L1148.6 578L1148 580.9L1147.3 583.8L1146.7 586.7L1146 589.6L1145.3 592.5L1144.6 595.4L1143.9 598.2L1143.2 601.1L1142.4 604L1141.7 606.9L1140.9 609.8L1140.1 612.7L1139.4 615.6L1138.5 618.4L1137.7 621.3L1136.9 624.2L1136 627.1L1135.1 630L1134.2 632.9L1133.2 635.7L1132.3 638.6L1131.3 641.5L1130.3 644.4L1129.3 647.2L1128.2 650.1L1127.1 652.9L1126 655.8L1124.9 658.7L1123.8 661.5L1122.6 664.3L1121.4 667.2L1120.2 670L1118.9 672.8L1117.7 675.6L1116.4 678.4L1115.1 681.1L1113.7 683.9L1112.4 686.7L1111 689.4L1109.6 692.1L1108.2 694.8L1106.7 697.5L1105.2 700.2L1103.7 702.9L1102.2 705.5L1100.7 708.2L1099.1 710.8L1097.5 713.4L1095.9 716L1094.3 718.5L1092.6 721.1L1090.9 723.6L1089.2 726.1L1087.5 728.5L1085.7 731L1083.9 733.4L1082.1 735.8L1080.3 738.2L1078.4 740.5L1076.6 742.9L1074.7 745.1L1072.7 747.4L1070.8 749.7L1068.8 751.9L1066.8 754.1L1064.8 756.2L1062.8 758.4L1060.7 760.5L1058.6 762.6L1056.5 764.6L1054.4 766.6L1052.2 768.7L1050.1 770.6L1047.9 772.6L1045.7 774.5L1043.4 776.4L1041.2 778.3L1038.9 780.2L1036.6 782L1034.3 783.8L1032 785.6L1029.7 787.4L1027.3 789.2L1024.9 790.9L1022.5 792.6L1020.1 794.3L1017.7 795.9L1015.2 797.6L1012.8 799.2L1010.3 800.8L1007.8 802.3L1005.3 803.9L1002.7 805.4L1000.2 806.9L997.6 808.4L995.1 809.9L992.5 811.4L989.9 812.8L987.3 814.2L984.6 815.6L982 817L979.4 818.3L976.7 819.7L974 821L971.3 822.3L968.6 823.6L965.9 824.8L963.2 826.1L960.5 827.3L957.7 828.5L955 829.7L952.2 830.9L949.4 832.1L946.6 833.2L943.8 834.4L941 835.5L938.2 836.6L935.4 837.7L932.6 838.8L929.7 839.8L926.9 840.9L924 841.9L921.2 842.9L918.3 843.9L915.5 844.9L912.6 845.9L909.7 846.9L906.8 847.8L903.9 848.8L901 849.7L898.1 850.6L895.2 851.5L892.3 852.4L889.4 853.3L886.4 854.1L883.5 855L880.6 855.8L877.7 856.7L874.7 857.5L871.8 858.3L868.9 859.1L865.9 859.9L863 860.7L860 861.5L857.1 862.2L854.1 863L851.2 863.7L848.3 864.5L845.3 865.2L842.4 865.9L839.4 866.6L836.5 867.4L833.5 868L830.6 868.7L827.6 869.4L824.7 870.1L821.7 870.8L818.8 871.4L815.8 872.1L812.9 872.7L809.9 873.3L807 873.9L804 874.6L801.1 875.2L798.1 875.8L795.2 876.4L792.2 876.9L789.2 877.5L786.3 878.1L783.3 878.7L780.4 879.2L777.4 879.8L774.5 880.3L771.5 880.8L768.5 881.4L765.6 881.9L762.6 882.4L759.7 882.9L756.7 883.4L753.7 883.9L750.8 884.4L747.8 884.9L744.8 885.3L741.9 885.8L738.9 886.2L735.9 886.7L733 887.1L730 887.6L727 888L724.1 888.4L721.1 888.9L718.1 889.3L715.2 889.7L712.2 890.1L709.2 890.5L706.3 890.9L703.3 891.3L700.3 891.7L697.4 892L694.4 892.4L691.4 892.8L688.4 893.1L685.5 893.5L682.5 893.8L679.5 894.2L676.5 894.5L673.6 894.9L670.6 895.2L667.6 895.5L664.6 895.8L661.7 896.1L658.7 896.5L655.7 896.8L652.7 897.1L649.8 897.4L646.8 897.6L643.8 897.9L640.8 898.2L637.8 898.5L634.9 898.8L631.9 899L628.9 899.3L625.9 899.6L622.9 899.8L619.9 900.1L617 900.3L614 900.6L611 900.8L608 901.1L605 901.3L602 901.5L599 901.8L596.1 902L593.1 902.2L590.1 902.4L587.1 902.6L584.1 902.8L581.1 903.1L578.1 903.3L575.1 903.5L572.2 903.7L569.2 903.9L566.2 904.1L563.2 904.3L560.2 904.4L557.2 904.6L554.2 904.8L551.2 905L548.2 905.2L545.2 905.4L542.2 905.5L539.3 905.7L536.3 905.9L533.3 906L530.3 906.2L527.3 906.4L524.3 906.5L521.3 906.7L518.3 906.9L515.3 907L512.3 907.2L509.3 907.3L506.3 907.5L503.3 907.6L500.3 907.8L497.3 907.9L494.3 908.1L491.3 908.2L488.3 908.4L485.3 908.5L482.3 908.7L479.3 908.8L476.3 909L473.3 909.1L470.3 909.2L467.3 909.4L464.3 909.5L461.3 909.7L458.3 909.8L455.3 909.9L452.3 910.1L449.3 910.2L446.3 910.3L443.3 910.5L440.3 910.6L437.3 910.8L434.3 910.9L431.3 911L428.2 911.2L425.2 911.3L422.2 911.4L419.2 911.6L416.2 911.7L413.2 911.9L410.2 912L407.2 912.1L404.2 912.3L401.2 912.4L398.2 912.6L395.2 912.7L392.2 912.8L389.1 913L386.1 913.1L383.1 913.3L380.1 913.4L377.1 913.6L374.1 913.7L371.1 913.9L368.1 914L365.1 914.2L362 914.4L359 914.5L356 914.7L353 914.8L350 915.0"/>
<path d="M350 915L352.6 913.4L355.3 911.9L358 910.5L360.7 909.2L363.4 907.9L366.1 906.7L368.9 905.5L371.6 904.4L374.4 903.4L377.2 902.4L380 901.4L382.9 900.5L385.7 899.7L388.6 898.9L391.4 898.1L394.3 897.4L397.2 896.7L400.1 896.1L403 895.4L406 894.8L408.9 894.3L411.8 893.7L414.8 893.2L417.7 892.6L420.7 892.1L423.6 891.7L426.6 891.2L429.6 890.7L432.5 890.2L435.5 889.8L438.5 889.3L441.5 888.8L444.4 888.3L447.4 887.9L450.4 887.4L453.4 886.9L456.3 886.5L459.3 886L462.3 885.5L465.3 885.1L468.3 884.6L471.2 884.1L474.2 883.6L477.2 883.2L480.2 882.7L483.2 882.2L486.1 881.7L489.1 881.2L492.1 880.8L495.1 880.3L498 879.8L501 879.3L504 878.8L507 878.3L509.9 877.8L512.9 877.3L515.9 876.8L518.8 876.3L521.8 875.8L524.8 875.3L527.7 874.8L530.7 874.3L533.7 873.8L536.6 873.3L539.6 872.7L542.5 872.2L545.5 871.7L548.4 871.2L551.4 870.6L554.4 870.1L557.3 869.5L560.3 869L563.2 868.5L566.2 867.9L569.1 867.4L572 866.8L575 866.2L577.9 865.7L580.9 865.1L583.8 864.6L586.8 864L589.7 863.4L592.6 862.8L595.6 862.3L598.5 861.7L601.5 861.1L604.4 860.5L607.3 859.9L610.3 859.3L613.2 858.7L616.1 858.1L619.1 857.5L622 856.9L624.9 856.3L627.9 855.6L630.8 855L633.7 854.4L636.7 853.8L639.6 853.1L642.5 852.5L645.5 851.9L648.4 851.2L651.3 850.6L654.2 849.9L657.2 849.3L660.1 848.6L663 847.9L666 847.3L668.9 846.6L671.8 845.9L674.7 845.2L677.7 844.5L680.6 843.8L683.5 843.2L686.4 842.5L689.4 841.8L692.3 841L695.2 840.3L698.1 839.6L701.1 838.9L704 838.2L706.9 837.4L709.8 836.7L712.8 836L715.7 835.2L718.6 834.4L721.5 833.7L724.4 832.9L727.3 832.2L730.3 831.4L733.2 830.6L736.1 829.8L739 829L741.9 828.2L744.8 827.4L747.7 826.6L750.6 825.8L753.5 825L756.4 824.1L759.3 823.3L762.2 822.4L765.1 821.6L768 820.7L770.9 819.9L773.7 819L776.6 818.1L779.5 817.2L782.4 816.3L785.3 815.4L788.1 814.5L791 813.6L793.9 812.7L796.7 811.7L799.6 810.8L802.4 809.8L805.3 808.9L808.1 807.9L811 806.9L813.8 806L816.7 805L819.5 804L822.3 803L825.2 801.9L828 800.9L830.8 799.9L833.6 798.8L836.4 797.8L839.2 796.7L842 795.6L844.8 794.6L847.6 793.5L850.4 792.4L853.2 791.3L856 790.1L858.8 789L861.6 787.9L864.3 786.7L867.1 785.6L869.8 784.4L872.6 783.2L875.3 782L878.1 780.8L880.8 779.6L883.6 778.4L886.3 777.2L889 775.9L891.7 774.7L894.4 773.4L897.1 772.1L899.8 770.8L902.5 769.5L905.2 768.2L907.9 766.9L910.6 765.6L913.3 764.2L915.9 762.9L918.6 761.5L921.2 760.1L923.9 758.7L926.5 757.3L929.2 755.9L931.8 754.5L934.4 753L937 751.6L939.6 750.1L942.2 748.6L944.8 747.1L947.4 745.6L950 744.1L952.6 742.6L955.1 741L957.7 739.5L960.2 737.9L962.8 736.3L965.3 734.7L967.8 733.1L970.4 731.5L972.9 729.8L975.4 728.2L977.9 726.5L980.4 724.8L982.8 723.2L985.3 721.4L987.8 719.7L990.2 718L992.7 716.2L995.1 714.5L997.5 712.7L1000 710.9L1002.4 709.1L1004.8 707.3L1007.2 705.4L1009.6 703.6L1011.9 701.7L1014.3 699.9L1016.7 698L1019 696.1L1021.3 694.2L1023.7 692.3L1026 690.3L1028.3 688.4L1030.6 686.4L1032.9 684.4L1035.1 682.5L1037.4 680.5L1039.7 678.4L1041.9 676.4L1044.1 674.4L1046.4 672.3L1048.6 670.3L1050.8 668.2L1052.9 666.1L1055.1 664L1057.3 661.9L1059.4 659.8L1061.6 657.7L1063.7 655.5L1065.8 653.4L1067.9 651.2L1070 649L1072 646.8L1074.1 644.6L1076.1 642.4L1078.2 640.2L1080.2 638L1082.2 635.7L1084.2 633.5L1086.2 631.2L1088.1 628.9L1090.1 626.6L1092 624.3L1094 622L1095.9 619.7L1097.8 617.4L1099.6 615L1101.5 612.7L1103.4 610.3L1105.2 607.9L1107 605.6L1108.8 603.2L1110.6 600.8L1112.4 598.3L1114.2 595.9L1115.9 593.5L1117.6 591.1L1119.4 588.6L1121.1 586.1L1122.8 583.7L1124.5 581.2L1126.1 578.7L1127.8 576.2L1129.5 573.7L1131.1 571.2L1132.7 568.7L1134.3 566.2L1135.9 563.7L1137.5 561.1L1139.1 558.6L1140.7 556L1142.3 553.5L1143.8 550.9L1145.4 548.3L1146.9 545.8L1148.4 543.2L1149.9 540.6L1151.4 538L1152.9 535.4L1154.4 532.8L1155.9 530.2L1157.4 527.6L1158.9 524.9L1160.3 522.3L1161.8 519.7L1163.2 517.1L1164.7 514.4L1166.1 511.8L1167.5 509.1L1168.9 506.5L1170.3 503.8L1171.7 501.2L1173.1 498.5L1174.5 495.8L1175.9 493.2L1177.3 490.5L1178.7 487.8L1180.1 485.1L1181.4 482.5L1182.8 479.8L1184.2 477.1L1185.5 474.4L1186.9 471.7L1188.2 469L1189.6 466.4L1190.9 463.7L1192.3 461L1193.6 458.3L1194.9 455.6L1196.3 452.9L1197.6 450.2L1198.9 447.5L1200.2 444.8L1201.6 442.1L1202.9 439.4L1204.2 436.7L1205.5 434L1206.8 431.3L1208.1 428.5L1209.4 425.8L1210.7 423.1L1212 420.4L1213.3 417.7L1214.6 415L1215.9 412.3L1217.1 409.5L1218.4 406.8L1219.7 404.1L1220.9 401.4L1222.2 398.6L1223.5 395.9L1224.7 393.2L1226 390.4L1227.2 387.7L1228.5 385L1229.7 382.2L1231 379.5L1232.2 376.8L1233.4 374L1234.7 371.3L1235.9 368.5L1237.1 365.8L1238.3 363L1239.5 360.3L1240.7 357.5L1242 354.8L1243.2 352L1244.4 349.3L1245.5 346.5L1246.7 343.8L1247.9 341L1249.1 338.3L1250.3 335.5L1251.5 332.7L1252.6 330L1253.8 327.2L1255 324.4L1256.1 321.7L1257.3 318.9L1258.5 316.1L1259.6 313.3L1260.8 310.6L1261.9 307.8L1263 305L1264.2 302.2L1265.3 299.4L1266.4 296.6L1267.5 293.9L1268.7 291.1L1269.8 288.3L1270.9 285.5L1272 282.7L1273.1 279.9L1274.2 277.1L1275.3 274.3L1276.4 271.5L1277.5 268.7L1278.6 265.9L1279.6 263.1L1280.7 260.3L1281.8 257.5L1282.8 254.7L1283.9 251.9L1285 249.1L1286 246.3L1287.1 243.4L1288.1 240.6L1289.2 237.8L1290.2 235L1291.2 232.2L1292.3 229.3L1293.3 226.5L1294.3 223.7L1295.3 220.9L1296.3 218L1297.3 215.2L1298.3 212.4L1299.3 209.5L1300.3 206.7L1301.3 203.9L1302.3 201L1303.3 198.2L1304.3 195.3L1305.2 192.5L1306.2 189.6L1307.2 186.8L1308.1 183.9L1309.1 181.1L1310 178.2L1311 175.4L1311.9 172.5L1312.9 169.7L1313.8 166.8"/>
<path d="M285 915L287.9 914.2L290.7 913.4L293.6 912.7L296.5 911.9L299.4 911.2L302.3 910.5L305.2 909.8L308.1 909.2L311 908.5L313.9 907.9L316.8 907.3L319.7 906.7L322.7 906.1L325.6 905.5L328.5 905L331.5 904.4L334.4 903.9L337.4 903.3L340.3 902.8L343.3 902.3L346.2 901.8L349.2 901.3L352.2 900.9L355.1 900.4L358.1 899.9L361.1 899.4L364 899L367 898.5L370 898.1L372.9 897.6L375.9 897.2L378.9 896.7L381.9 896.3L384.8 895.9L387.8 895.4L390.8 895L393.8 894.5L396.8 894.1L399.7 893.7L402.7 893.2L405.7 892.8L408.7 892.3L411.7 891.9L414.7 891.5L417.6 891L420.6 890.6L423.6 890.2L426.6 889.7L429.6 889.3L432.5 888.8L435.5 888.4L438.5 887.9L441.5 887.5L444.5 887L447.4 886.6L450.4 886.1L453.4 885.7L456.4 885.2L459.3 884.8L462.3 884.3L465.3 883.8L468.3 883.3L471.2 882.9L474.2 882.4L477.2 881.9L480.1 881.4L483.1 880.9L486.1 880.4L489 879.9L492 879.4L495 878.9L497.9 878.4L500.9 877.9L503.8 877.4L506.8 876.9L509.8 876.4L512.7 875.9L515.7 875.3L518.6 874.8L521.6 874.3L524.5 873.7L527.5 873.2L530.4 872.7L533.4 872.1L536.3 871.6L539.3 871L542.2 870.5L545.2 869.9L548.1 869.3L551.1 868.8L554 868.2L557 867.6L559.9 867.1L562.9 866.5L565.8 865.9L568.7 865.3L571.7 864.7L574.6 864.2L577.6 863.6L580.5 863L583.5 862.4L586.4 861.8L589.3 861.2L592.3 860.6L595.2 859.9L598.2 859.3L601.1 858.7L604 858.1L607 857.5L609.9 856.9L612.8 856.2L615.8 855.6L618.7 855L621.7 854.3L624.6 853.7L627.5 853L630.5 852.4L633.4 851.7L636.3 851.1L639.3 850.4L642.2 849.8L645.1 849.1L648.1 848.5L651 847.8L654 847.1L656.9 846.5L659.8 845.8L662.8 845.1L665.7 844.4L668.6 843.7L671.6 843L674.5 842.4L677.4 841.7L680.4 841L683.3 840.3L686.2 839.5L689.1 838.8L692.1 838.1L695 837.4L697.9 836.7L700.8 835.9L703.8 835.2L706.7 834.5L709.6 833.7L712.5 833L715.4 832.2L718.4 831.4L721.3 830.7L724.2 829.9L727.1 829.1L730 828.3L732.9 827.5L735.8 826.7L738.7 825.9L741.6 825.1L744.5 824.3L747.4 823.5L750.3 822.7L753.2 821.8L756.1 821L759 820.2L761.9 819.3L764.8 818.4L767.6 817.6L770.5 816.7L773.4 815.8L776.3 814.9L779.1 814L782 813.1L784.9 812.2L787.7 811.3L790.6 810.4L793.4 809.4L796.3 808.5L799.1 807.5L802 806.6L804.8 805.6L807.7 804.6L810.5 803.6L813.3 802.6L816.2 801.6L819 800.6L821.8 799.6L824.6 798.6L827.4 797.5L830.2 796.5L833.1 795.4L835.9 794.4L838.7 793.3L841.4 792.2L844.2 791.1L847 790L849.8 788.9L852.6 787.8L855.3 786.6L858.1 785.5L860.9 784.3L863.6 783.1L866.4 782L869.1 780.8L871.9 779.6L874.6 778.4L877.4 777.2L880.1 775.9L882.8 774.7L885.5 773.4L888.2 772.2L890.9 770.9L893.6 769.6L896.3 768.3L899 767L901.7 765.6L904.4 764.3L907.1 763L909.8 761.6L912.4 760.2L915.1 758.8L917.7 757.4L920.4 756L923 754.6L925.7 753.2L928.3 751.7L930.9 750.3L933.5 748.8L936.1 747.3L938.7 745.8L941.3 744.3L943.9 742.8L946.5 741.2L949.1 739.7L951.7 738.1L954.2 736.5L956.8 734.9L959.3 733.3L961.9 731.7L964.4 730L966.9 728.4L969.5 726.7L972 725L974.5 723.3L977 721.6"/>
</g>
<g class="c rd">
<path d="M228 915L231 914.7L234 914.4L237 914.1L240 913.8L243 913.4L246 913.1L248.9 912.8L251.9 912.4L254.9 912.1L257.9 911.7L260.9 911.4L263.9 911L266.9 910.7L269.9 910.3L272.9 909.9L275.9 909.6L278.8 909.2L281.8 908.8L284.8 908.4L287.8 908L290.8 907.6L293.8 907.3L296.8 906.9L299.8 906.4L302.7 906L305.7 905.6L308.7 905.2L311.7 904.8L314.7 904.4L317.7 903.9L320.6 903.5L323.6 903.1L326.6 902.6L329.6 902.2L332.6 901.7L335.6 901.3L338.5 900.8L341.5 900.4L344.5 899.9L347.5 899.5L350.5 899L353.4 898.5L356.4 898.1L359.4 897.6L362.4 897.1L365.3 896.6L368.3 896.1L371.3 895.7L374.3 895.2L377.3 894.7L380.2 894.2L383.2 893.7L386.2 893.2L389.2 892.7L392.1 892.2L395.1 891.7L398.1 891.2L401 890.6L404 890.1L407 889.6L410 889.1L412.9 888.6L415.9 888L418.9 887.5L421.8 887L424.8 886.5L427.8 885.9L430.8 885.4L433.7 884.8L436.7 884.3L439.7 883.8L442.6 883.2L445.6 882.7L448.6 882.1L451.5 881.6L454.5 881L457.5 880.5L460.4 879.9L463.4 879.3L466.3 878.8L469.3 878.2L472.3 877.6L475.2 877.1L478.2 876.5L481.2 875.9L484.1 875.3L487.1 874.7L490 874.2L493 873.6L496 873L498.9 872.4L501.9 871.8L504.8 871.2L507.8 870.6L510.7 870L513.7 869.4L516.6 868.8L519.6 868.2L522.5 867.6L525.5 866.9L528.5 866.3L531.4 865.7L534.4 865.1L537.3 864.5L540.3 863.8L543.2 863.2L546.1 862.6L549.1 861.9L552 861.3L555 860.6L557.9 860L560.9 859.4L563.8 858.7L566.8 858.1L569.7 857.4L572.6 856.7L575.6 856.1L578.5 855.4L581.5 854.7L584.4 854.1L587.3 853.4L590.3 852.7L593.2 852.1L596.1 851.4L599.1 850.7L602 850.0"/>
<path d="M602 850L599.3 851.3L596.5 852.5L593.7 853.7L591 854.9L588.2 856.1L585.4 857.2L582.7 858.3L579.9 859.5L577.1 860.6L574.3 861.6L571.5 862.7L568.7 863.7L565.8 864.8L563 865.8L560.2 866.8L557.3 867.7L554.5 868.7L551.7 869.6L548.8 870.6L546 871.5L543.1 872.4L540.2 873.2L537.4 874.1L534.5 875L531.6 875.8L528.7 876.6L525.8 877.4L523 878.2L520.1 879L517.2 879.7L514.3 880.5L511.3 881.2L508.4 881.9L505.5 882.6L502.6 883.3L499.7 884L496.7 884.7L493.8 885.3L490.9 886L487.9 886.6L485 887.2L482.1 887.9L479.1 888.5L476.2 889L473.2 889.6L470.3 890.2L467.3 890.8L464.3 891.3L461.4 891.8L458.4 892.4L455.4 892.9L452.5 893.4L449.5 893.9L446.5 894.4L443.6 894.9L440.6 895.4L437.6 895.8L434.6 896.3L431.6 896.7L428.6 897.2L425.7 897.6L422.7 898.1L419.7 898.5L416.7 898.9L413.7 899.3L410.7 899.7L407.7 900.1L404.7 900.5L401.7 900.9L398.7 901.3L395.7 901.7L392.7 902L389.7 902.4L386.7 902.8L383.7 903.1L380.7 903.5L377.7 903.8L374.7 904.2L371.7 904.5L368.7 904.8L365.7 905.2L362.7 905.5L359.7 905.8L356.7 906.2L353.7 906.5L350.7 906.8L347.7 907.1L344.7 907.4L341.7 907.7L338.7 908L335.7 908.3L332.7 908.6L329.7 909L326.7 909.3L323.7 909.6L320.7 909.9L317.7 910.2L314.7 910.5L311.7 910.8L308.7 911.1L305.8 911.4L302.8 911.6L299.8 911.9L296.8 912.2L293.8 912.5L290.8 912.9L287.8 913.2L284.9 913.5L281.9 913.8L278.9 914.1L275.9 914.4L273 914.7L270 915.0"/>
<path d="M270 915L272.9 914.4L275.9 913.8L278.8 913.3L281.7 912.7L284.7 912.1L287.6 911.5L290.5 911L293.5 910.4L296.4 909.8L299.4 909.3L302.3 908.7L305.2 908.2L308.2 907.6L311.1 907.1L314.1 906.5L317 906L320 905.4L322.9 904.9L325.9 904.4L328.8 903.8L331.8 903.3L334.7 902.8L337.7 902.2L340.6 901.7L343.6 901.2L346.5 900.6L349.5 900.1L352.4 899.6L355.4 899.1L358.3 898.5L361.3 898L364.3 897.5L367.2 897L370.2 896.5L373.1 895.9L376.1 895.4L379 894.9L382 894.4L385 893.9L387.9 893.3L390.9 892.8L393.8 892.3L396.8 891.8L399.8 891.3L402.7 890.7L405.7 890.2L408.6 889.7L411.6 889.2L414.6 888.7L417.5 888.2L420.5 887.6L423.4 887.1L426.4 886.6L429.4 886.1L432.3 885.5L435.3 885L438.2 884.5L441.2 884L444.2 883.4L447.1 882.9L450.1 882.4L453 881.8L456 881.3L459 880.8L461.9 880.2L464.9 879.7L467.8 879.2L470.8 878.6L473.7 878.1L476.7 877.5L479.6 877L482.6 876.4L485.6 875.9L488.5 875.3L491.5 874.7L494.4 874.2L497.4 873.6L500.3 873L503.3 872.5L506.2 871.9L509.2 871.3L512.1 870.8L515.1 870.2L518 869.6L520.9 869L523.9 868.4L526.8 867.8L529.8 867.2L532.7 866.6L535.7 866L538.6 865.4L541.5 864.8L544.5 864.2L547.4 863.5L550.3 862.9L553.3 862.3L556.2 861.7L559.1 861L562.1 860.4L565 859.7L567.9 859.1L570.9 858.4L573.8 857.8L576.7 857.1L579.6 856.4L582.6 855.7L585.5 855.1L588.4 854.4L591.3 853.7L594.2 853L597.1 852.3L600.1 851.6L603 850.9L605.9 850.2L608.8 849.4L611.7 848.7L614.6 848L617.5 847.2L620.4 846.5L623.3 845.7L626.2 845L629.1 844.2L632 843.5L634.9 842.7L637.8 841.9L640.7 841.1L643.6 840.3L646.4 839.5L649.3 838.7L652.2 837.9L655.1 837.1L658 836.2L660.8 835.4L663.7 834.6L666.6 833.7L669.5 832.8L672.3 832L675.2 831.1L678.1 830.2L680.9 829.3L683.8 828.4L686.6 827.5L689.5 826.6L692.3 825.7L695.2 824.8L698 823.9L700.9 822.9L703.7 822L706.6 821L709.4 820L712.2 819.1L715.1 818.1L717.9 817.1L720.7 816.1L723.5 815.1L726.4 814.1L729.2 813L732 812L734.8 810.9L737.6 809.9L740.4 808.8L743.2 807.8L746.1 806.7L748.9 805.6L751.7 804.5L754.4 803.4L757.2 802.2L760 801.1L762.8 800L765.6 798.8L768.4 797.7L771.2 796.5L773.9 795.3L776.7 794.1L779.5 792.9L782.2 791.7L785 790.5"/>
<path d="M785 790.5L783 792.9L781 795.3L779 797.6L776.9 799.8L774.8 802L772.7 804.1L770.5 806.2L768.3 808.3L766 810.2L763.8 812.2L761.4 814.1L759.1 815.9L756.8 817.7L754.4 819.5L752 821.2L749.5 822.9L747 824.5L744.6 826.1L742 827.7L739.5 829.2L736.9 830.6L734.4 832.1L731.8 833.5L729.1 834.9L726.5 836.2L723.8 837.5L721.1 838.8L718.4 840L715.7 841.3L713 842.4L710.2 843.6L707.5 844.7L704.7 845.9L701.9 846.9L699.1 848L696.3 849.1L693.5 850.1L690.7 851.1L687.8 852.1L685 853L682.1 854L679.3 854.9L676.4 855.8L673.5 856.7L670.6 857.6L667.7 858.5L664.9 859.4L662 860.2L659.1 861.1L656.2 861.9L653.3 862.7L650.4 863.5L647.4 864.3L644.5 865.1L641.6 865.9L638.7 866.7L635.8 867.4L632.8 868.2L629.9 868.9L627 869.7L624 870.4L621.1 871.1L618.1 871.8L615.2 872.5L612.3 873.2L609.3 873.8L606.4 874.5L603.4 875.2L600.4 875.8L597.5 876.4L594.5 877.1L591.6 877.7L588.6 878.3L585.6 878.9L582.7 879.5L579.7 880.1L576.8 880.7L573.8 881.3L570.8 881.9L567.8 882.4L564.9 883L561.9 883.6L558.9 884.1L556 884.7L553 885.2L550 885.7L547 886.3L544.1 886.8L541.1 887.3L538.1 887.8L535.2 888.3L532.2 888.8L529.2 889.3L526.2 889.8L523.3 890.3L520.3 890.8L517.3 891.3L514.4 891.7L511.4 892.2L508.4 892.7L505.4 893.1L502.5 893.6L499.5 894L496.5 894.5L493.5 894.9L490.6 895.4L487.6 895.8L484.6 896.2L481.6 896.6L478.7 897.1L475.7 897.5L472.7 897.9L469.7 898.3L466.8 898.7L463.8 899.1L460.8 899.5L457.8 899.8L454.8 900.2L451.9 900.6L448.9 901L445.9 901.3L442.9 901.7L439.9 902.1L437 902.4L434 902.8L431 903.1L428 903.5L425 903.8L422 904.1L419.1 904.5L416.1 904.8L413.1 905.1L410.1 905.4L407.1 905.7L404.1 906L401.1 906.3L398.2 906.6L395.2 906.9L392.2 907.2L389.2 907.5L386.2 907.8L383.2 908.1L380.2 908.4L377.2 908.6L374.2 908.9L371.2 909.2L368.2 909.4L365.2 909.7L362.2 909.9L359.2 910.2L356.2 910.4L353.2 910.7L350.2 910.9L347.2 911.2L344.2 911.4L341.2 911.6L338.2 911.9L335.2 912.1L332.2 912.3L329.2 912.5L326.2 912.7L323.2 912.9L320.2 913.1L317.2 913.3L314.1 913.5L311.1 913.7L308.1 913.9L305.1 914.1L302.1 914.3L299.1 914.5L296 914.7L293 914.8L290 915.0"/>
<path d="M290 915L292.9 914.3L295.9 913.6L298.8 912.9L301.7 912.2L304.6 911.6L307.6 910.9L310.5 910.2L313.4 909.6L316.4 909L319.3 908.3L322.2 907.7L325.2 907.1L328.1 906.5L331.1 905.8L334 905.2L336.9 904.6L339.9 904.1L342.8 903.5L345.8 902.9L348.7 902.3L351.7 901.7L354.6 901.2L357.6 900.6L360.5 900.1L363.5 899.5L366.4 899L369.4 898.4L372.3 897.9L375.3 897.3L378.2 896.8L381.2 896.3L384.1 895.7L387.1 895.2L390 894.7L393 894.2L396 893.6L398.9 893.1L401.9 892.6L404.8 892.1L407.8 891.6L410.7 891.1L413.7 890.6L416.7 890L419.6 889.5L422.6 889L425.5 888.5L428.5 888L431.5 887.5L434.4 887L437.4 886.5L440.3 886L443.3 885.5L446.3 885L449.2 884.4L452.2 883.9L455.1 883.4L458.1 882.9L461.1 882.4L464 881.9L467 881.3L469.9 880.8L472.9 880.3L475.9 879.8L478.8 879.2L481.8 878.7L484.7 878.2L487.7 877.6L490.7 877.1L493.6 876.5L496.6 876L499.5 875.4L502.5 874.9L505.4 874.3L508.4 873.7L511.3 873.2L514.3 872.6L517.2 872L520.2 871.4L523.2 870.9L526.1 870.3L529.1 869.7L532 869.1L535 868.5L537.9 867.9L540.8 867.3L543.8 866.7L546.7 866L549.7 865.4L552.6 864.8L555.6 864.2L558.5 863.5L561.4 862.9L564.4 862.2L567.3 861.6L570.3 860.9L573.2 860.3L576.1 859.6L579.1 858.9L582 858.3L584.9 857.6L587.8 856.9L590.8 856.2L593.7 855.5L596.6 854.8L599.5 854.1L602.5 853.3L605.4 852.6L608.3 851.9L611.2 851.2L614.1 850.4L617 849.7L619.9 848.9L622.8 848.1L625.7 847.4L628.6 846.6L631.6 845.8L634.5 845L637.3 844.2L640.2 843.4L643.1 842.6L646 841.8L648.9 841L651.8 840.1L654.7 839.3L657.6 838.5L660.5 837.6L663.3 836.7L666.2 835.9L669.1 835L672 834.1L674.8 833.2L677.7 832.3L680.6 831.4L683.4 830.5L686.3 829.6L689.1 828.6L692 827.7L694.8 826.7L697.7 825.8L700.5 824.8L703.4 823.8L706.2 822.8L709 821.8L711.9 820.8L714.7 819.8L717.5 818.8L720.3 817.8L723.1 816.7L725.9 815.7L728.8 814.6L731.6 813.6L734.4 812.5L737.2 811.4L740 810.3L742.7 809.2L745.5 808.1L748.3 807L751.1 805.8L753.9 804.7L756.6 803.5L759.4 802.4L762.1 801.2L764.9 800L767.7 798.8L770.4 797.6L773.1 796.4L775.9 795.2L778.6 794L781.3 792.7L784.1 791.4L786.8 790.2L789.5 788.9L792.2 787.6L794.9 786.3L797.6 785L800.3 783.7L803 782.3L805.6 781L808.3 779.6L811 778.3L813.7 776.9L816.3 775.5L819 774.1L821.6 772.7L824.3 771.3L826.9 769.8L829.5 768.4L832.1 766.9L834.8 765.4L837.4 763.9L840 762.4L842.6 760.9L845.2 759.4L847.8 757.9L850.3 756.3L852.9 754.8L855.5 753.2L858.1 751.7L860.6 750.1L863.2 748.5L865.7 746.9L868.3 745.3L870.8 743.6L873.3 742L875.9 740.4L878.4 738.7L880.9 737.1L883.4 735.4L885.9 733.7L888.4 732L890.9 730.4L893.4 728.7L895.9 726.9L898.4 725.2L900.8 723.5L903.3 721.8L905.8 720L908.2 718.3L910.7 716.6L913.1 714.8L915.6 713L918 711.3L920.5 709.5L922.9 707.7L925.3 705.9L927.7 704.1L930.1 702.3L932.6 700.5L935 698.7L937.4 696.9L939.8 695.1L942.2 693.3L944.5 691.4L946.9 689.6L949.3 687.8L951.7 685.9L954 684.1L956.4 682.3L958.8 680.4L961.1 678.5L963.5 676.7L965.8 674.8L968.2 673L970.5 671.1L972.8 669.2L975.2 667.4L977.5 665.5"/>
<path d="M977.5 665.5L976.9 668.5L976.2 671.5L975.5 674.5L974.7 677.4L973.9 680.4L973.1 683.3L972.2 686.2L971.3 689.1L970.3 692L969.4 694.8L968.3 697.7L967.2 700.5L966.1 703.3L965 706.1L963.8 708.9L962.6 711.6L961.3 714.4L960 717.1L958.7 719.8L957.3 722.4L955.9 725.1L954.4 727.7L952.9 730.3L951.4 732.9L949.8 735.5L948.3 738L946.6 740.5L945 743L943.3 745.4L941.5 747.9L939.8 750.3L938 752.7L936.1 755L934.3 757.3L932.4 759.6L930.4 761.9L928.5 764.2L926.5 766.4L924.5 768.6L922.4 770.7L920.4 772.9L918.3 775L916.1 777.1L914 779.1L911.8 781.1L909.6 783.2L907.3 785.1L905.1 787.1L902.8 789L900.5 790.9L898.2 792.8L895.8 794.6L893.4 796.4L891 798.2L888.6 800L886.2 801.7L883.8 803.4L881.3 805.1L878.8 806.8L876.3 808.4L873.8 810L871.3 811.6L868.7 813.1L866.1 814.7L863.6 816.2L861 817.6L858.4 819.1L855.8 820.5L853.1 821.9L850.5 823.3L847.8 824.6L845.2 825.9L842.5 827.3L839.8 828.5L837.1 829.8L834.4 831L831.7 832.2L828.9 833.4L826.2 834.6L823.4 835.7L820.7 836.9L817.9 838L815.1 839.1L812.3 840.2L809.5 841.2L806.7 842.2L803.9 843.3L801.1 844.3L798.2 845.2L795.4 846.2L792.5 847.2L789.7 848.1L786.8 849L783.9 849.9L781.1 850.8L778.2 851.7L775.3 852.6L772.4 853.4L769.5 854.2L766.6 855.1L763.7 855.9L760.8 856.7L757.8 857.5L754.9 858.2L752 859L749 859.8L746.1 860.5L743.2 861.3L740.2 862L737.3 862.7L734.3 863.4L731.4 864.1L728.4 864.8L725.5 865.5L722.5 866.2L719.6 866.9L716.6 867.5L713.7 868.2L710.7 868.9L707.8 869.5L704.8 870.2L701.8 870.8L698.9 871.5L695.9 872.1L693 872.8L690 873.4L687.1 874L684.1 874.7L681.2 875.3L678.2 875.9L675.3 876.5L672.3 877.2L669.4 877.8L666.4 878.4L663.5 879L660.5 879.6L657.6 880.2L654.7 880.8L651.7 881.4L648.8 882L645.8 882.6L642.9 883.2L640 883.7L637 884.3L634.1 884.9L631.1 885.5L628.2 886L625.2 886.6L622.3 887.1L619.4 887.7L616.4 888.2L613.5 888.7L610.5 889.3L607.6 889.8L604.7 890.3L601.7 890.8L598.8 891.3L595.8 891.8L592.9 892.3L589.9 892.8L587 893.3L584.1 893.8L581.1 894.3L578.2 894.7L575.2 895.2L572.3 895.6L569.3 896.1L566.4 896.5L563.4 896.9L560.4 897.4L557.5 897.8L554.5 898.2L551.6 898.6L548.6 899L545.7 899.4L542.7 899.7L539.7 900.1L536.8 900.5L533.8 900.8L530.8 901.2L527.8 901.5L524.9 901.8L521.9 902.1L518.9 902.4L515.9 902.7L513 903L510 903.3L507 903.6L504 903.9L501 904.1L498 904.4L495 904.6L492 904.8L489 905.1L486 905.3L483 905.5L480 905.7L477 905.9L474 906.1L471 906.3L468 906.5L465 906.6L462 906.8L459 907L456 907.2L453 907.3L449.9 907.5L446.9 907.6L443.9 907.8L440.9 908L437.9 908.1L434.9 908.3L431.9 908.4L428.9 908.6L425.8 908.7L422.8 908.9L419.8 909L416.8 909.2L413.8 909.3L410.8 909.5L407.8 909.6L404.8 909.8L401.8 909.9L398.7 910.1L395.7 910.2L392.7 910.4L389.7 910.6L386.7 910.7L383.7 910.9L380.7 911.1L377.7 911.3L374.7 911.4L371.7 911.6L368.7 911.8L365.7 912L362.7 912.2L359.8 912.5L356.8 912.7L353.8 912.9L350.8 913.1L347.8 913.4L344.8 913.6L341.9 913.9L338.9 914.2L335.9 914.4L333 914.7L330 915.0"/>
<path d="M330 915L332.8 913.9L335.6 912.9L338.4 911.9L341.3 910.9L344.1 910L347 909L349.8 908.1L352.7 907.2L355.5 906.4L358.4 905.5L361.3 904.7L364.1 903.9L367 903.1L369.9 902.3L372.8 901.6L375.7 900.9L378.6 900.1L381.5 899.4L384.4 898.8L387.3 898.1L390.3 897.4L393.2 896.8L396.1 896.2L399 895.5L402 894.9L404.9 894.3L407.8 893.8L410.8 893.2L413.7 892.6L416.7 892.1L419.6 891.5L422.6 891L425.5 890.5L428.5 889.9L431.5 889.4L434.4 888.9L437.4 888.4L440.3 887.9L443.3 887.4L446.3 886.9L449.2 886.4L452.2 885.8L455.2 885.3L458.1 884.8L461.1 884.3L464 883.8L467 883.3L470 882.8L472.9 882.3L475.9 881.8L478.9 881.3L481.8 880.8L484.8 880.3L487.7 879.8L490.7 879.2L493.7 878.7L496.6 878.2L499.6 877.7L502.5 877.1L505.5 876.6L508.5 876.1L511.4 875.5L514.4 875L517.3 874.4L520.3 873.9L523.2 873.3L526.2 872.8L529.1 872.2L532.1 871.7L535 871.1L538 870.5L540.9 869.9L543.9 869.3L546.8 868.7L549.7 868.1L552.7 867.5L555.6 866.9L558.6 866.3L561.5 865.7L564.4 865.1L567.4 864.4L570.3 863.8L573.2 863.2L576.2 862.5L579.1 861.8L582 861.2L584.9 860.5L587.9 859.8L590.8 859.1L593.7 858.4L596.6 857.7L599.5 857L602.4 856.3L605.3 855.6L608.3 854.9L611.2 854.1L614.1 853.4L617 852.6L619.9 851.9L622.8 851.1L625.7 850.4L628.6 849.6L631.5 848.8L634.4 848L637.3 847.2L640.2 846.4L643.1 845.6L646 844.8L648.8 844L651.7 843.2L654.6 842.4L657.5 841.6L660.4 840.7L663.3 839.9L666.2 839.1L669.1 838.2L672 837.4L674.8 836.5L677.7 835.7L680.6 834.8L683.5 833.9L686.4 833.1L689.2 832.2L692.1 831.3L695 830.4L697.9 829.6L700.8 828.7L703.6 827.8L706.5 826.9L709.4 826L712.3 825.1L715.1 824.2L718 823.3L720.9 822.3L723.8 821.4L726.6 820.5L729.5 819.6L732.4 818.6L735.2 817.7L738.1 816.7L741 815.8L743.8 814.8L746.7 813.8L749.5 812.9L752.4 811.9L755.2 810.9L758.1 809.9L760.9 808.9L763.7 807.8L766.6 806.8L769.4 805.8L772.2 804.7L775 803.7L777.8 802.6L780.6 801.5L783.4 800.4L786.2 799.3L789 798.2L791.8 797.1L794.6 795.9L797.4 794.8L800.1 793.6L802.9 792.4L805.6 791.2L808.4 790L811.1 788.8L813.9 787.6L816.6 786.3L819.3 785L822 783.8L824.7 782.5L827.4 781.2L830.1 779.8L832.8 778.5L835.5 777.1L838.1 775.8L840.8 774.4L843.4 773L846.1 771.5L848.7 770.1L851.3 768.6L853.9 767.2L856.5 765.7L859.1 764.2L861.7 762.7L864.3 761.2L866.8 759.6L869.4 758.1L871.9 756.5L874.5 754.9L877 753.3L879.5 751.7L882 750L884.5 748.4L887 746.7L889.5 745L892 743.3L894.4 741.6L896.9 739.9L899.3 738.2L901.7 736.4L904.1 734.7L906.5 732.9L908.9 731.1L911.3 729.3L913.7 727.4L916 725.6L918.4 723.7L920.7 721.9L923 720L925.4 718.1L927.7 716.2L930 714.2L932.2 712.3L934.5 710.3L936.8 708.4L939 706.4L941.2 704.4L943.5 702.4L945.7 700.3L947.9 698.3L950.1 696.2L952.2 694.2L954.4 692.1L956.6 690L958.7 687.9L960.9 685.8L963 683.7L965.1 681.5L967.2 679.4L969.3 677.2L971.4 675.1L973.5 672.9L975.6 670.7L977.6 668.5L979.7 666.3L981.7 664.1L983.8 661.9L985.8 659.7L987.8 657.5L989.8 655.2L991.9 653L993.9 650.7L995.9 648.5L997.8 646.2L999.8 643.9L1001.8 641.6L1003.8 639.4L1005.7 637.1L1007.7 634.8L1009.6 632.5L1011.6 630.2L1013.5 627.9L1015.5 625.6L1017.4 623.2L1019.3 620.9L1021.2 618.6L1023.2 616.3L1025.1 614L1027 611.6L1028.9 609.3L1030.8 606.9L1032.7 604.6L1034.5 602.3L1036.4 599.9L1038.3 597.6L1040.2 595.2L1042 592.8L1043.9 590.5L1045.7 588.1L1047.6 585.8L1049.4 583.4L1051.3 581L1053.1 578.6L1054.9 576.2L1056.8 573.9L1058.6 571.5L1060.4 569.1L1062.2 566.7L1064 564.3L1065.8 561.9L1067.6 559.5L1069.4 557.1L1071.2 554.7L1073 552.2L1074.7 549.8L1076.5 547.4L1078.3 545L1080 542.5L1081.8 540.1L1083.5 537.7L1085.3 535.2L1087 532.8L1088.7 530.3L1090.5 527.9L1092.2 525.4L1093.9 523L1095.6 520.5L1097.3 518L1099 515.6L1100.7 513.1L1102.4 510.6L1104.1 508.1L1105.8 505.7L1107.4 503.2L1109.1 500.7L1110.8 498.2L1112.4 495.7L1114.1 493.2L1115.7 490.7L1117.4 488.2L1119 485.6L1120.6 483.1L1122.2 480.6L1123.9 478.1L1125.5 475.5L1127.1 473L1128.7 470.5L1130.3 467.9L1131.9 465.4L1133.5 462.8L1135 460.3L1136.6 457.7L1138.2 455.2L1139.7 452.6L1141.3 450L1142.9 447.4L1144.4 444.9L1145.9 442.3L1147.5 439.7L1149 437.1L1150.5 434.5L1152.1 431.9L1153.6 429.3L1155.1 426.7L1156.6 424.1L1158.1 421.5L1159.6 418.9L1161 416.3L1162.5 413.6L1164 411.0"/>
<path d="M1164 411L1163.6 414L1163.2 416.9L1162.8 419.9L1162.4 422.8L1161.9 425.8L1161.5 428.7L1161.1 431.7L1160.7 434.7L1160.3 437.6L1159.8 440.6L1159.4 443.5L1159 446.5L1158.5 449.4L1158.1 452.4L1157.6 455.4L1157.2 458.3L1156.8 461.3L1156.3 464.2L1155.8 467.2L1155.4 470.2L1154.9 473.1L1154.5 476.1L1154 479L1153.5 482L1153 484.9L1152.5 487.9L1152 490.9L1151.5 493.8L1151 496.8L1150.5 499.7L1150 502.7L1149.5 505.6L1149 508.6L1148.5 511.6L1147.9 514.5L1147.4 517.5L1146.8 520.4L1146.3 523.4L1145.7 526.3L1145.1 529.3L1144.6 532.3L1144 535.2L1143.4 538.2L1142.8 541.1L1142.2 544.1L1141.6 547L1141 550L1140.3 552.9L1139.7 555.9L1139 558.9L1138.4 561.8L1137.7 564.8L1137.1 567.7L1136.4 570.7L1135.7 573.6L1135 576.6L1134.3 579.5L1133.5 582.4L1132.8 585.4L1132.1 588.3L1131.3 591.2L1130.5 594.2L1129.7 597.1L1128.9 600L1128.1 602.9L1127.3 605.8L1126.5 608.7L1125.6 611.7L1124.7 614.5L1123.9 617.4L1123 620.3L1122.1 623.2L1121.1 626.1L1120.2 629L1119.2 631.8L1118.2 634.7L1117.2 637.5L1116.2 640.4L1115.2 643.2L1114.1 646L1113.1 648.8L1112 651.6L1110.9 654.4L1109.7 657.2L1108.6 660L1107.4 662.8L1106.2 665.5L1105 668.3L1103.8 671L1102.5 673.8L1101.3 676.5L1100 679.2L1098.6 681.9L1097.3 684.6L1095.9 687.3L1094.5 690L1093.1 692.6L1091.7 695.2L1090.2 697.9L1088.8 700.5L1087.2 703.1L1085.7 705.7L1084.2 708.3L1082.6 710.8L1081 713.4L1079.4 715.9L1077.8 718.4L1076.1 720.9L1074.4 723.4L1072.7 725.8L1071 728.3L1069.2 730.7L1067.5 733.1L1065.7 735.5L1063.8 737.9L1062 740.2L1060.1 742.6L1058.3 744.9L1056.4 747.2L1054.4 749.5L1052.5 751.7L1050.5 754L1048.5 756.2L1046.5 758.4L1044.5 760.5L1042.4 762.7L1040.3 764.8L1038.2 766.9L1036.1 769L1034 771.1L1031.8 773.1L1029.6 775.1L1027.4 777.1L1025.2 779L1023 781L1020.7 782.9L1018.4 784.8L1016.1 786.6L1013.8 788.4L1011.4 790.2L1009 792L1006.6 793.8L1004.2 795.5L1001.8 797.2L999.3 798.8L996.9 800.5L994.4 802.1L991.9 803.7L989.3 805.2L986.8 806.7L984.2 808.3L981.6 809.7L979 811.2L976.4 812.7L973.8 814.1L971.2 815.5L968.5 816.8L965.8 818.2L963.2 819.5L960.5 820.8L957.7 822.1L955 823.4L952.3 824.6L949.5 825.9L946.8 827.1L944 828.3L941.2 829.5L938.5 830.6L935.7 831.8L932.9 832.9L930 834L927.2 835.1L924.4 836.2L921.6 837.2L918.7 838.3L915.9 839.3L913 840.3L910.1 841.3L907.3 842.3L904.4 843.3L901.5 844.3L898.7 845.3L895.8 846.2L892.9 847.1L890 848.1L887.1 849L884.2 849.9L881.3 850.8L878.4 851.7L875.5 852.5L872.6 853.4L869.7 854.3L866.8 855.1L863.9 855.9L861 856.8L858.1 857.6L855.2 858.4L852.3 859.2L849.4 860L846.5 860.8L843.6 861.6L840.7 862.3L837.7 863.1L834.8 863.8L831.9 864.6L829 865.3L826.1 866L823.1 866.8L820.2 867.5L817.3 868.2L814.4 868.8L811.4 869.5L808.5 870.2L805.6 870.9L802.6 871.5L799.7 872.2L796.8 872.8L793.8 873.5L790.9 874.1L788 874.7L785 875.3L782.1 875.9L779.1 876.5L776.2 877.1L773.3 877.7L770.3 878.3L767.4 878.8L764.4 879.4L761.5 879.9L758.5 880.5L755.6 881L752.6 881.6L749.7 882.1L746.7 882.6L743.8 883.1L740.8 883.6L737.8 884.1L734.9 884.6L731.9 885.1L729 885.6L726 886L723 886.5L720.1 887L717.1 887.4L714.2 887.9L711.2 888.3L708.2 888.7L705.3 889.2L702.3 889.6L699.3 890L696.4 890.4L693.4 890.8L690.4 891.2L687.4 891.6L684.5 892L681.5 892.4L678.5 892.8L675.5 893.1L672.6 893.5L669.6 893.9L666.6 894.2L663.6 894.6L660.7 894.9L657.7 895.3L654.7 895.6L651.7 895.9L648.7 896.3L645.7 896.6L642.8 896.9L639.8 897.2L636.8 897.5L633.8 897.8L630.8 898.1L627.8 898.4L624.8 898.7L621.9 899L618.9 899.3L615.9 899.5L612.9 899.8L609.9 900.1L606.9 900.3L603.9 900.6L600.9 900.8L597.9 901.1L594.9 901.4L591.9 901.6L589 901.8L586 902.1L583 902.3L580 902.5L577 902.8L574 903L571 903.2L568 903.4L565 903.6L562 903.9L559 904.1L556 904.3L553 904.5L550 904.7L547 904.9L544 905.1L541 905.2L538 905.4L535 905.6L532 905.8L529 906L526 906.2L523 906.3L520 906.5L517 906.7L514 906.8L511 907L508 907.2L505 907.3L502 907.5L499 907.7L496 907.8L493 908L490 908.1L487 908.3L484 908.4L481 908.6L478 908.7L475 908.9L472 909L469 909.2L466 909.3L463 909.4L460 909.6L457 909.7L454 909.9L451 910L448 910.1L444.9 910.3L441.9 910.4L438.9 910.5L435.9 910.7L432.9 910.8L429.9 910.9L426.9 911.1L423.9 911.2L420.9 911.3L417.9 911.5L414.9 911.6L411.9 911.7L408.9 911.9L405.9 912L402.9 912.1L399.9 912.3L396.9 912.4L393.9 912.5L390.9 912.7L387.9 912.8L384.9 912.9L381.9 913.1L378.9 913.2L375.9 913.3L372.9 913.5L369.9 913.6L366.9 913.7L364 913.9L361 914L358 914.1L355 914.3L352 914.4L349 914.6L346 914.7L343 914.9L340 915.0"/>
<path d="M340 915L342.8 913.9L345.6 912.9L348.5 911.8L351.3 910.8L354.2 909.9L357 908.9L359.9 908L362.7 907.1L365.6 906.2L368.5 905.4L371.3 904.5L374.2 903.7L377.1 902.9L380 902.2L382.9 901.4L385.8 900.7L388.7 900L391.6 899.3L394.5 898.6L397.4 898L400.4 897.4L403.3 896.7L406.2 896.1L409.1 895.5L412.1 894.9L415 894.4L417.9 893.8L420.9 893.3L423.8 892.7L426.8 892.2L429.7 891.7L432.7 891.2L435.6 890.7L438.6 890.2L441.6 889.7L444.5 889.2L447.5 888.8L450.4 888.3L453.4 887.8L456.4 887.4L459.3 886.9L462.3 886.4L465.3 886L468.2 885.5L471.2 885.1L474.2 884.6L477.1 884.1L480.1 883.7L483.1 883.2L486 882.7L489 882.3L492 881.8L494.9 881.3L497.9 880.8L500.9 880.3L503.8 879.8L506.8 879.3L509.8 878.7L512.7 878.2L515.7 877.7L518.6 877.1L521.6 876.6L524.5 876L527.5 875.4L530.4 874.9L533.4 874.3L536.3 873.7L539.3 873.1L542.2 872.5L545.2 871.9L548.1 871.2L551.1 870.6L554 870L556.9 869.4L559.9 868.7L562.8 868.1L565.7 867.4L568.7 866.7L571.6 866.1L574.5 865.4L577.5 864.7L580.4 864L583.3 863.4L586.3 862.7L589.2 862L592.1 861.3L595 860.6L597.9 859.8L600.9 859.1L603.8 858.4L606.7 857.7L609.6 856.9L612.5 856.2L615.4 855.5L618.4 854.7L621.3 854L624.2 853.2L627.1 852.5L630 851.7L632.9 851L635.8 850.2L638.7 849.5L641.6 848.7L644.5 847.9L647.4 847.2L650.3 846.4L653.2 845.6L656.1 844.8L659 844L661.9 843.3L664.8 842.5L667.6 841.7L670.5 840.9L673.4 840.1L676.3 839.3L679.2 838.5L682.1 837.7L685 836.9L687.8 836.1L690.7 835.3L693.6 834.5L696.5 833.7L699.3 832.9L702.2 832L705.1 831.2L707.9 830.4L710.8 829.5L713.7 828.7L716.5 827.8L719.4 827L722.3 826.1L725.1 825.3L728 824.4L730.8 823.5L733.7 822.7L736.6 821.8L739.4 820.9L742.3 820L745.1 819.1L747.9 818.2L750.8 817.2L753.6 816.3L756.5 815.4L759.3 814.5L762.1 813.5L765 812.6L767.8 811.6L770.6 810.6L773.5 809.6L776.3 808.7L779.1 807.7L782 806.7L784.8 805.7L787.6 804.6L790.4 803.6L793.2 802.6L796 801.5L798.9 800.5L801.7 799.4L804.5 798.3L807.3 797.2L810.1 796.2L812.9 795.1L815.7 793.9L818.5 792.8L821.3 791.7L824.1 790.5L826.9 789.4L829.6 788.2L832.4 787L835.2 785.8L838 784.6L840.8 783.4L843.5 782.2L846.3 781L849.1 779.7L851.8 778.5L854.6 777.2L857.3 775.9L860.1 774.6L862.8 773.3L865.5 772L868.2 770.7L871 769.3L873.7 768L876.4 766.6L879.1 765.2L881.8 763.8L884.5 762.4L887.1 761L889.8 759.6L892.5 758.2L895.1 756.7L897.8 755.2L900.4 753.8L903 752.3L905.6 750.8L908.2 749.2L910.8 747.7L913.4 746.2L916 744.6L918.6 743L921.1 741.4L923.7 739.8L926.2 738.2L928.7 736.6L931.3 734.9L933.8 733.3L936.3 731.6L938.7 729.9L941.2 728.2L943.7 726.5L946.1 724.8L948.5 723L951 721.2L953.4 719.5L955.8 717.7L958.1 715.9L960.5 714L962.8 712.2L965.2 710.3L967.5 708.5L969.8 706.6L972.1 704.7L974.4 702.8L976.7 700.8L978.9 698.9L981.2 696.9L983.4 695L985.6 693L987.8 691L990 689L992.2 687L994.3 684.9L996.5 682.9L998.6 680.8L1000.8 678.7L1002.9 676.6L1005 674.5L1007.1 672.4L1009.2 670.3L1011.2 668.2L1013.3 666L1015.3 663.8L1017.4 661.7L1019.4 659.5L1021.4 657.3L1023.4 655.1L1025.4 652.8L1027.4 650.6L1029.3 648.4L1031.3 646.1L1033.2 643.8L1035.1 641.6L1037.1 639.3L1039 637L1040.9 634.7L1042.8 632.4L1044.6 630L1046.5 627.7L1048.3 625.3L1050.2 623L1052 620.6L1053.8 618.2L1055.7 615.9L1057.5 613.5L1059.3 611.1L1061 608.6L1062.8 606.2L1064.6 603.8L1066.3 601.4L1068.1 598.9L1069.8 596.4L1071.5 594L1073.2 591.5L1074.9 589L1076.6 586.6L1078.3 584.1L1080 581.6L1081.7 579L1083.3 576.5L1085 574L1086.6 571.5L1088.2 568.9L1089.9 566.4L1091.5 563.9L1093.1 561.3L1094.7 558.7L1096.3 556.2L1097.9 553.6L1099.4 551L1101 548.4L1102.5 545.8L1104.1 543.2L1105.6 540.6L1107.2 538L1108.7 535.4L1110.2 532.8L1111.7 530.2L1113.2 527.6L1114.7 524.9L1116.2 522.3L1117.7 519.7L1119.1 517L1120.6 514.4L1122.1 511.7L1123.5 509.1L1125 506.4L1126.4 503.8L1127.8 501.1L1129.2 498.4L1130.7 495.8L1132.1 493.1L1133.5 490.4L1134.9 487.7L1136.2 485.1L1137.6 482.4L1139 479.7L1140.4 477L1141.7 474.3L1143.1 471.6L1144.5 468.9L1145.8 466.2L1147.1 463.5L1148.5 460.8L1149.8 458.1L1151.1 455.4L1152.4 452.7L1153.8 450L1155.1 447.3L1156.4 444.6L1157.7 441.9L1159 439.2L1160.2 436.5L1161.5 433.8L1162.8 431.1L1164.1 428.4L1165.4 425.7L1166.6 423L1167.9 420.3L1169.2 417.6L1170.4 414.9L1171.7 412.1L1172.9 409.4L1174.2 406.7L1175.4 404L1176.7 401.3L1177.9 398.6L1179.2 395.9L1180.4 393.2L1181.6 390.4L1182.9 387.7L1184.1 385L1185.4 382.3L1186.6 379.6L1187.8 376.9L1189.1 374.1L1190.3 371.4L1191.5 368.7L1192.8 366L1194 363.3L1195.2 360.5L1196.5 357.8L1197.7 355.1L1199 352.4L1200.2 349.7L1201.4 347L1202.7 344.2L1203.9 341.5L1205.2 338.8L1206.4 336.1L1207.7 333.4L1208.9 330.6L1210.2 327.9L1211.4 325.2L1212.7 322.5L1214 319.8L1215.2 317L1216.5 314.3L1217.8 311.6L1219.1 308.9L1220.3 306.2L1221.6 303.4L1222.9 300.7L1224.2 298L1225.5 295.3L1226.8 292.6L1228.1 289.8L1229.4 287.1L1230.7 284.4L1232 281.7L1233.3 279L1234.6 276.2L1235.9 273.5L1237.2 270.8L1238.4 268.1L1239.7 265.3L1241 262.6L1242.3 259.9L1243.6 257.2L1244.9 254.4L1246.1 251.7L1247.4 249L1248.7 246.2L1249.9 243.5L1251.2 240.7L1252.4 238L1253.7 235.3L1254.9 232.5L1256.2 229.8L1257.4 227L1258.6 224.3L1259.8 221.5L1261 218.8L1262.2 216L1263.4 213.2L1264.6 210.5L1265.7 207.7L1266.9 204.9L1268 202.2L1269.2 199.4L1270.3 196.6L1271.4 193.8L1272.5 191L1273.6 188.2L1274.7 185.4L1275.7 182.7L1276.8 179.9L1277.8 177.1L1278.8 174.2L1279.8 171.4L1280.8 168.6L1281.8 165.8"/>
</g>
<g class="c">
<line class="bs ls" x1="381.8" y1="110.1" x2="478.6" y2="110.1"/>
<line class="bd lg" x1="380" y1="177.0" x2="479" y2="177.0"/>
<line class="rs ls" x1="381.8" y1="245.2" x2="478.6" y2="245.2"/>
<line class="rd lg" x1="380" y1="314.0" x2="479" y2="314.0"/>
</g>
<text class="sb" x="490.6" y="123.3" font-size="40.2" textLength="273.5" lengthAdjust="spacingAndGlyphs">E610 (0.001/s)</text>
<text class="sb" x="490.6" y="190.9" font-size="40.2" textLength="249.8" lengthAdjust="spacingAndGlyphs">E610 (0.01/s)</text>
<text class="sb" x="490.6" y="258.6" font-size="40.2" textLength="273.5" lengthAdjust="spacingAndGlyphs">E640 (0.001/s)</text>
<text class="sb" x="490.6" y="326.2" font-size="40.2" textLength="249.8" lengthAdjust="spacingAndGlyphs">E640 (0.01/s)</text>
<text class="sb" x="155.6" y="933.3" font-size="56.3" text-anchor="middle">0</text>
<text class="sb" x="155.6" y="786.0" font-size="56.3" text-anchor="middle">1</text>
<text class="sb" x="155.6" y="639.9" font-size="56.3" text-anchor="middle">2</text>
<text class="sb" x="155.6" y="493.3" font-size="56.3" text-anchor="middle">3</text>
<text class="sb" x="155.6" y="345.3" font-size="56.3" text-anchor="middle">4</text>
<text class="sb" x="155.6" y="199.8" font-size="56.3" text-anchor="middle">5</text>
<text class="sb" x="155.6" y="53.0" font-size="56.3" text-anchor="middle">6</text>
<text class="sb" x="227.4" y="1013.2" font-size="56.3" text-anchor="middle">0</text>
<text class="sb" x="602.7" y="1013.2" font-size="56.3" text-anchor="middle">20</text>
<text class="sb" x="978.7" y="1013.2" font-size="56.3" text-anchor="middle">40</text>
<text class="sb" x="1353.0" y="1013.2" font-size="56.3" text-anchor="middle">60</text>
<text class="sb" x="1728.4" y="1013.2" font-size="56.3" text-anchor="middle">80</text>
<text class="sb" y="1099.3" font-size="56.3"><tspan x="690.6" textLength="320.5" lengthAdjust="spacingAndGlyphs">Compressive</tspan> <tspan x="1025.2" textLength="139.5" lengthAdjust="spacingAndGlyphs">strain</tspan> <tspan x="1182.7" textLength="81.3" lengthAdjust="spacingAndGlyphs">(%)</tspan></text>
<g transform="translate(56,0) rotate(-90)">
<text class="sb" y="0.0" font-size="56.3"><tspan x="-835.8" textLength="320.5" lengthAdjust="spacingAndGlyphs">Compressive</tspan> <tspan x="-500.2" textLength="144.0" lengthAdjust="spacingAndGlyphs">stress</tspan> <tspan x="-326.5" textLength="149.0" lengthAdjust="spacingAndGlyphs">(MPa)</tspan></text>
</g>
<text class="sf" x="850.2" y="1229" font-size="59">(<tspan font-weight="bold" dx="-0.3">a</tspan><tspan dx="0">)</tspan></text>
</svg>
</body>
</html>
